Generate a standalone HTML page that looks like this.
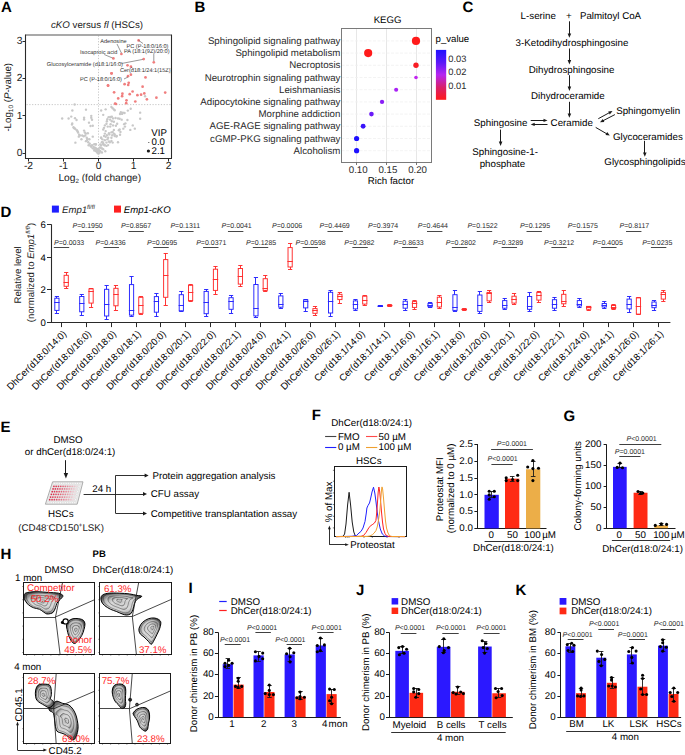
<!DOCTYPE html>
<html><head><meta charset="utf-8"><title>Figure</title>
<style>
html,body{margin:0;padding:0;background:#fff;}
body{width:685px;height:755px;overflow:hidden;}
svg{display:block;}
text{font-family:"Liberation Sans", sans-serif;text-rendering:geometricPrecision;}
</style></head>
<body>
<svg width="685" height="755" viewBox="0 0 685 755" font-family='"Liberation Sans", sans-serif'>
<rect x="0" y="0" width="685" height="755" fill="#fff"/>
<text x="1.00" y="11.80" font-size="15" font-weight="bold" fill="#000">A</text>
<text x="51.0" y="28.3" font-size="9.7" fill="#1a1a1a"><tspan font-style="italic">cKO</tspan> versus <tspan font-style="italic">fl</tspan> (HSCs)</text>
<line x1="98.50" y1="35.50" x2="98.50" y2="157.50" stroke="#b8b8b8" stroke-width="0.8" stroke-dasharray="1.2,1.6"/>
<line x1="26.50" y1="104.60" x2="170.50" y2="104.60" stroke="#b8b8b8" stroke-width="0.8" stroke-dasharray="1.2,1.6"/>
<circle cx="74.64" cy="104.53" r="1.20" fill="#c8c8c8"/>
<circle cx="72.37" cy="110.57" r="1.20" fill="#c8c8c8"/>
<circle cx="85.97" cy="109.67" r="1.20" fill="#c8c8c8"/>
<circle cx="62.18" cy="118.50" r="1.20" fill="#c8c8c8"/>
<circle cx="68.60" cy="118.50" r="1.20" fill="#c8c8c8"/>
<circle cx="71.24" cy="116.62" r="1.20" fill="#c8c8c8"/>
<circle cx="75.02" cy="118.13" r="1.20" fill="#c8c8c8"/>
<circle cx="76.53" cy="120.02" r="1.20" fill="#c8c8c8"/>
<circle cx="84.08" cy="117.75" r="1.20" fill="#c8c8c8"/>
<circle cx="84.08" cy="119.49" r="1.20" fill="#c8c8c8"/>
<circle cx="91.25" cy="115.86" r="1.20" fill="#c8c8c8"/>
<circle cx="91.25" cy="117.75" r="1.20" fill="#c8c8c8"/>
<circle cx="92.01" cy="119.79" r="1.20" fill="#c8c8c8"/>
<circle cx="88.99" cy="122.66" r="1.20" fill="#c8c8c8"/>
<circle cx="72.22" cy="123.41" r="1.20" fill="#c8c8c8"/>
<circle cx="71.99" cy="124.55" r="1.20" fill="#c8c8c8"/>
<circle cx="73.50" cy="127.19" r="1.20" fill="#c8c8c8"/>
<circle cx="74.64" cy="128.32" r="1.20" fill="#c8c8c8"/>
<circle cx="75.39" cy="129.08" r="1.20" fill="#c8c8c8"/>
<circle cx="77.66" cy="131.34" r="1.20" fill="#c8c8c8"/>
<circle cx="78.04" cy="132.48" r="1.20" fill="#c8c8c8"/>
<circle cx="84.08" cy="130.59" r="1.20" fill="#c8c8c8"/>
<circle cx="84.83" cy="132.48" r="1.20" fill="#c8c8c8"/>
<circle cx="85.97" cy="133.61" r="1.20" fill="#c8c8c8"/>
<circle cx="87.85" cy="133.23" r="1.20" fill="#c8c8c8"/>
<circle cx="79.17" cy="134.74" r="1.20" fill="#c8c8c8"/>
<circle cx="78.79" cy="136.63" r="1.20" fill="#c8c8c8"/>
<circle cx="82.19" cy="135.50" r="1.20" fill="#c8c8c8"/>
<circle cx="83.70" cy="136.25" r="1.20" fill="#c8c8c8"/>
<circle cx="85.21" cy="135.50" r="1.20" fill="#c8c8c8"/>
<circle cx="86.72" cy="137.76" r="1.20" fill="#c8c8c8"/>
<circle cx="87.48" cy="138.90" r="1.20" fill="#c8c8c8"/>
<circle cx="81.44" cy="139.27" r="1.20" fill="#c8c8c8"/>
<circle cx="92.76" cy="136.63" r="1.20" fill="#c8c8c8"/>
<circle cx="75.39" cy="142.67" r="1.20" fill="#c8c8c8"/>
<circle cx="85.97" cy="141.16" r="1.20" fill="#c8c8c8"/>
<circle cx="88.23" cy="142.30" r="1.20" fill="#c8c8c8"/>
<circle cx="89.74" cy="143.81" r="1.20" fill="#c8c8c8"/>
<circle cx="88.61" cy="145.32" r="1.20" fill="#c8c8c8"/>
<circle cx="90.50" cy="146.07" r="1.20" fill="#c8c8c8"/>
<circle cx="91.25" cy="146.83" r="1.20" fill="#c8c8c8"/>
<circle cx="94.27" cy="144.18" r="1.20" fill="#c8c8c8"/>
<circle cx="95.79" cy="144.56" r="1.20" fill="#c8c8c8"/>
<circle cx="92.76" cy="148.34" r="1.20" fill="#c8c8c8"/>
<circle cx="94.27" cy="149.09" r="1.20" fill="#c8c8c8"/>
<circle cx="95.79" cy="150.23" r="1.20" fill="#c8c8c8"/>
<circle cx="97.30" cy="152.11" r="1.20" fill="#c8c8c8"/>
<circle cx="98.43" cy="153.63" r="1.20" fill="#c8c8c8"/>
<circle cx="96.54" cy="150.60" r="1.20" fill="#c8c8c8"/>
<circle cx="100.32" cy="151.36" r="1.20" fill="#c8c8c8"/>
<circle cx="101.83" cy="148.34" r="1.20" fill="#c8c8c8"/>
<circle cx="101.07" cy="137.76" r="1.20" fill="#c8c8c8"/>
<circle cx="90.50" cy="126.06" r="1.20" fill="#c8c8c8"/>
<circle cx="92.76" cy="125.68" r="1.20" fill="#c8c8c8"/>
<circle cx="101.83" cy="142.30" r="1.20" fill="#c8c8c8"/>
<circle cx="103.34" cy="143.81" r="1.20" fill="#c8c8c8"/>
<circle cx="104.47" cy="145.32" r="1.20" fill="#c8c8c8"/>
<circle cx="100.32" cy="144.56" r="1.20" fill="#c8c8c8"/>
<circle cx="73.88" cy="127.95" r="1.20" fill="#c8c8c8"/>
<circle cx="76.90" cy="130.21" r="1.20" fill="#c8c8c8"/>
<circle cx="79.92" cy="135.50" r="1.20" fill="#c8c8c8"/>
<circle cx="89.37" cy="139.27" r="1.20" fill="#c8c8c8"/>
<circle cx="87.10" cy="140.03" r="1.20" fill="#c8c8c8"/>
<circle cx="92.01" cy="145.32" r="1.20" fill="#c8c8c8"/>
<circle cx="93.52" cy="146.83" r="1.20" fill="#c8c8c8"/>
<circle cx="95.03" cy="147.58" r="1.20" fill="#c8c8c8"/>
<circle cx="97.30" cy="149.09" r="1.20" fill="#c8c8c8"/>
<circle cx="98.81" cy="150.60" r="1.20" fill="#c8c8c8"/>
<circle cx="99.56" cy="152.87" r="1.20" fill="#c8c8c8"/>
<circle cx="97.67" cy="152.87" r="1.20" fill="#c8c8c8"/>
<circle cx="96.16" cy="151.36" r="1.20" fill="#c8c8c8"/>
<circle cx="94.27" cy="150.60" r="1.20" fill="#c8c8c8"/>
<circle cx="101.16" cy="110.44" r="1.20" fill="#c8c8c8"/>
<circle cx="105.67" cy="109.37" r="1.20" fill="#c8c8c8"/>
<circle cx="103.21" cy="114.87" r="1.20" fill="#c8c8c8"/>
<circle cx="111.42" cy="106.90" r="1.20" fill="#c8c8c8"/>
<circle cx="112.65" cy="108.14" r="1.20" fill="#c8c8c8"/>
<circle cx="113.88" cy="109.37" r="1.20" fill="#c8c8c8"/>
<circle cx="114.70" cy="110.19" r="1.20" fill="#c8c8c8"/>
<circle cx="120.86" cy="112.24" r="1.20" fill="#c8c8c8"/>
<circle cx="122.91" cy="112.65" r="1.20" fill="#c8c8c8"/>
<circle cx="124.56" cy="113.06" r="1.20" fill="#c8c8c8"/>
<circle cx="120.04" cy="114.05" r="1.20" fill="#c8c8c8"/>
<circle cx="122.09" cy="113.88" r="1.20" fill="#c8c8c8"/>
<circle cx="127.84" cy="110.60" r="1.20" fill="#c8c8c8"/>
<circle cx="130.71" cy="108.79" r="1.20" fill="#c8c8c8"/>
<circle cx="140.16" cy="112.65" r="1.20" fill="#c8c8c8"/>
<circle cx="140.16" cy="118.81" r="1.20" fill="#c8c8c8"/>
<circle cx="145.08" cy="96.23" r="1.20" fill="#c8c8c8"/>
<circle cx="108.55" cy="117.17" r="1.20" fill="#c8c8c8"/>
<circle cx="110.19" cy="117.00" r="1.20" fill="#c8c8c8"/>
<circle cx="111.83" cy="116.76" r="1.20" fill="#c8c8c8"/>
<circle cx="113.06" cy="118.40" r="1.20" fill="#c8c8c8"/>
<circle cx="115.53" cy="117.99" r="1.20" fill="#c8c8c8"/>
<circle cx="117.99" cy="118.40" r="1.20" fill="#c8c8c8"/>
<circle cx="119.63" cy="118.81" r="1.20" fill="#c8c8c8"/>
<circle cx="121.68" cy="119.63" r="1.20" fill="#c8c8c8"/>
<circle cx="127.43" cy="120.04" r="1.20" fill="#c8c8c8"/>
<circle cx="107.32" cy="119.22" r="1.20" fill="#c8c8c8"/>
<circle cx="106.90" cy="121.27" r="1.20" fill="#c8c8c8"/>
<circle cx="110.19" cy="119.63" r="1.20" fill="#c8c8c8"/>
<circle cx="111.83" cy="121.27" r="1.20" fill="#c8c8c8"/>
<circle cx="113.88" cy="121.68" r="1.20" fill="#c8c8c8"/>
<circle cx="106.49" cy="123.74" r="1.20" fill="#c8c8c8"/>
<circle cx="110.60" cy="124.15" r="1.20" fill="#c8c8c8"/>
<circle cx="104.85" cy="125.38" r="1.20" fill="#c8c8c8"/>
<circle cx="107.73" cy="126.61" r="1.20" fill="#c8c8c8"/>
<circle cx="110.19" cy="126.61" r="1.20" fill="#c8c8c8"/>
<circle cx="113.06" cy="125.38" r="1.20" fill="#c8c8c8"/>
<circle cx="115.94" cy="125.79" r="1.20" fill="#c8c8c8"/>
<circle cx="117.17" cy="123.74" r="1.20" fill="#c8c8c8"/>
<circle cx="124.15" cy="124.15" r="1.20" fill="#c8c8c8"/>
<circle cx="125.38" cy="123.33" r="1.20" fill="#c8c8c8"/>
<circle cx="104.03" cy="127.84" r="1.20" fill="#c8c8c8"/>
<circle cx="103.21" cy="129.48" r="1.20" fill="#c8c8c8"/>
<circle cx="124.97" cy="126.61" r="1.20" fill="#c8c8c8"/>
<circle cx="123.33" cy="128.66" r="1.20" fill="#c8c8c8"/>
<circle cx="119.63" cy="129.48" r="1.20" fill="#c8c8c8"/>
<circle cx="118.81" cy="130.30" r="1.20" fill="#c8c8c8"/>
<circle cx="113.88" cy="129.89" r="1.20" fill="#c8c8c8"/>
<circle cx="132.77" cy="125.38" r="1.20" fill="#c8c8c8"/>
<circle cx="134.82" cy="128.66" r="1.20" fill="#c8c8c8"/>
<circle cx="130.30" cy="129.89" r="1.20" fill="#c8c8c8"/>
<circle cx="104.85" cy="133.59" r="1.20" fill="#c8c8c8"/>
<circle cx="108.96" cy="133.18" r="1.20" fill="#c8c8c8"/>
<circle cx="111.42" cy="132.36" r="1.20" fill="#c8c8c8"/>
<circle cx="112.65" cy="131.95" r="1.20" fill="#c8c8c8"/>
<circle cx="113.88" cy="133.59" r="1.20" fill="#c8c8c8"/>
<circle cx="106.90" cy="135.23" r="1.20" fill="#c8c8c8"/>
<circle cx="109.37" cy="134.41" r="1.20" fill="#c8c8c8"/>
<circle cx="112.24" cy="135.23" r="1.20" fill="#c8c8c8"/>
<circle cx="114.70" cy="134.41" r="1.20" fill="#c8c8c8"/>
<circle cx="116.76" cy="136.05" r="1.20" fill="#c8c8c8"/>
<circle cx="120.45" cy="131.95" r="1.20" fill="#c8c8c8"/>
<circle cx="120.04" cy="134.82" r="1.20" fill="#c8c8c8"/>
<circle cx="101.16" cy="137.69" r="1.20" fill="#c8c8c8"/>
<circle cx="105.67" cy="136.87" r="1.20" fill="#c8c8c8"/>
<circle cx="108.14" cy="137.69" r="1.20" fill="#c8c8c8"/>
<circle cx="111.42" cy="137.69" r="1.20" fill="#c8c8c8"/>
<circle cx="114.70" cy="136.05" r="1.20" fill="#c8c8c8"/>
<circle cx="116.35" cy="136.46" r="1.20" fill="#c8c8c8"/>
<circle cx="104.85" cy="140.16" r="1.20" fill="#c8c8c8"/>
<circle cx="107.32" cy="139.33" r="1.20" fill="#c8c8c8"/>
<circle cx="108.96" cy="141.39" r="1.20" fill="#c8c8c8"/>
<circle cx="111.42" cy="140.98" r="1.20" fill="#c8c8c8"/>
<circle cx="112.65" cy="142.62" r="1.20" fill="#c8c8c8"/>
<circle cx="109.78" cy="142.21" r="1.20" fill="#c8c8c8"/>
<circle cx="102.80" cy="142.21" r="1.20" fill="#c8c8c8"/>
<circle cx="106.49" cy="142.62" r="1.20" fill="#c8c8c8"/>
<circle cx="103.21" cy="144.26" r="1.20" fill="#c8c8c8"/>
<circle cx="104.85" cy="145.08" r="1.20" fill="#c8c8c8"/>
<circle cx="106.49" cy="145.90" r="1.20" fill="#c8c8c8"/>
<circle cx="108.14" cy="145.08" r="1.20" fill="#c8c8c8"/>
<circle cx="117.99" cy="142.21" r="1.20" fill="#c8c8c8"/>
<circle cx="95.82" cy="144.26" r="1.20" fill="#c8c8c8"/>
<circle cx="99.93" cy="147.55" r="1.20" fill="#c8c8c8"/>
<circle cx="101.57" cy="148.37" r="1.20" fill="#c8c8c8"/>
<circle cx="103.21" cy="149.19" r="1.20" fill="#c8c8c8"/>
<circle cx="98.28" cy="151.65" r="1.20" fill="#c8c8c8"/>
<circle cx="96.64" cy="150.83" r="1.20" fill="#c8c8c8"/>
<circle cx="99.93" cy="150.83" r="1.20" fill="#c8c8c8"/>
<circle cx="105.26" cy="151.24" r="1.20" fill="#c8c8c8"/>
<circle cx="97.46" cy="152.47" r="1.20" fill="#c8c8c8"/>
<circle cx="98.69" cy="149.19" r="1.20" fill="#c8c8c8"/>
<circle cx="101.16" cy="145.49" r="1.20" fill="#c8c8c8"/>
<circle cx="102.39" cy="139.33" r="1.20" fill="#c8c8c8"/>
<circle cx="104.03" cy="136.05" r="1.20" fill="#c8c8c8"/>
<circle cx="105.67" cy="131.12" r="1.20" fill="#c8c8c8"/>
<circle cx="101.98" cy="152.47" r="1.20" fill="#c8c8c8"/>
<circle cx="96.23" cy="148.37" r="1.20" fill="#c8c8c8"/>
<circle cx="138.60" cy="40.40" r="1.35" fill="#f07e7e"/>
<circle cx="121.40" cy="54.00" r="1.35" fill="#f07e7e"/>
<circle cx="113.40" cy="58.40" r="1.35" fill="#f07e7e"/>
<circle cx="143.70" cy="59.10" r="1.35" fill="#f07e7e"/>
<circle cx="153.80" cy="62.30" r="1.35" fill="#f07e7e"/>
<circle cx="127.50" cy="65.30" r="1.35" fill="#f07e7e"/>
<circle cx="130.90" cy="66.70" r="1.35" fill="#f07e7e"/>
<circle cx="111.60" cy="73.30" r="1.35" fill="#f07e7e"/>
<circle cx="130.90" cy="74.70" r="1.35" fill="#f07e7e"/>
<circle cx="128.00" cy="76.20" r="1.35" fill="#f07e7e"/>
<circle cx="145.50" cy="77.40" r="1.35" fill="#f07e7e"/>
<circle cx="108.00" cy="85.40" r="1.35" fill="#f07e7e"/>
<circle cx="124.60" cy="84.20" r="1.35" fill="#f07e7e"/>
<circle cx="128.70" cy="82.80" r="1.35" fill="#f07e7e"/>
<circle cx="128.20" cy="85.00" r="1.35" fill="#f07e7e"/>
<circle cx="142.60" cy="86.70" r="1.35" fill="#f07e7e"/>
<circle cx="114.10" cy="92.30" r="1.35" fill="#f07e7e"/>
<circle cx="132.60" cy="91.50" r="1.35" fill="#f07e7e"/>
<circle cx="122.40" cy="93.70" r="1.35" fill="#f07e7e"/>
<circle cx="122.10" cy="96.20" r="1.35" fill="#f07e7e"/>
<circle cx="129.70" cy="94.20" r="1.35" fill="#f07e7e"/>
<circle cx="137.40" cy="95.20" r="1.35" fill="#f07e7e"/>
<circle cx="141.10" cy="94.70" r="1.35" fill="#f07e7e"/>
<circle cx="144.30" cy="93.40" r="1.35" fill="#f07e7e"/>
<circle cx="118.20" cy="98.40" r="1.35" fill="#f07e7e"/>
<circle cx="126.50" cy="100.30" r="1.35" fill="#f07e7e"/>
<circle cx="126.20" cy="103.20" r="1.35" fill="#f07e7e"/>
<circle cx="135.30" cy="101.50" r="1.35" fill="#f07e7e"/>
<circle cx="146.90" cy="99.30" r="1.35" fill="#f07e7e"/>
<circle cx="156.40" cy="97.70" r="1.35" fill="#f07e7e"/>
<circle cx="165.20" cy="92.60" r="1.35" fill="#f07e7e"/>
<circle cx="115.10" cy="103.60" r="1.35" fill="#f07e7e"/>
<circle cx="108.10" cy="85.70" r="1.35" fill="#f07e7e"/>
<circle cx="111.50" cy="73.40" r="1.35" fill="#f07e7e"/>
<circle cx="116.00" cy="104.00" r="1.35" fill="#f07e7e"/>
<text x="100.20" y="42.80" font-size="5.6" fill="#333">Adenosine</text>
<line x1="117.00" y1="44.00" x2="121.40" y2="53.00" stroke="#333" stroke-width="0.5"/>
<text x="126.50" y="47.70" font-size="5.6" fill="#333">PC (P-18:0/16:0)</text>
<line x1="138.60" y1="40.40" x2="143.00" y2="43.50" stroke="#333" stroke-width="0.5"/>
<text x="123.90" y="52.80" font-size="5.6" fill="#333">PA (18:1(9Z)/20:0)</text>
<line x1="153.80" y1="54.20" x2="153.80" y2="61.00" stroke="#333" stroke-width="0.5"/>
<text x="80.00" y="54.00" font-size="5.6" fill="#333">Isocaproic acid</text>
<line x1="104.20" y1="54.50" x2="112.50" y2="58.00" stroke="#333" stroke-width="0.5"/>
<text x="46.80" y="65.60" font-size="5.6" fill="#333">Glucosylceramide (d18:1/16:0)</text>
<line x1="121.50" y1="63.50" x2="142.80" y2="59.40" stroke="#333" stroke-width="0.5"/>
<clipPath id="clipA"><rect x="25.5" y="34.8" width="145.3" height="123.6"/></clipPath>
<text x="119.90" y="72.20" font-size="5.6" fill="#333" clip-path="url(#clipA)">Cer(d18:1/24:1(15Z))</text>
<line x1="131.00" y1="67.00" x2="133.50" y2="69.00" stroke="#333" stroke-width="0.5"/>
<text x="80.00" y="80.80" font-size="5.6" fill="#333">PC (P-18:0/16:0)</text>
<line x1="124.00" y1="79.00" x2="128.00" y2="77.00" stroke="#333" stroke-width="0.5"/>
<line x1="25.50" y1="35.00" x2="172.00" y2="35.00" stroke="#8c8c8c" stroke-width="1.6"/>
<line x1="25.50" y1="34.50" x2="25.50" y2="159.00" stroke="#2a2a2a" stroke-width="1.1"/>
<line x1="25.00" y1="158.50" x2="172.00" y2="158.50" stroke="#2a2a2a" stroke-width="1.1"/>
<line x1="171.50" y1="34.80" x2="171.50" y2="158.50" stroke="#2a2a2a" stroke-width="1.1"/>
<line x1="22.50" y1="153.50" x2="25.50" y2="153.50" stroke="#2a2a2a" stroke-width="1"/>
<text x="22.40" y="155.70" font-size="10.3" text-anchor="end" fill="#222">0</text>
<line x1="22.50" y1="115.50" x2="25.50" y2="115.50" stroke="#2a2a2a" stroke-width="1"/>
<text x="22.40" y="118.50" font-size="10.3" text-anchor="end" fill="#222">1</text>
<line x1="22.50" y1="78.50" x2="25.50" y2="78.50" stroke="#2a2a2a" stroke-width="1"/>
<text x="22.40" y="81.30" font-size="10.3" text-anchor="end" fill="#222">2</text>
<line x1="22.50" y1="41.50" x2="25.50" y2="41.50" stroke="#2a2a2a" stroke-width="1"/>
<text x="22.40" y="44.10" font-size="10.3" text-anchor="end" fill="#222">3</text>
<line x1="28.50" y1="158.50" x2="28.50" y2="161.50" stroke="#2a2a2a" stroke-width="1"/>
<text x="28.50" y="168.80" font-size="10.3" text-anchor="middle" fill="#222">-2</text>
<line x1="63.50" y1="158.50" x2="63.50" y2="161.50" stroke="#2a2a2a" stroke-width="1"/>
<text x="63.50" y="168.80" font-size="10.3" text-anchor="middle" fill="#222">-1</text>
<line x1="98.50" y1="158.50" x2="98.50" y2="161.50" stroke="#2a2a2a" stroke-width="1"/>
<text x="98.50" y="168.80" font-size="10.3" text-anchor="middle" fill="#222">0</text>
<line x1="133.50" y1="158.50" x2="133.50" y2="161.50" stroke="#2a2a2a" stroke-width="1"/>
<text x="133.50" y="168.80" font-size="10.3" text-anchor="middle" fill="#222">1</text>
<line x1="168.50" y1="158.50" x2="168.50" y2="161.50" stroke="#2a2a2a" stroke-width="1"/>
<text x="168.50" y="168.80" font-size="10.3" text-anchor="middle" fill="#222">2</text>
<text x="99.8" y="181.4" font-size="10.2" text-anchor="middle" fill="#1a1a1a">Log<tspan font-size="6.2" dy="1.2">2</tspan><tspan dy="-1.2"> (fold change)</tspan></text>
<text x="11.4" y="97.3" font-size="9.7" text-anchor="middle" fill="#1a1a1a" transform="rotate(-90 11.4 97.3)">-Log<tspan font-size="6.5" dy="2">10</tspan><tspan dy="-2"> (</tspan><tspan font-style="italic">P</tspan>-value)</text>
<text x="151.30" y="135.80" font-size="9.7">VIP</text>
<line x1="148.30" y1="142.50" x2="149.30" y2="142.50" stroke="#1a1a1a" stroke-width="0.8"/>
<text x="151.50" y="145.20" font-size="9.7">0.0</text>
<circle cx="148.40" cy="151.00" r="1.60" fill="#1a1a1a"/>
<text x="151.50" y="154.00" font-size="9.7">2.1</text>
<text x="194.40" y="11.90" font-size="15" font-weight="bold" fill="#000">B</text>
<text x="387.50" y="22.90" font-size="9.6" text-anchor="middle">KEGG</text>
<line x1="356.50" y1="28.50" x2="356.50" y2="162.50" stroke="#e4e4e4" stroke-width="0.9"/>
<line x1="386.50" y1="28.50" x2="386.50" y2="162.50" stroke="#e4e4e4" stroke-width="0.9"/>
<line x1="416.50" y1="28.50" x2="416.50" y2="162.50" stroke="#e4e4e4" stroke-width="0.9"/>
<line x1="341.50" y1="40.90" x2="431.50" y2="40.90" stroke="#f0f0f0" stroke-width="0.8" stroke-dasharray="3,1.5"/>
<line x1="341.50" y1="53.10" x2="431.50" y2="53.10" stroke="#f0f0f0" stroke-width="0.8" stroke-dasharray="3,1.5"/>
<line x1="341.50" y1="65.30" x2="431.50" y2="65.30" stroke="#f0f0f0" stroke-width="0.8" stroke-dasharray="3,1.5"/>
<line x1="341.50" y1="77.50" x2="431.50" y2="77.50" stroke="#f0f0f0" stroke-width="0.8" stroke-dasharray="3,1.5"/>
<line x1="341.50" y1="89.70" x2="431.50" y2="89.70" stroke="#f0f0f0" stroke-width="0.8" stroke-dasharray="3,1.5"/>
<line x1="341.50" y1="101.90" x2="431.50" y2="101.90" stroke="#f0f0f0" stroke-width="0.8" stroke-dasharray="3,1.5"/>
<line x1="341.50" y1="114.10" x2="431.50" y2="114.10" stroke="#f0f0f0" stroke-width="0.8" stroke-dasharray="3,1.5"/>
<line x1="341.50" y1="126.30" x2="431.50" y2="126.30" stroke="#f0f0f0" stroke-width="0.8" stroke-dasharray="3,1.5"/>
<line x1="341.50" y1="138.50" x2="431.50" y2="138.50" stroke="#f0f0f0" stroke-width="0.8" stroke-dasharray="3,1.5"/>
<line x1="341.50" y1="150.70" x2="431.50" y2="150.70" stroke="#f0f0f0" stroke-width="0.8" stroke-dasharray="3,1.5"/>
<rect x="341.50" y="28.50" width="90.00" height="134.00" fill="none" stroke="#7a7a7a" stroke-width="1.0"/>
<text x="340.40" y="44.00" font-size="9.7" text-anchor="end" fill="#2a2a2a">Sphingolipid signaling pathway</text>
<text x="340.40" y="56.20" font-size="9.7" text-anchor="end" fill="#2a2a2a">Sphingolipid metabolism</text>
<text x="340.40" y="68.40" font-size="9.7" text-anchor="end" fill="#2a2a2a">Necroptosis</text>
<text x="340.40" y="80.60" font-size="9.7" text-anchor="end" fill="#2a2a2a">Neurotrophin signaling pathway</text>
<text x="340.40" y="92.80" font-size="9.7" text-anchor="end" fill="#2a2a2a">Leishmaniasis</text>
<text x="340.40" y="105.00" font-size="9.7" text-anchor="end" fill="#2a2a2a">Adipocytokine signaling pathway</text>
<text x="340.40" y="117.20" font-size="9.7" text-anchor="end" fill="#2a2a2a">Morphine addiction</text>
<text x="340.40" y="129.40" font-size="9.7" text-anchor="end" fill="#2a2a2a">AGE-RAGE signaling pathway</text>
<text x="340.40" y="141.60" font-size="9.7" text-anchor="end" fill="#2a2a2a">cGMP-PKG signaling pathway</text>
<text x="340.40" y="153.80" font-size="9.7" text-anchor="end" fill="#2a2a2a">Alcoholism</text>
<circle cx="416.00" cy="40.90" r="4.10" fill="#ff1a1a"/>
<circle cx="368.18" cy="53.10" r="4.10" fill="#ff1a1a"/>
<circle cx="416.00" cy="65.30" r="2.70" fill="#f81d24"/>
<circle cx="416.00" cy="77.50" r="1.80" fill="#c224f0"/>
<circle cx="396.16" cy="89.70" r="2.05" fill="#a922f5"/>
<circle cx="382.02" cy="101.90" r="2.15" fill="#8a1ef6"/>
<circle cx="371.45" cy="114.10" r="2.30" fill="#6a1af8"/>
<circle cx="363.13" cy="126.30" r="2.45" fill="#3a15fb"/>
<circle cx="356.60" cy="138.50" r="2.60" fill="#1e10ff"/>
<circle cx="356.60" cy="150.70" r="2.60" fill="#1e10ff"/>
<line x1="356.50" y1="162.50" x2="356.50" y2="165.00" stroke="#555" stroke-width="0.8"/>
<text x="358.20" y="173.20" font-size="9.7" text-anchor="middle" fill="#2a2a2a">0.10</text>
<line x1="386.50" y1="162.50" x2="386.50" y2="165.00" stroke="#555" stroke-width="0.8"/>
<text x="387.90" y="173.20" font-size="9.7" text-anchor="middle" fill="#2a2a2a">0.15</text>
<line x1="416.50" y1="162.50" x2="416.50" y2="165.00" stroke="#555" stroke-width="0.8"/>
<text x="417.60" y="173.20" font-size="9.7" text-anchor="middle" fill="#2a2a2a">0.20</text>
<text x="391.00" y="184.00" font-size="9.7" text-anchor="middle">Rich factor</text>
<defs><linearGradient id="pv" x1="0" y1="0" x2="0" y2="1"><stop offset="0" stop-color="#2010ff"/><stop offset="0.25" stop-color="#5a18f8"/><stop offset="0.5" stop-color="#b624f0"/><stop offset="0.75" stop-color="#d8206a"/><stop offset="1" stop-color="#ff1a1a"/></linearGradient></defs>
<rect x="435.90" y="49.90" width="10.30" height="49.90" fill="url(#pv)"/>
<text x="435.60" y="42.00" font-size="9.6">p_value</text>
<text x="448.30" y="61.80" font-size="9.3" fill="#2a2a2a">0.03</text>
<text x="448.30" y="75.10" font-size="9.3" fill="#2a2a2a">0.02</text>
<text x="448.30" y="89.10" font-size="9.3" fill="#2a2a2a">0.01</text>
<text x="462.60" y="11.60" font-size="15" font-weight="bold" fill="#000">C</text>
<text x="520.60" y="19.20" font-size="9.75">L-serine</text>
<text x="568.80" y="19.20" font-size="9.75" text-anchor="middle">+</text>
<text x="579.90" y="19.20" font-size="9.75">Palmitoyl CoA</text>
<text x="515.60" y="45.60" font-size="9.75">3-Ketodihydrosphingosine</text>
<text x="528.80" y="72.50" font-size="9.75">Dihydrosphingosine</text>
<text x="531.00" y="99.30" font-size="9.75">Dihydroceramide</text>
<text x="550.60" y="126.00" font-size="9.75">Ceramide</text>
<text x="473.80" y="125.80" font-size="9.75">Sphingosine</text>
<text x="616.20" y="113.80" font-size="9.75">Sphingomyelin</text>
<text x="612.90" y="139.60" font-size="9.75">Glycoceramides</text>
<text x="604.30" y="165.00" font-size="9.75">Glycosphingolipids</text>
<text x="472.30" y="154.60" font-size="9.75">Sphingosine-1-</text>
<text x="479.70" y="166.60" font-size="9.75">phosphate</text>
<line x1="569.50" y1="21.30" x2="569.50" y2="35.16" stroke="#1a1a1a" stroke-width="1.0"/>
<polygon points="569.40,37.80 567.60,33.40 571.20,33.40" fill="#1a1a1a" stroke="none" stroke-width="1"/>
<line x1="569.50" y1="48.50" x2="569.50" y2="61.86" stroke="#1a1a1a" stroke-width="1.0"/>
<polygon points="569.40,64.50 567.60,60.10 571.20,60.10" fill="#1a1a1a" stroke="none" stroke-width="1"/>
<line x1="569.50" y1="75.20" x2="569.50" y2="88.36" stroke="#1a1a1a" stroke-width="1.0"/>
<polygon points="569.40,91.00 567.60,86.60 571.20,86.60" fill="#1a1a1a" stroke="none" stroke-width="1"/>
<line x1="569.50" y1="101.80" x2="569.50" y2="115.16" stroke="#1a1a1a" stroke-width="1.0"/>
<polygon points="569.40,117.80 567.60,113.40 571.20,113.40" fill="#1a1a1a" stroke="none" stroke-width="1"/>
<line x1="500.50" y1="129.60" x2="500.50" y2="143.36" stroke="#1a1a1a" stroke-width="1.0"/>
<polygon points="500.60,146.00 498.80,141.60 502.40,141.60" fill="#1a1a1a" stroke="none" stroke-width="1"/>
<line x1="644.50" y1="140.80" x2="644.50" y2="154.16" stroke="#1a1a1a" stroke-width="1.0"/>
<polygon points="644.80,156.80 643.00,152.40 646.60,152.40" fill="#1a1a1a" stroke="none" stroke-width="1"/>
<line x1="530.70" y1="120.50" x2="545.10" y2="120.50" stroke="#1a1a1a" stroke-width="1.0"/>
<polygon points="547.50,120.40 543.50,122.10 543.50,118.70" fill="#1a1a1a" stroke="none" stroke-width="1"/>
<line x1="547.50" y1="124.50" x2="533.10" y2="124.50" stroke="#1a1a1a" stroke-width="1.0"/>
<polygon points="530.70,124.40 534.70,122.70 534.70,126.10" fill="#1a1a1a" stroke="none" stroke-width="1"/>
<line x1="598.30" y1="118.70" x2="610.39" y2="112.14" stroke="#1a1a1a" stroke-width="1.0"/>
<polygon points="612.50,111.00 609.79,114.40 608.17,111.41" fill="#1a1a1a" stroke="none" stroke-width="1"/>
<line x1="614.90" y1="114.60" x2="602.13" y2="121.20" stroke="#1a1a1a" stroke-width="1.0"/>
<polygon points="600.00,122.30 602.77,118.95 604.33,121.97" fill="#1a1a1a" stroke="none" stroke-width="1"/>
<line x1="595.70" y1="127.40" x2="607.73" y2="134.39" stroke="#1a1a1a" stroke-width="1.0"/>
<polygon points="609.80,135.60 605.49,135.06 607.20,132.12" fill="#1a1a1a" stroke="none" stroke-width="1"/>
<text x="0.60" y="216.80" font-size="15" font-weight="bold" fill="#000">D</text>
<rect x="51.90" y="205.60" width="7.00" height="7.00" fill="#1f1fff"/>
<text x="62.0" y="212.8" font-size="9.6" font-style="italic" fill="#1a1a1a">Emp1<tspan font-size="6" dy="-3.6">fl/fl</tspan></text>
<rect x="114.00" y="205.60" width="7.00" height="7.00" fill="#ff2020"/>
<text x="123.80" y="212.80" font-size="9.6" font-style="italic">Emp1-cKO</text>
<line x1="51.50" y1="224.32" x2="51.50" y2="323.00" stroke="#2a2a2a" stroke-width="1.1"/>
<line x1="51.40" y1="322.50" x2="670.40" y2="322.50" stroke="#2a2a2a" stroke-width="1.1"/>
<line x1="47.00" y1="322.50" x2="51.40" y2="322.50" stroke="#2a2a2a" stroke-width="1.0"/>
<text x="45.80" y="325.90" font-size="9.6" text-anchor="end">0</text>
<line x1="47.00" y1="289.50" x2="51.40" y2="289.50" stroke="#2a2a2a" stroke-width="1.0"/>
<text x="45.80" y="293.34" font-size="9.6" text-anchor="end">2</text>
<line x1="47.00" y1="257.50" x2="51.40" y2="257.50" stroke="#2a2a2a" stroke-width="1.0"/>
<text x="45.80" y="260.78" font-size="9.6" text-anchor="end">4</text>
<line x1="47.00" y1="224.50" x2="51.40" y2="224.50" stroke="#2a2a2a" stroke-width="1.0"/>
<text x="45.80" y="228.22" font-size="9.6" text-anchor="end">6</text>
<text x="21.4" y="274.9" font-size="9.6" text-anchor="middle" transform="rotate(-90 21.4 274.9)" fill="#1a1a1a">Relative level</text>
<text x="33.6" y="272.6" font-size="9.6" text-anchor="middle" transform="rotate(-90 33.6 272.6)" fill="#1a1a1a">(normalized to <tspan font-style="italic">Emp1</tspan><tspan font-style="italic" font-size="6" dy="-3.6">fl/fl</tspan><tspan dy="3.6">)</tspan></text>
<line x1="61.50" y1="322.50" x2="61.50" y2="327.10" stroke="#2a2a2a" stroke-width="1.0"/>
<line x1="56.50" y1="296.20" x2="56.50" y2="298.20" stroke="#2323ff" stroke-width="0.95"/>
<line x1="56.50" y1="310.40" x2="56.50" y2="313.30" stroke="#2323ff" stroke-width="0.95"/>
<line x1="54.80" y1="296.50" x2="59.00" y2="296.50" stroke="#2323ff" stroke-width="0.95"/>
<line x1="54.80" y1="313.50" x2="59.00" y2="313.50" stroke="#2323ff" stroke-width="0.95"/>
<rect x="54.80" y="298.20" width="4.20" height="12.20" fill="none" stroke="#2323ff" stroke-width="0.95"/>
<line x1="54.20" y1="302.50" x2="59.60" y2="302.50" stroke="#2323ff" stroke-width="0.95"/>
<line x1="66.50" y1="272.40" x2="66.50" y2="275.30" stroke="#ff2a2a" stroke-width="0.95"/>
<line x1="66.50" y1="286.30" x2="66.50" y2="288.20" stroke="#ff2a2a" stroke-width="0.95"/>
<line x1="64.10" y1="272.50" x2="68.30" y2="272.50" stroke="#ff2a2a" stroke-width="0.95"/>
<line x1="64.10" y1="288.50" x2="68.30" y2="288.50" stroke="#ff2a2a" stroke-width="0.95"/>
<rect x="64.10" y="275.30" width="4.20" height="11.00" fill="none" stroke="#ff2a2a" stroke-width="0.95"/>
<line x1="63.50" y1="282.50" x2="68.90" y2="282.50" stroke="#ff2a2a" stroke-width="0.95"/>
<text x="67.00" y="334.40" font-size="9.6" text-anchor="end" transform="rotate(-45 67.00 334.40)">DhCer(d18:0/14:0)</text>
<line x1="86.50" y1="322.50" x2="86.50" y2="327.10" stroke="#2a2a2a" stroke-width="1.0"/>
<line x1="81.50" y1="294.60" x2="81.50" y2="296.50" stroke="#2323ff" stroke-width="0.95"/>
<line x1="81.50" y1="311.80" x2="81.50" y2="315.20" stroke="#2323ff" stroke-width="0.95"/>
<line x1="79.68" y1="294.50" x2="83.88" y2="294.50" stroke="#2323ff" stroke-width="0.95"/>
<line x1="79.68" y1="315.50" x2="83.88" y2="315.50" stroke="#2323ff" stroke-width="0.95"/>
<rect x="79.68" y="296.50" width="4.20" height="15.30" fill="none" stroke="#2323ff" stroke-width="0.95"/>
<line x1="79.08" y1="303.50" x2="84.48" y2="303.50" stroke="#2323ff" stroke-width="0.95"/>
<line x1="91.50" y1="288.20" x2="91.50" y2="288.90" stroke="#ff2a2a" stroke-width="0.95"/>
<line x1="91.50" y1="303.10" x2="91.50" y2="307.40" stroke="#ff2a2a" stroke-width="0.95"/>
<line x1="88.98" y1="288.50" x2="93.18" y2="288.50" stroke="#ff2a2a" stroke-width="0.95"/>
<line x1="88.98" y1="307.50" x2="93.18" y2="307.50" stroke="#ff2a2a" stroke-width="0.95"/>
<rect x="88.98" y="288.90" width="4.20" height="14.20" fill="none" stroke="#ff2a2a" stroke-width="0.95"/>
<line x1="88.38" y1="291.50" x2="93.78" y2="291.50" stroke="#ff2a2a" stroke-width="0.95"/>
<text x="91.88" y="334.40" font-size="9.6" text-anchor="end" transform="rotate(-45 91.88 334.40)">DhCer(d18:0/16:0)</text>
<line x1="111.50" y1="322.50" x2="111.50" y2="327.10" stroke="#2a2a2a" stroke-width="1.0"/>
<line x1="106.50" y1="285.70" x2="106.50" y2="289.30" stroke="#2323ff" stroke-width="0.95"/>
<line x1="106.50" y1="316.00" x2="106.50" y2="319.20" stroke="#2323ff" stroke-width="0.95"/>
<line x1="104.56" y1="285.50" x2="108.76" y2="285.50" stroke="#2323ff" stroke-width="0.95"/>
<line x1="104.56" y1="319.50" x2="108.76" y2="319.50" stroke="#2323ff" stroke-width="0.95"/>
<rect x="104.56" y="289.30" width="4.20" height="26.70" fill="none" stroke="#2323ff" stroke-width="0.95"/>
<line x1="103.96" y1="304.50" x2="109.36" y2="304.50" stroke="#2323ff" stroke-width="0.95"/>
<line x1="115.50" y1="285.40" x2="115.50" y2="288.30" stroke="#ff2a2a" stroke-width="0.95"/>
<line x1="115.50" y1="305.80" x2="115.50" y2="310.20" stroke="#ff2a2a" stroke-width="0.95"/>
<line x1="113.86" y1="285.50" x2="118.06" y2="285.50" stroke="#ff2a2a" stroke-width="0.95"/>
<line x1="113.86" y1="310.50" x2="118.06" y2="310.50" stroke="#ff2a2a" stroke-width="0.95"/>
<rect x="113.86" y="288.30" width="4.20" height="17.50" fill="none" stroke="#ff2a2a" stroke-width="0.95"/>
<line x1="113.26" y1="294.50" x2="118.66" y2="294.50" stroke="#ff2a2a" stroke-width="0.95"/>
<text x="116.76" y="334.40" font-size="9.6" text-anchor="end" transform="rotate(-45 116.76 334.40)">DhCer(d18:0/18:0)</text>
<line x1="136.50" y1="322.50" x2="136.50" y2="327.10" stroke="#2a2a2a" stroke-width="1.0"/>
<line x1="131.50" y1="276.50" x2="131.50" y2="284.60" stroke="#2323ff" stroke-width="0.95"/>
<line x1="131.50" y1="315.10" x2="131.50" y2="316.60" stroke="#2323ff" stroke-width="0.95"/>
<line x1="129.44" y1="276.50" x2="133.64" y2="276.50" stroke="#2323ff" stroke-width="0.95"/>
<line x1="129.44" y1="316.50" x2="133.64" y2="316.50" stroke="#2323ff" stroke-width="0.95"/>
<rect x="129.44" y="284.60" width="4.20" height="30.50" fill="none" stroke="#2323ff" stroke-width="0.95"/>
<line x1="128.84" y1="310.50" x2="134.24" y2="310.50" stroke="#2323ff" stroke-width="0.95"/>
<line x1="140.50" y1="296.20" x2="140.50" y2="297.30" stroke="#ff2a2a" stroke-width="0.95"/>
<line x1="140.50" y1="313.40" x2="140.50" y2="314.10" stroke="#ff2a2a" stroke-width="0.95"/>
<line x1="138.74" y1="296.50" x2="142.94" y2="296.50" stroke="#ff2a2a" stroke-width="0.95"/>
<line x1="138.74" y1="314.50" x2="142.94" y2="314.50" stroke="#ff2a2a" stroke-width="0.95"/>
<rect x="138.74" y="297.30" width="4.20" height="16.10" fill="none" stroke="#ff2a2a" stroke-width="0.95"/>
<line x1="138.14" y1="305.50" x2="143.54" y2="305.50" stroke="#ff2a2a" stroke-width="0.95"/>
<text x="141.64" y="334.40" font-size="9.6" text-anchor="end" transform="rotate(-45 141.64 334.40)">DhCer(d18:0/18:1)</text>
<line x1="160.50" y1="322.50" x2="160.50" y2="327.10" stroke="#2a2a2a" stroke-width="1.0"/>
<line x1="156.50" y1="293.70" x2="156.50" y2="296.60" stroke="#2323ff" stroke-width="0.95"/>
<line x1="156.50" y1="312.20" x2="156.50" y2="316.60" stroke="#2323ff" stroke-width="0.95"/>
<line x1="154.32" y1="293.50" x2="158.52" y2="293.50" stroke="#2323ff" stroke-width="0.95"/>
<line x1="154.32" y1="316.50" x2="158.52" y2="316.50" stroke="#2323ff" stroke-width="0.95"/>
<rect x="154.32" y="296.60" width="4.20" height="15.60" fill="none" stroke="#2323ff" stroke-width="0.95"/>
<line x1="153.72" y1="301.50" x2="159.12" y2="301.50" stroke="#2323ff" stroke-width="0.95"/>
<line x1="165.50" y1="253.30" x2="165.50" y2="259.60" stroke="#ff2a2a" stroke-width="0.95"/>
<line x1="165.50" y1="297.30" x2="165.50" y2="305.40" stroke="#ff2a2a" stroke-width="0.95"/>
<line x1="163.62" y1="253.50" x2="167.82" y2="253.50" stroke="#ff2a2a" stroke-width="0.95"/>
<line x1="163.62" y1="305.50" x2="167.82" y2="305.50" stroke="#ff2a2a" stroke-width="0.95"/>
<rect x="163.62" y="259.60" width="4.20" height="37.70" fill="none" stroke="#ff2a2a" stroke-width="0.95"/>
<line x1="163.02" y1="275.50" x2="168.42" y2="275.50" stroke="#ff2a2a" stroke-width="0.95"/>
<text x="166.52" y="334.40" font-size="9.6" text-anchor="end" transform="rotate(-45 166.52 334.40)">DhCer(d18:0/20:0)</text>
<line x1="185.50" y1="322.50" x2="185.50" y2="327.10" stroke="#2a2a2a" stroke-width="1.0"/>
<line x1="181.50" y1="291.10" x2="181.50" y2="294.70" stroke="#2323ff" stroke-width="0.95"/>
<line x1="181.50" y1="310.80" x2="181.50" y2="311.20" stroke="#2323ff" stroke-width="0.95"/>
<line x1="179.20" y1="291.50" x2="183.40" y2="291.50" stroke="#2323ff" stroke-width="0.95"/>
<line x1="179.20" y1="311.50" x2="183.40" y2="311.50" stroke="#2323ff" stroke-width="0.95"/>
<rect x="179.20" y="294.70" width="4.20" height="16.10" fill="none" stroke="#2323ff" stroke-width="0.95"/>
<line x1="178.60" y1="305.50" x2="184.00" y2="305.50" stroke="#2323ff" stroke-width="0.95"/>
<line x1="190.50" y1="284.20" x2="190.50" y2="285.30" stroke="#ff2a2a" stroke-width="0.95"/>
<line x1="190.50" y1="300.60" x2="190.50" y2="301.30" stroke="#ff2a2a" stroke-width="0.95"/>
<line x1="188.50" y1="284.50" x2="192.70" y2="284.50" stroke="#ff2a2a" stroke-width="0.95"/>
<line x1="188.50" y1="301.50" x2="192.70" y2="301.50" stroke="#ff2a2a" stroke-width="0.95"/>
<rect x="188.50" y="285.30" width="4.20" height="15.30" fill="none" stroke="#ff2a2a" stroke-width="0.95"/>
<line x1="187.90" y1="292.50" x2="193.30" y2="292.50" stroke="#ff2a2a" stroke-width="0.95"/>
<text x="191.40" y="334.40" font-size="9.6" text-anchor="end" transform="rotate(-45 191.40 334.40)">DhCer(d18:0/20:1)</text>
<line x1="210.50" y1="322.50" x2="210.50" y2="327.10" stroke="#2a2a2a" stroke-width="1.0"/>
<line x1="206.50" y1="289.20" x2="206.50" y2="291.40" stroke="#2323ff" stroke-width="0.95"/>
<line x1="206.50" y1="313.70" x2="206.50" y2="316.20" stroke="#2323ff" stroke-width="0.95"/>
<line x1="204.08" y1="289.50" x2="208.28" y2="289.50" stroke="#2323ff" stroke-width="0.95"/>
<line x1="204.08" y1="316.50" x2="208.28" y2="316.50" stroke="#2323ff" stroke-width="0.95"/>
<rect x="204.08" y="291.40" width="4.20" height="22.30" fill="none" stroke="#2323ff" stroke-width="0.95"/>
<line x1="203.48" y1="302.50" x2="208.88" y2="302.50" stroke="#2323ff" stroke-width="0.95"/>
<line x1="215.50" y1="266.00" x2="215.50" y2="269.20" stroke="#ff2a2a" stroke-width="0.95"/>
<line x1="215.50" y1="290.40" x2="215.50" y2="294.30" stroke="#ff2a2a" stroke-width="0.95"/>
<line x1="213.38" y1="266.50" x2="217.58" y2="266.50" stroke="#ff2a2a" stroke-width="0.95"/>
<line x1="213.38" y1="294.50" x2="217.58" y2="294.50" stroke="#ff2a2a" stroke-width="0.95"/>
<rect x="213.38" y="269.20" width="4.20" height="21.20" fill="none" stroke="#ff2a2a" stroke-width="0.95"/>
<line x1="212.78" y1="279.50" x2="218.18" y2="279.50" stroke="#ff2a2a" stroke-width="0.95"/>
<text x="216.28" y="334.40" font-size="9.6" text-anchor="end" transform="rotate(-45 216.28 334.40)">DhCer(d18:0/22:0)</text>
<line x1="235.50" y1="322.50" x2="235.50" y2="327.10" stroke="#2a2a2a" stroke-width="1.0"/>
<line x1="231.50" y1="295.50" x2="231.50" y2="297.70" stroke="#2323ff" stroke-width="0.95"/>
<line x1="231.50" y1="309.30" x2="231.50" y2="313.00" stroke="#2323ff" stroke-width="0.95"/>
<line x1="228.96" y1="295.50" x2="233.16" y2="295.50" stroke="#2323ff" stroke-width="0.95"/>
<line x1="228.96" y1="313.50" x2="233.16" y2="313.50" stroke="#2323ff" stroke-width="0.95"/>
<rect x="228.96" y="297.70" width="4.20" height="11.60" fill="none" stroke="#2323ff" stroke-width="0.95"/>
<line x1="228.36" y1="301.50" x2="233.76" y2="301.50" stroke="#2323ff" stroke-width="0.95"/>
<line x1="240.50" y1="265.50" x2="240.50" y2="268.50" stroke="#ff2a2a" stroke-width="0.95"/>
<line x1="240.50" y1="284.10" x2="240.50" y2="286.40" stroke="#ff2a2a" stroke-width="0.95"/>
<line x1="238.26" y1="265.50" x2="242.46" y2="265.50" stroke="#ff2a2a" stroke-width="0.95"/>
<line x1="238.26" y1="286.50" x2="242.46" y2="286.50" stroke="#ff2a2a" stroke-width="0.95"/>
<rect x="238.26" y="268.50" width="4.20" height="15.60" fill="none" stroke="#ff2a2a" stroke-width="0.95"/>
<line x1="237.66" y1="276.50" x2="243.06" y2="276.50" stroke="#ff2a2a" stroke-width="0.95"/>
<text x="241.16" y="334.40" font-size="9.6" text-anchor="end" transform="rotate(-45 241.16 334.40)">DhCer(d18:0/22:1)</text>
<line x1="260.50" y1="322.50" x2="260.50" y2="327.10" stroke="#2a2a2a" stroke-width="1.0"/>
<line x1="255.50" y1="277.70" x2="255.50" y2="284.50" stroke="#2323ff" stroke-width="0.95"/>
<line x1="255.50" y1="315.90" x2="255.50" y2="317.10" stroke="#2323ff" stroke-width="0.95"/>
<line x1="253.84" y1="277.50" x2="258.04" y2="277.50" stroke="#2323ff" stroke-width="0.95"/>
<line x1="253.84" y1="317.50" x2="258.04" y2="317.50" stroke="#2323ff" stroke-width="0.95"/>
<rect x="253.84" y="284.50" width="4.20" height="31.40" fill="none" stroke="#2323ff" stroke-width="0.95"/>
<line x1="253.24" y1="308.50" x2="258.64" y2="308.50" stroke="#2323ff" stroke-width="0.95"/>
<line x1="265.50" y1="275.30" x2="265.50" y2="278.70" stroke="#ff2a2a" stroke-width="0.95"/>
<line x1="265.50" y1="290.40" x2="265.50" y2="291.40" stroke="#ff2a2a" stroke-width="0.95"/>
<line x1="263.14" y1="275.50" x2="267.34" y2="275.50" stroke="#ff2a2a" stroke-width="0.95"/>
<line x1="263.14" y1="291.50" x2="267.34" y2="291.50" stroke="#ff2a2a" stroke-width="0.95"/>
<rect x="263.14" y="278.70" width="4.20" height="11.70" fill="none" stroke="#ff2a2a" stroke-width="0.95"/>
<line x1="262.54" y1="288.50" x2="267.94" y2="288.50" stroke="#ff2a2a" stroke-width="0.95"/>
<text x="266.04" y="334.40" font-size="9.6" text-anchor="end" transform="rotate(-45 266.04 334.40)">DhCer(d18:0/24:0)</text>
<line x1="285.50" y1="322.50" x2="285.50" y2="327.10" stroke="#2a2a2a" stroke-width="1.0"/>
<line x1="280.50" y1="293.30" x2="280.50" y2="295.90" stroke="#2323ff" stroke-width="0.95"/>
<line x1="280.50" y1="307.20" x2="280.50" y2="308.60" stroke="#2323ff" stroke-width="0.95"/>
<line x1="278.72" y1="293.50" x2="282.92" y2="293.50" stroke="#2323ff" stroke-width="0.95"/>
<line x1="278.72" y1="308.50" x2="282.92" y2="308.50" stroke="#2323ff" stroke-width="0.95"/>
<rect x="278.72" y="295.90" width="4.20" height="11.30" fill="none" stroke="#2323ff" stroke-width="0.95"/>
<line x1="278.12" y1="304.50" x2="283.52" y2="304.50" stroke="#2323ff" stroke-width="0.95"/>
<line x1="290.50" y1="243.20" x2="290.50" y2="247.60" stroke="#ff2a2a" stroke-width="0.95"/>
<line x1="290.50" y1="267.00" x2="290.50" y2="269.20" stroke="#ff2a2a" stroke-width="0.95"/>
<line x1="288.02" y1="243.50" x2="292.22" y2="243.50" stroke="#ff2a2a" stroke-width="0.95"/>
<line x1="288.02" y1="269.50" x2="292.22" y2="269.50" stroke="#ff2a2a" stroke-width="0.95"/>
<rect x="288.02" y="247.60" width="4.20" height="19.40" fill="none" stroke="#ff2a2a" stroke-width="0.95"/>
<line x1="287.42" y1="261.50" x2="292.82" y2="261.50" stroke="#ff2a2a" stroke-width="0.95"/>
<text x="290.92" y="334.40" font-size="9.6" text-anchor="end" transform="rotate(-45 290.92 334.40)">DhCer(d18:0/24:1)</text>
<line x1="310.50" y1="322.50" x2="310.50" y2="327.10" stroke="#2a2a2a" stroke-width="1.0"/>
<line x1="305.50" y1="299.10" x2="305.50" y2="299.90" stroke="#2323ff" stroke-width="0.95"/>
<line x1="305.50" y1="307.90" x2="305.50" y2="311.20" stroke="#2323ff" stroke-width="0.95"/>
<line x1="303.60" y1="299.50" x2="307.80" y2="299.50" stroke="#2323ff" stroke-width="0.95"/>
<line x1="303.60" y1="311.50" x2="307.80" y2="311.50" stroke="#2323ff" stroke-width="0.95"/>
<rect x="303.60" y="299.90" width="4.20" height="8.00" fill="none" stroke="#2323ff" stroke-width="0.95"/>
<line x1="303.00" y1="301.50" x2="308.40" y2="301.50" stroke="#2323ff" stroke-width="0.95"/>
<line x1="315.50" y1="306.40" x2="315.50" y2="308.60" stroke="#ff2a2a" stroke-width="0.95"/>
<line x1="315.50" y1="313.30" x2="315.50" y2="315.20" stroke="#ff2a2a" stroke-width="0.95"/>
<line x1="312.90" y1="306.50" x2="317.10" y2="306.50" stroke="#ff2a2a" stroke-width="0.95"/>
<line x1="312.90" y1="315.50" x2="317.10" y2="315.50" stroke="#ff2a2a" stroke-width="0.95"/>
<rect x="312.90" y="308.60" width="4.20" height="4.70" fill="none" stroke="#ff2a2a" stroke-width="0.95"/>
<line x1="312.30" y1="310.50" x2="317.70" y2="310.50" stroke="#ff2a2a" stroke-width="0.95"/>
<text x="315.80" y="334.40" font-size="9.6" text-anchor="end" transform="rotate(-45 315.80 334.40)">DhCer(d18:0/26:0)</text>
<line x1="335.50" y1="322.50" x2="335.50" y2="327.10" stroke="#2a2a2a" stroke-width="1.0"/>
<line x1="330.50" y1="290.80" x2="330.50" y2="292.30" stroke="#2323ff" stroke-width="0.95"/>
<line x1="330.50" y1="313.00" x2="330.50" y2="316.20" stroke="#2323ff" stroke-width="0.95"/>
<line x1="328.48" y1="290.50" x2="332.68" y2="290.50" stroke="#2323ff" stroke-width="0.95"/>
<line x1="328.48" y1="316.50" x2="332.68" y2="316.50" stroke="#2323ff" stroke-width="0.95"/>
<rect x="328.48" y="292.30" width="4.20" height="20.70" fill="none" stroke="#2323ff" stroke-width="0.95"/>
<line x1="327.88" y1="301.50" x2="333.28" y2="301.50" stroke="#2323ff" stroke-width="0.95"/>
<line x1="339.50" y1="292.60" x2="339.50" y2="294.30" stroke="#ff2a2a" stroke-width="0.95"/>
<line x1="339.50" y1="299.60" x2="339.50" y2="303.10" stroke="#ff2a2a" stroke-width="0.95"/>
<line x1="337.78" y1="292.50" x2="341.98" y2="292.50" stroke="#ff2a2a" stroke-width="0.95"/>
<line x1="337.78" y1="303.50" x2="341.98" y2="303.50" stroke="#ff2a2a" stroke-width="0.95"/>
<rect x="337.78" y="294.30" width="4.20" height="5.30" fill="none" stroke="#ff2a2a" stroke-width="0.95"/>
<line x1="337.18" y1="296.50" x2="342.58" y2="296.50" stroke="#ff2a2a" stroke-width="0.95"/>
<text x="340.68" y="334.40" font-size="9.6" text-anchor="end" transform="rotate(-45 340.68 334.40)">DhCer(d18:0/26:1)</text>
<line x1="359.50" y1="322.50" x2="359.50" y2="327.10" stroke="#2a2a2a" stroke-width="1.0"/>
<line x1="355.50" y1="299.70" x2="355.50" y2="300.90" stroke="#2323ff" stroke-width="0.95"/>
<line x1="355.50" y1="308.90" x2="355.50" y2="310.40" stroke="#2323ff" stroke-width="0.95"/>
<line x1="353.36" y1="299.50" x2="357.56" y2="299.50" stroke="#2323ff" stroke-width="0.95"/>
<line x1="353.36" y1="310.50" x2="357.56" y2="310.50" stroke="#2323ff" stroke-width="0.95"/>
<rect x="353.36" y="300.90" width="4.20" height="8.00" fill="none" stroke="#2323ff" stroke-width="0.95"/>
<line x1="352.76" y1="304.50" x2="358.16" y2="304.50" stroke="#2323ff" stroke-width="0.95"/>
<line x1="364.50" y1="295.00" x2="364.50" y2="296.20" stroke="#ff2a2a" stroke-width="0.95"/>
<line x1="364.50" y1="304.10" x2="364.50" y2="305.30" stroke="#ff2a2a" stroke-width="0.95"/>
<line x1="362.66" y1="295.50" x2="366.86" y2="295.50" stroke="#ff2a2a" stroke-width="0.95"/>
<line x1="362.66" y1="305.50" x2="366.86" y2="305.50" stroke="#ff2a2a" stroke-width="0.95"/>
<rect x="362.66" y="296.20" width="4.20" height="7.90" fill="none" stroke="#ff2a2a" stroke-width="0.95"/>
<line x1="362.06" y1="300.50" x2="367.46" y2="300.50" stroke="#ff2a2a" stroke-width="0.95"/>
<text x="365.56" y="334.40" font-size="9.6" text-anchor="end" transform="rotate(-45 365.56 334.40)">Cer(d18:1/14:0)</text>
<line x1="384.50" y1="322.50" x2="384.50" y2="327.10" stroke="#2a2a2a" stroke-width="1.0"/>
<line x1="380.50" y1="305.30" x2="380.50" y2="305.60" stroke="#2323ff" stroke-width="0.95"/>
<line x1="380.50" y1="306.30" x2="380.50" y2="306.60" stroke="#2323ff" stroke-width="0.95"/>
<line x1="378.24" y1="305.50" x2="382.44" y2="305.50" stroke="#2323ff" stroke-width="0.95"/>
<line x1="378.24" y1="306.50" x2="382.44" y2="306.50" stroke="#2323ff" stroke-width="0.95"/>
<rect x="378.24" y="305.60" width="4.20" height="0.70" fill="none" stroke="#2323ff" stroke-width="0.95"/>
<line x1="377.64" y1="306.50" x2="383.04" y2="306.50" stroke="#2323ff" stroke-width="0.95"/>
<line x1="389.50" y1="304.90" x2="389.50" y2="305.20" stroke="#ff2a2a" stroke-width="0.95"/>
<line x1="389.50" y1="306.00" x2="389.50" y2="306.30" stroke="#ff2a2a" stroke-width="0.95"/>
<line x1="387.54" y1="304.50" x2="391.74" y2="304.50" stroke="#ff2a2a" stroke-width="0.95"/>
<line x1="387.54" y1="306.50" x2="391.74" y2="306.50" stroke="#ff2a2a" stroke-width="0.95"/>
<rect x="387.54" y="305.20" width="4.20" height="0.80" fill="none" stroke="#ff2a2a" stroke-width="0.95"/>
<line x1="386.94" y1="305.50" x2="392.34" y2="305.50" stroke="#ff2a2a" stroke-width="0.95"/>
<text x="390.44" y="334.40" font-size="9.6" text-anchor="end" transform="rotate(-45 390.44 334.40)">Cer(d18:1/14:1)</text>
<line x1="409.50" y1="322.50" x2="409.50" y2="327.10" stroke="#2a2a2a" stroke-width="1.0"/>
<line x1="405.50" y1="299.10" x2="405.50" y2="301.20" stroke="#2323ff" stroke-width="0.95"/>
<line x1="405.50" y1="308.20" x2="405.50" y2="310.40" stroke="#2323ff" stroke-width="0.95"/>
<line x1="403.12" y1="299.50" x2="407.32" y2="299.50" stroke="#2323ff" stroke-width="0.95"/>
<line x1="403.12" y1="310.50" x2="407.32" y2="310.50" stroke="#2323ff" stroke-width="0.95"/>
<rect x="403.12" y="301.20" width="4.20" height="7.00" fill="none" stroke="#2323ff" stroke-width="0.95"/>
<line x1="402.52" y1="304.50" x2="407.92" y2="304.50" stroke="#2323ff" stroke-width="0.95"/>
<line x1="414.50" y1="300.10" x2="414.50" y2="301.60" stroke="#ff2a2a" stroke-width="0.95"/>
<line x1="414.50" y1="307.40" x2="414.50" y2="309.30" stroke="#ff2a2a" stroke-width="0.95"/>
<line x1="412.42" y1="300.50" x2="416.62" y2="300.50" stroke="#ff2a2a" stroke-width="0.95"/>
<line x1="412.42" y1="309.50" x2="416.62" y2="309.50" stroke="#ff2a2a" stroke-width="0.95"/>
<rect x="412.42" y="301.60" width="4.20" height="5.80" fill="none" stroke="#ff2a2a" stroke-width="0.95"/>
<line x1="411.82" y1="303.50" x2="417.22" y2="303.50" stroke="#ff2a2a" stroke-width="0.95"/>
<text x="415.32" y="334.40" font-size="9.6" text-anchor="end" transform="rotate(-45 415.32 334.40)">Cer(d18:1/16:0)</text>
<line x1="434.50" y1="322.50" x2="434.50" y2="327.10" stroke="#2a2a2a" stroke-width="1.0"/>
<line x1="430.50" y1="302.60" x2="430.50" y2="303.40" stroke="#2323ff" stroke-width="0.95"/>
<line x1="430.50" y1="306.70" x2="430.50" y2="307.40" stroke="#2323ff" stroke-width="0.95"/>
<line x1="428.00" y1="302.50" x2="432.20" y2="302.50" stroke="#2323ff" stroke-width="0.95"/>
<line x1="428.00" y1="307.50" x2="432.20" y2="307.50" stroke="#2323ff" stroke-width="0.95"/>
<rect x="428.00" y="303.40" width="4.20" height="3.30" fill="none" stroke="#2323ff" stroke-width="0.95"/>
<line x1="427.40" y1="305.50" x2="432.80" y2="305.50" stroke="#2323ff" stroke-width="0.95"/>
<line x1="439.50" y1="295.50" x2="439.50" y2="297.20" stroke="#ff2a2a" stroke-width="0.95"/>
<line x1="439.50" y1="307.00" x2="439.50" y2="308.50" stroke="#ff2a2a" stroke-width="0.95"/>
<line x1="437.30" y1="295.50" x2="441.50" y2="295.50" stroke="#ff2a2a" stroke-width="0.95"/>
<line x1="437.30" y1="308.50" x2="441.50" y2="308.50" stroke="#ff2a2a" stroke-width="0.95"/>
<rect x="437.30" y="297.20" width="4.20" height="9.80" fill="none" stroke="#ff2a2a" stroke-width="0.95"/>
<line x1="436.70" y1="302.50" x2="442.10" y2="302.50" stroke="#ff2a2a" stroke-width="0.95"/>
<text x="440.20" y="334.40" font-size="9.6" text-anchor="end" transform="rotate(-45 440.20 334.40)">Cer(d18:1/16:1)</text>
<line x1="459.50" y1="322.50" x2="459.50" y2="327.10" stroke="#2a2a2a" stroke-width="1.0"/>
<line x1="454.50" y1="290.40" x2="454.50" y2="294.70" stroke="#2323ff" stroke-width="0.95"/>
<line x1="454.50" y1="310.40" x2="454.50" y2="311.10" stroke="#2323ff" stroke-width="0.95"/>
<line x1="452.88" y1="290.50" x2="457.08" y2="290.50" stroke="#2323ff" stroke-width="0.95"/>
<line x1="452.88" y1="311.50" x2="457.08" y2="311.50" stroke="#2323ff" stroke-width="0.95"/>
<rect x="452.88" y="294.70" width="4.20" height="15.70" fill="none" stroke="#2323ff" stroke-width="0.95"/>
<line x1="452.28" y1="307.50" x2="457.68" y2="307.50" stroke="#2323ff" stroke-width="0.95"/>
<line x1="464.50" y1="308.90" x2="464.50" y2="309.10" stroke="#ff2a2a" stroke-width="0.95"/>
<line x1="464.50" y1="309.70" x2="464.50" y2="310.00" stroke="#ff2a2a" stroke-width="0.95"/>
<line x1="462.18" y1="308.50" x2="466.38" y2="308.50" stroke="#ff2a2a" stroke-width="0.95"/>
<line x1="462.18" y1="310.50" x2="466.38" y2="310.50" stroke="#ff2a2a" stroke-width="0.95"/>
<rect x="462.18" y="309.10" width="4.20" height="0.60" fill="none" stroke="#ff2a2a" stroke-width="0.95"/>
<line x1="461.58" y1="309.50" x2="466.98" y2="309.50" stroke="#ff2a2a" stroke-width="0.95"/>
<text x="465.08" y="334.40" font-size="9.6" text-anchor="end" transform="rotate(-45 465.08 334.40)">Cer(d18:1/18:0)</text>
<line x1="484.50" y1="322.50" x2="484.50" y2="327.10" stroke="#2a2a2a" stroke-width="1.0"/>
<line x1="479.50" y1="291.40" x2="479.50" y2="295.00" stroke="#2323ff" stroke-width="0.95"/>
<line x1="479.50" y1="311.40" x2="479.50" y2="313.60" stroke="#2323ff" stroke-width="0.95"/>
<line x1="477.76" y1="291.50" x2="481.96" y2="291.50" stroke="#2323ff" stroke-width="0.95"/>
<line x1="477.76" y1="313.50" x2="481.96" y2="313.50" stroke="#2323ff" stroke-width="0.95"/>
<rect x="477.76" y="295.00" width="4.20" height="16.40" fill="none" stroke="#2323ff" stroke-width="0.95"/>
<line x1="477.16" y1="305.50" x2="482.56" y2="305.50" stroke="#2323ff" stroke-width="0.95"/>
<line x1="489.50" y1="290.70" x2="489.50" y2="292.40" stroke="#ff2a2a" stroke-width="0.95"/>
<line x1="489.50" y1="300.90" x2="489.50" y2="302.60" stroke="#ff2a2a" stroke-width="0.95"/>
<line x1="487.06" y1="290.50" x2="491.26" y2="290.50" stroke="#ff2a2a" stroke-width="0.95"/>
<line x1="487.06" y1="302.50" x2="491.26" y2="302.50" stroke="#ff2a2a" stroke-width="0.95"/>
<rect x="487.06" y="292.40" width="4.20" height="8.50" fill="none" stroke="#ff2a2a" stroke-width="0.95"/>
<line x1="486.46" y1="293.50" x2="491.86" y2="293.50" stroke="#ff2a2a" stroke-width="0.95"/>
<text x="489.96" y="334.40" font-size="9.6" text-anchor="end" transform="rotate(-45 489.96 334.40)">Cer(d18:1/20:0)</text>
<line x1="509.50" y1="322.50" x2="509.50" y2="327.10" stroke="#2a2a2a" stroke-width="1.0"/>
<line x1="504.50" y1="298.20" x2="504.50" y2="300.60" stroke="#2323ff" stroke-width="0.95"/>
<line x1="504.50" y1="308.20" x2="504.50" y2="309.30" stroke="#2323ff" stroke-width="0.95"/>
<line x1="502.64" y1="298.50" x2="506.84" y2="298.50" stroke="#2323ff" stroke-width="0.95"/>
<line x1="502.64" y1="309.50" x2="506.84" y2="309.50" stroke="#2323ff" stroke-width="0.95"/>
<rect x="502.64" y="300.60" width="4.20" height="7.60" fill="none" stroke="#2323ff" stroke-width="0.95"/>
<line x1="502.04" y1="305.50" x2="507.44" y2="305.50" stroke="#2323ff" stroke-width="0.95"/>
<line x1="514.50" y1="293.30" x2="514.50" y2="296.20" stroke="#ff2a2a" stroke-width="0.95"/>
<line x1="514.50" y1="303.10" x2="514.50" y2="304.10" stroke="#ff2a2a" stroke-width="0.95"/>
<line x1="511.94" y1="293.50" x2="516.14" y2="293.50" stroke="#ff2a2a" stroke-width="0.95"/>
<line x1="511.94" y1="304.50" x2="516.14" y2="304.50" stroke="#ff2a2a" stroke-width="0.95"/>
<rect x="511.94" y="296.20" width="4.20" height="6.90" fill="none" stroke="#ff2a2a" stroke-width="0.95"/>
<line x1="511.34" y1="299.50" x2="516.74" y2="299.50" stroke="#ff2a2a" stroke-width="0.95"/>
<text x="514.84" y="334.40" font-size="9.6" text-anchor="end" transform="rotate(-45 514.84 334.40)">Cer(d18:1/20:1)</text>
<line x1="534.50" y1="322.50" x2="534.50" y2="327.10" stroke="#2a2a2a" stroke-width="1.0"/>
<line x1="529.50" y1="292.40" x2="529.50" y2="296.50" stroke="#2323ff" stroke-width="0.95"/>
<line x1="529.50" y1="309.30" x2="529.50" y2="311.10" stroke="#2323ff" stroke-width="0.95"/>
<line x1="527.52" y1="292.50" x2="531.72" y2="292.50" stroke="#2323ff" stroke-width="0.95"/>
<line x1="527.52" y1="311.50" x2="531.72" y2="311.50" stroke="#2323ff" stroke-width="0.95"/>
<rect x="527.52" y="296.50" width="4.20" height="12.80" fill="none" stroke="#2323ff" stroke-width="0.95"/>
<line x1="526.92" y1="306.50" x2="532.32" y2="306.50" stroke="#2323ff" stroke-width="0.95"/>
<line x1="538.50" y1="291.00" x2="538.50" y2="292.40" stroke="#ff2a2a" stroke-width="0.95"/>
<line x1="538.50" y1="300.10" x2="538.50" y2="302.30" stroke="#ff2a2a" stroke-width="0.95"/>
<line x1="536.82" y1="291.50" x2="541.02" y2="291.50" stroke="#ff2a2a" stroke-width="0.95"/>
<line x1="536.82" y1="302.50" x2="541.02" y2="302.50" stroke="#ff2a2a" stroke-width="0.95"/>
<rect x="536.82" y="292.40" width="4.20" height="7.70" fill="none" stroke="#ff2a2a" stroke-width="0.95"/>
<line x1="536.22" y1="295.50" x2="541.62" y2="295.50" stroke="#ff2a2a" stroke-width="0.95"/>
<text x="539.72" y="334.40" font-size="9.6" text-anchor="end" transform="rotate(-45 539.72 334.40)">Cer(d18:1/22:0)</text>
<line x1="559.50" y1="322.50" x2="559.50" y2="327.10" stroke="#2a2a2a" stroke-width="1.0"/>
<line x1="554.50" y1="297.20" x2="554.50" y2="299.70" stroke="#2323ff" stroke-width="0.95"/>
<line x1="554.50" y1="308.20" x2="554.50" y2="310.40" stroke="#2323ff" stroke-width="0.95"/>
<line x1="552.40" y1="297.50" x2="556.60" y2="297.50" stroke="#2323ff" stroke-width="0.95"/>
<line x1="552.40" y1="310.50" x2="556.60" y2="310.50" stroke="#2323ff" stroke-width="0.95"/>
<rect x="552.40" y="299.70" width="4.20" height="8.50" fill="none" stroke="#2323ff" stroke-width="0.95"/>
<line x1="551.80" y1="304.50" x2="557.20" y2="304.50" stroke="#2323ff" stroke-width="0.95"/>
<line x1="563.50" y1="290.70" x2="563.50" y2="294.30" stroke="#ff2a2a" stroke-width="0.95"/>
<line x1="563.50" y1="303.80" x2="563.50" y2="306.00" stroke="#ff2a2a" stroke-width="0.95"/>
<line x1="561.70" y1="290.50" x2="565.90" y2="290.50" stroke="#ff2a2a" stroke-width="0.95"/>
<line x1="561.70" y1="306.50" x2="565.90" y2="306.50" stroke="#ff2a2a" stroke-width="0.95"/>
<rect x="561.70" y="294.30" width="4.20" height="9.50" fill="none" stroke="#ff2a2a" stroke-width="0.95"/>
<line x1="561.10" y1="301.50" x2="566.50" y2="301.50" stroke="#ff2a2a" stroke-width="0.95"/>
<text x="564.60" y="334.40" font-size="9.6" text-anchor="end" transform="rotate(-45 564.60 334.40)">Cer(d18:1/22:1)</text>
<line x1="583.50" y1="322.50" x2="583.50" y2="327.10" stroke="#2a2a2a" stroke-width="1.0"/>
<line x1="579.50" y1="298.70" x2="579.50" y2="300.60" stroke="#2323ff" stroke-width="0.95"/>
<line x1="579.50" y1="306.00" x2="579.50" y2="307.00" stroke="#2323ff" stroke-width="0.95"/>
<line x1="577.28" y1="298.50" x2="581.48" y2="298.50" stroke="#2323ff" stroke-width="0.95"/>
<line x1="577.28" y1="307.50" x2="581.48" y2="307.50" stroke="#2323ff" stroke-width="0.95"/>
<rect x="577.28" y="300.60" width="4.20" height="5.40" fill="none" stroke="#2323ff" stroke-width="0.95"/>
<line x1="576.68" y1="304.50" x2="582.08" y2="304.50" stroke="#2323ff" stroke-width="0.95"/>
<line x1="588.50" y1="306.00" x2="588.50" y2="306.40" stroke="#ff2a2a" stroke-width="0.95"/>
<line x1="588.50" y1="309.30" x2="588.50" y2="310.40" stroke="#ff2a2a" stroke-width="0.95"/>
<line x1="586.58" y1="306.50" x2="590.78" y2="306.50" stroke="#ff2a2a" stroke-width="0.95"/>
<line x1="586.58" y1="310.50" x2="590.78" y2="310.50" stroke="#ff2a2a" stroke-width="0.95"/>
<rect x="586.58" y="306.40" width="4.20" height="2.90" fill="none" stroke="#ff2a2a" stroke-width="0.95"/>
<line x1="585.98" y1="307.50" x2="591.38" y2="307.50" stroke="#ff2a2a" stroke-width="0.95"/>
<text x="589.48" y="334.40" font-size="9.6" text-anchor="end" transform="rotate(-45 589.48 334.40)">Cer(d18:1/24:0)</text>
<line x1="608.50" y1="322.50" x2="608.50" y2="327.10" stroke="#2a2a2a" stroke-width="1.0"/>
<line x1="604.50" y1="301.60" x2="604.50" y2="303.50" stroke="#2323ff" stroke-width="0.95"/>
<line x1="604.50" y1="307.00" x2="604.50" y2="308.20" stroke="#2323ff" stroke-width="0.95"/>
<line x1="602.16" y1="301.50" x2="606.36" y2="301.50" stroke="#2323ff" stroke-width="0.95"/>
<line x1="602.16" y1="308.50" x2="606.36" y2="308.50" stroke="#2323ff" stroke-width="0.95"/>
<rect x="602.16" y="303.50" width="4.20" height="3.50" fill="none" stroke="#2323ff" stroke-width="0.95"/>
<line x1="601.56" y1="305.50" x2="606.96" y2="305.50" stroke="#2323ff" stroke-width="0.95"/>
<line x1="613.50" y1="304.50" x2="613.50" y2="305.50" stroke="#ff2a2a" stroke-width="0.95"/>
<line x1="613.50" y1="308.50" x2="613.50" y2="309.60" stroke="#ff2a2a" stroke-width="0.95"/>
<line x1="611.46" y1="304.50" x2="615.66" y2="304.50" stroke="#ff2a2a" stroke-width="0.95"/>
<line x1="611.46" y1="309.50" x2="615.66" y2="309.50" stroke="#ff2a2a" stroke-width="0.95"/>
<rect x="611.46" y="305.50" width="4.20" height="3.00" fill="none" stroke="#ff2a2a" stroke-width="0.95"/>
<line x1="610.86" y1="307.50" x2="616.26" y2="307.50" stroke="#ff2a2a" stroke-width="0.95"/>
<text x="614.36" y="334.40" font-size="9.6" text-anchor="end" transform="rotate(-45 614.36 334.40)">Cer(d18:1/24:1)</text>
<line x1="633.50" y1="322.50" x2="633.50" y2="327.10" stroke="#2a2a2a" stroke-width="1.0"/>
<line x1="629.50" y1="296.50" x2="629.50" y2="299.10" stroke="#2323ff" stroke-width="0.95"/>
<line x1="629.50" y1="308.90" x2="629.50" y2="312.30" stroke="#2323ff" stroke-width="0.95"/>
<line x1="627.04" y1="296.50" x2="631.24" y2="296.50" stroke="#2323ff" stroke-width="0.95"/>
<line x1="627.04" y1="312.50" x2="631.24" y2="312.50" stroke="#2323ff" stroke-width="0.95"/>
<rect x="627.04" y="299.10" width="4.20" height="9.80" fill="none" stroke="#2323ff" stroke-width="0.95"/>
<line x1="626.44" y1="304.50" x2="631.84" y2="304.50" stroke="#2323ff" stroke-width="0.95"/>
<line x1="638.50" y1="297.70" x2="638.50" y2="297.90" stroke="#ff2a2a" stroke-width="0.95"/>
<line x1="638.50" y1="314.10" x2="638.50" y2="314.30" stroke="#ff2a2a" stroke-width="0.95"/>
<line x1="636.34" y1="297.50" x2="640.54" y2="297.50" stroke="#ff2a2a" stroke-width="0.95"/>
<line x1="636.34" y1="314.50" x2="640.54" y2="314.50" stroke="#ff2a2a" stroke-width="0.95"/>
<rect x="636.34" y="297.90" width="4.20" height="16.20" fill="none" stroke="#ff2a2a" stroke-width="0.95"/>
<line x1="635.74" y1="306.50" x2="641.14" y2="306.50" stroke="#ff2a2a" stroke-width="0.95"/>
<text x="639.24" y="334.40" font-size="9.6" text-anchor="end" transform="rotate(-45 639.24 334.40)">Cer(d18:1/26:0)</text>
<line x1="658.50" y1="322.50" x2="658.50" y2="327.10" stroke="#2a2a2a" stroke-width="1.0"/>
<line x1="654.50" y1="300.60" x2="654.50" y2="302.00" stroke="#2323ff" stroke-width="0.95"/>
<line x1="654.50" y1="307.70" x2="654.50" y2="310.40" stroke="#2323ff" stroke-width="0.95"/>
<line x1="651.92" y1="300.50" x2="656.12" y2="300.50" stroke="#2323ff" stroke-width="0.95"/>
<line x1="651.92" y1="310.50" x2="656.12" y2="310.50" stroke="#2323ff" stroke-width="0.95"/>
<rect x="651.92" y="302.00" width="4.20" height="5.70" fill="none" stroke="#2323ff" stroke-width="0.95"/>
<line x1="651.32" y1="305.50" x2="656.72" y2="305.50" stroke="#2323ff" stroke-width="0.95"/>
<line x1="663.50" y1="290.70" x2="663.50" y2="292.40" stroke="#ff2a2a" stroke-width="0.95"/>
<line x1="663.50" y1="299.10" x2="663.50" y2="301.30" stroke="#ff2a2a" stroke-width="0.95"/>
<line x1="661.22" y1="290.50" x2="665.42" y2="290.50" stroke="#ff2a2a" stroke-width="0.95"/>
<line x1="661.22" y1="301.50" x2="665.42" y2="301.50" stroke="#ff2a2a" stroke-width="0.95"/>
<rect x="661.22" y="292.40" width="4.20" height="6.70" fill="none" stroke="#ff2a2a" stroke-width="0.95"/>
<line x1="660.62" y1="294.50" x2="666.02" y2="294.50" stroke="#ff2a2a" stroke-width="0.95"/>
<text x="664.12" y="334.40" font-size="9.6" text-anchor="end" transform="rotate(-45 664.12 334.40)">Cer(d18:1/26:1)</text>
<text x="72.60" y="228.10" font-size="7.0" fill="#2a2a2a"><tspan font-style="italic">P</tspan>=0.1950</text>
<line x1="78.68" y1="231.50" x2="94.08" y2="231.50" stroke="#333" stroke-width="0.9"/>
<text x="120.90" y="228.10" font-size="7.0" fill="#2a2a2a"><tspan font-style="italic">P</tspan>=0.8567</text>
<line x1="128.44" y1="231.50" x2="143.84" y2="231.50" stroke="#333" stroke-width="0.9"/>
<text x="170.40" y="228.10" font-size="7.0" fill="#2a2a2a"><tspan font-style="italic">P</tspan>=0.1311</text>
<line x1="178.20" y1="231.50" x2="193.60" y2="231.50" stroke="#333" stroke-width="0.9"/>
<text x="221.60" y="228.10" font-size="7.0" fill="#2a2a2a"><tspan font-style="italic">P</tspan>=0.0041</text>
<line x1="227.96" y1="231.50" x2="243.36" y2="231.50" stroke="#333" stroke-width="0.9"/>
<text x="272.00" y="228.10" font-size="7.0" fill="#2a2a2a"><tspan font-style="italic">P</tspan>=0.0006</text>
<line x1="277.72" y1="231.50" x2="293.12" y2="231.50" stroke="#333" stroke-width="0.9"/>
<text x="319.60" y="228.10" font-size="7.0" fill="#2a2a2a"><tspan font-style="italic">P</tspan>=0.4469</text>
<line x1="327.48" y1="231.50" x2="342.88" y2="231.50" stroke="#333" stroke-width="0.9"/>
<text x="368.00" y="228.10" font-size="7.0" fill="#2a2a2a"><tspan font-style="italic">P</tspan>=0.3974</text>
<line x1="377.24" y1="231.50" x2="392.64" y2="231.50" stroke="#333" stroke-width="0.9"/>
<text x="417.80" y="228.10" font-size="7.0" fill="#2a2a2a"><tspan font-style="italic">P</tspan>=0.4644</text>
<line x1="427.00" y1="231.50" x2="442.40" y2="231.50" stroke="#333" stroke-width="0.9"/>
<text x="467.40" y="228.10" font-size="7.0" fill="#2a2a2a"><tspan font-style="italic">P</tspan>=0.1522</text>
<line x1="476.76" y1="231.50" x2="492.16" y2="231.50" stroke="#333" stroke-width="0.9"/>
<text x="519.90" y="228.10" font-size="7.0" fill="#2a2a2a"><tspan font-style="italic">P</tspan>=0.1295</text>
<line x1="526.52" y1="231.50" x2="541.92" y2="231.50" stroke="#333" stroke-width="0.9"/>
<text x="567.70" y="228.10" font-size="7.0" fill="#2a2a2a"><tspan font-style="italic">P</tspan>=0.1575</text>
<line x1="576.28" y1="231.50" x2="591.68" y2="231.50" stroke="#333" stroke-width="0.9"/>
<text x="619.60" y="228.10" font-size="7.0" fill="#2a2a2a"><tspan font-style="italic">P</tspan>=0.8117</text>
<line x1="626.04" y1="231.50" x2="641.44" y2="231.50" stroke="#333" stroke-width="0.9"/>
<text x="54.10" y="244.80" font-size="7.0" fill="#2a2a2a"><tspan font-style="italic">P</tspan>=0.0033</text>
<line x1="53.80" y1="247.50" x2="69.20" y2="247.50" stroke="#333" stroke-width="0.9"/>
<text x="95.50" y="244.80" font-size="7.0" fill="#2a2a2a"><tspan font-style="italic">P</tspan>=0.4336</text>
<line x1="103.56" y1="247.50" x2="118.96" y2="247.50" stroke="#333" stroke-width="0.9"/>
<text x="147.10" y="244.80" font-size="7.0" fill="#2a2a2a"><tspan font-style="italic">P</tspan>=0.0695</text>
<line x1="153.32" y1="247.50" x2="168.72" y2="247.50" stroke="#333" stroke-width="0.9"/>
<text x="196.20" y="244.80" font-size="7.0" fill="#2a2a2a"><tspan font-style="italic">P</tspan>=0.0371</text>
<line x1="203.08" y1="247.50" x2="218.48" y2="247.50" stroke="#333" stroke-width="0.9"/>
<text x="246.10" y="244.80" font-size="7.0" fill="#2a2a2a"><tspan font-style="italic">P</tspan>=0.1285</text>
<line x1="252.84" y1="247.50" x2="268.24" y2="247.50" stroke="#333" stroke-width="0.9"/>
<text x="295.60" y="244.80" font-size="7.0" fill="#2a2a2a"><tspan font-style="italic">P</tspan>=0.0598</text>
<line x1="302.60" y1="247.50" x2="318.00" y2="247.50" stroke="#333" stroke-width="0.9"/>
<text x="344.30" y="244.80" font-size="7.0" fill="#2a2a2a"><tspan font-style="italic">P</tspan>=0.2982</text>
<line x1="352.36" y1="247.50" x2="367.76" y2="247.50" stroke="#333" stroke-width="0.9"/>
<text x="393.60" y="244.80" font-size="7.0" fill="#2a2a2a"><tspan font-style="italic">P</tspan>=0.8633</text>
<line x1="402.12" y1="247.50" x2="417.52" y2="247.50" stroke="#333" stroke-width="0.9"/>
<text x="445.80" y="244.80" font-size="7.0" fill="#2a2a2a"><tspan font-style="italic">P</tspan>=0.2802</text>
<line x1="451.88" y1="247.50" x2="467.28" y2="247.50" stroke="#333" stroke-width="0.9"/>
<text x="493.10" y="244.80" font-size="7.0" fill="#2a2a2a"><tspan font-style="italic">P</tspan>=0.3289</text>
<line x1="501.64" y1="247.50" x2="517.04" y2="247.50" stroke="#333" stroke-width="0.9"/>
<text x="544.00" y="244.80" font-size="7.0" fill="#2a2a2a"><tspan font-style="italic">P</tspan>=0.3212</text>
<line x1="551.40" y1="247.50" x2="566.80" y2="247.50" stroke="#333" stroke-width="0.9"/>
<text x="592.70" y="244.80" font-size="7.0" fill="#2a2a2a"><tspan font-style="italic">P</tspan>=0.4005</text>
<line x1="601.16" y1="247.50" x2="616.56" y2="247.50" stroke="#333" stroke-width="0.9"/>
<text x="642.20" y="244.80" font-size="7.0" fill="#2a2a2a"><tspan font-style="italic">P</tspan>=0.0235</text>
<line x1="650.92" y1="247.50" x2="666.32" y2="247.50" stroke="#333" stroke-width="0.9"/>
<text x="0.60" y="432.00" font-size="15" font-weight="bold" fill="#000">E</text>
<text x="68.00" y="442.80" font-size="9.75" text-anchor="middle">DMSO</text>
<text x="70.10" y="455.20" font-size="9.75" text-anchor="middle">or dhCer(d18:0/24:1)</text>
<line x1="65.50" y1="460.20" x2="65.50" y2="475.24" stroke="#1a1a1a" stroke-width="1.0"/>
<polygon points="65.90,478.60 63.70,473.00 68.10,473.00" fill="#1a1a1a" stroke="none" stroke-width="1"/>
<defs><linearGradient id="plate" x1="0" y1="0" x2="1" y2="0"><stop offset="0" stop-color="#b8283c"/><stop offset="0.35" stop-color="#c84a5c"/><stop offset="0.7" stop-color="#e0a0aa"/><stop offset="1" stop-color="#ececec"/></linearGradient></defs>
<polygon points="52.60,481.80 83.00,481.80 77.20,504.20 45.40,504.20" fill="#ececec" stroke="#9a9a9a" stroke-width="0.8"/>
<circle cx="54.77" cy="483.59" r="1.00" fill="#fafafa" stroke="#c4c4c4" stroke-width="0.3"/>
<circle cx="57.04" cy="483.59" r="1.00" fill="#fafafa" stroke="#c4c4c4" stroke-width="0.3"/>
<circle cx="59.32" cy="483.59" r="1.00" fill="#fafafa" stroke="#c4c4c4" stroke-width="0.3"/>
<circle cx="61.59" cy="483.59" r="1.00" fill="#fafafa" stroke="#c4c4c4" stroke-width="0.3"/>
<circle cx="63.87" cy="483.59" r="1.00" fill="#fafafa" stroke="#c4c4c4" stroke-width="0.3"/>
<circle cx="66.14" cy="483.59" r="1.00" fill="#fafafa" stroke="#c4c4c4" stroke-width="0.3"/>
<circle cx="68.42" cy="483.59" r="1.00" fill="#fafafa" stroke="#c4c4c4" stroke-width="0.3"/>
<circle cx="70.69" cy="483.59" r="1.00" fill="#fafafa" stroke="#c4c4c4" stroke-width="0.3"/>
<circle cx="72.97" cy="483.59" r="1.00" fill="#fafafa" stroke="#c4c4c4" stroke-width="0.3"/>
<circle cx="75.24" cy="483.59" r="1.00" fill="#fafafa" stroke="#c4c4c4" stroke-width="0.3"/>
<circle cx="77.52" cy="483.59" r="1.00" fill="#fafafa" stroke="#c4c4c4" stroke-width="0.3"/>
<circle cx="79.79" cy="483.59" r="1.00" fill="#fafafa" stroke="#c4c4c4" stroke-width="0.3"/>
<circle cx="53.92" cy="486.28" r="1.00" fill="#fafafa" stroke="#c4c4c4" stroke-width="0.3"/>
<circle cx="53.92" cy="486.28" r="0.85" fill="#dc2846"/>
<circle cx="56.21" cy="486.28" r="1.00" fill="#fafafa" stroke="#c4c4c4" stroke-width="0.3"/>
<circle cx="56.21" cy="486.28" r="0.85" fill="#de334f"/>
<circle cx="58.50" cy="486.28" r="1.00" fill="#fafafa" stroke="#c4c4c4" stroke-width="0.3"/>
<circle cx="58.50" cy="486.28" r="0.85" fill="#e0415b"/>
<circle cx="60.78" cy="486.28" r="1.00" fill="#fafafa" stroke="#c4c4c4" stroke-width="0.3"/>
<circle cx="60.78" cy="486.28" r="0.85" fill="#e25169"/>
<circle cx="63.07" cy="486.28" r="1.00" fill="#fafafa" stroke="#c4c4c4" stroke-width="0.3"/>
<circle cx="63.07" cy="486.28" r="0.85" fill="#e46277"/>
<circle cx="65.36" cy="486.28" r="1.00" fill="#fafafa" stroke="#c4c4c4" stroke-width="0.3"/>
<circle cx="65.36" cy="486.28" r="0.85" fill="#e67487"/>
<circle cx="67.64" cy="486.28" r="1.00" fill="#fafafa" stroke="#c4c4c4" stroke-width="0.3"/>
<circle cx="67.64" cy="486.28" r="0.85" fill="#e88697"/>
<circle cx="69.93" cy="486.28" r="1.00" fill="#fafafa" stroke="#c4c4c4" stroke-width="0.3"/>
<circle cx="69.93" cy="486.28" r="0.85" fill="#ea9aa7"/>
<circle cx="72.22" cy="486.28" r="1.00" fill="#fafafa" stroke="#c4c4c4" stroke-width="0.3"/>
<circle cx="72.22" cy="486.28" r="0.85" fill="#ecadb8"/>
<circle cx="74.50" cy="486.28" r="1.00" fill="#fafafa" stroke="#c4c4c4" stroke-width="0.3"/>
<circle cx="74.50" cy="486.28" r="0.85" fill="#eec2ca"/>
<circle cx="76.79" cy="486.28" r="1.00" fill="#fafafa" stroke="#c4c4c4" stroke-width="0.3"/>
<circle cx="76.79" cy="486.28" r="0.85" fill="#f0d7dc"/>
<circle cx="79.08" cy="486.28" r="1.00" fill="#fafafa" stroke="#c4c4c4" stroke-width="0.3"/>
<circle cx="53.07" cy="488.97" r="1.00" fill="#fafafa" stroke="#c4c4c4" stroke-width="0.3"/>
<circle cx="53.07" cy="488.97" r="0.85" fill="#dc2846"/>
<circle cx="55.37" cy="488.97" r="1.00" fill="#fafafa" stroke="#c4c4c4" stroke-width="0.3"/>
<circle cx="55.37" cy="488.97" r="0.85" fill="#de334f"/>
<circle cx="57.67" cy="488.97" r="1.00" fill="#fafafa" stroke="#c4c4c4" stroke-width="0.3"/>
<circle cx="57.67" cy="488.97" r="0.85" fill="#e0415b"/>
<circle cx="59.97" cy="488.97" r="1.00" fill="#fafafa" stroke="#c4c4c4" stroke-width="0.3"/>
<circle cx="59.97" cy="488.97" r="0.85" fill="#e25169"/>
<circle cx="62.27" cy="488.97" r="1.00" fill="#fafafa" stroke="#c4c4c4" stroke-width="0.3"/>
<circle cx="62.27" cy="488.97" r="0.85" fill="#e46277"/>
<circle cx="64.57" cy="488.97" r="1.00" fill="#fafafa" stroke="#c4c4c4" stroke-width="0.3"/>
<circle cx="64.57" cy="488.97" r="0.85" fill="#e67487"/>
<circle cx="66.87" cy="488.97" r="1.00" fill="#fafafa" stroke="#c4c4c4" stroke-width="0.3"/>
<circle cx="66.87" cy="488.97" r="0.85" fill="#e88697"/>
<circle cx="69.17" cy="488.97" r="1.00" fill="#fafafa" stroke="#c4c4c4" stroke-width="0.3"/>
<circle cx="69.17" cy="488.97" r="0.85" fill="#ea9aa7"/>
<circle cx="71.47" cy="488.97" r="1.00" fill="#fafafa" stroke="#c4c4c4" stroke-width="0.3"/>
<circle cx="71.47" cy="488.97" r="0.85" fill="#ecadb8"/>
<circle cx="73.77" cy="488.97" r="1.00" fill="#fafafa" stroke="#c4c4c4" stroke-width="0.3"/>
<circle cx="73.77" cy="488.97" r="0.85" fill="#eec2ca"/>
<circle cx="76.07" cy="488.97" r="1.00" fill="#fafafa" stroke="#c4c4c4" stroke-width="0.3"/>
<circle cx="76.07" cy="488.97" r="0.85" fill="#f0d7dc"/>
<circle cx="78.37" cy="488.97" r="1.00" fill="#fafafa" stroke="#c4c4c4" stroke-width="0.3"/>
<circle cx="52.22" cy="491.66" r="1.00" fill="#fafafa" stroke="#c4c4c4" stroke-width="0.3"/>
<circle cx="52.22" cy="491.66" r="0.85" fill="#dc2846"/>
<circle cx="54.54" cy="491.66" r="1.00" fill="#fafafa" stroke="#c4c4c4" stroke-width="0.3"/>
<circle cx="54.54" cy="491.66" r="0.85" fill="#de334f"/>
<circle cx="56.85" cy="491.66" r="1.00" fill="#fafafa" stroke="#c4c4c4" stroke-width="0.3"/>
<circle cx="56.85" cy="491.66" r="0.85" fill="#e0415b"/>
<circle cx="59.16" cy="491.66" r="1.00" fill="#fafafa" stroke="#c4c4c4" stroke-width="0.3"/>
<circle cx="59.16" cy="491.66" r="0.85" fill="#e25169"/>
<circle cx="61.47" cy="491.66" r="1.00" fill="#fafafa" stroke="#c4c4c4" stroke-width="0.3"/>
<circle cx="61.47" cy="491.66" r="0.85" fill="#e46277"/>
<circle cx="63.78" cy="491.66" r="1.00" fill="#fafafa" stroke="#c4c4c4" stroke-width="0.3"/>
<circle cx="63.78" cy="491.66" r="0.85" fill="#e67487"/>
<circle cx="66.10" cy="491.66" r="1.00" fill="#fafafa" stroke="#c4c4c4" stroke-width="0.3"/>
<circle cx="66.10" cy="491.66" r="0.85" fill="#e88697"/>
<circle cx="68.41" cy="491.66" r="1.00" fill="#fafafa" stroke="#c4c4c4" stroke-width="0.3"/>
<circle cx="68.41" cy="491.66" r="0.85" fill="#ea9aa7"/>
<circle cx="70.72" cy="491.66" r="1.00" fill="#fafafa" stroke="#c4c4c4" stroke-width="0.3"/>
<circle cx="70.72" cy="491.66" r="0.85" fill="#ecadb8"/>
<circle cx="73.03" cy="491.66" r="1.00" fill="#fafafa" stroke="#c4c4c4" stroke-width="0.3"/>
<circle cx="73.03" cy="491.66" r="0.85" fill="#eec2ca"/>
<circle cx="75.34" cy="491.66" r="1.00" fill="#fafafa" stroke="#c4c4c4" stroke-width="0.3"/>
<circle cx="75.34" cy="491.66" r="0.85" fill="#f0d7dc"/>
<circle cx="77.66" cy="491.66" r="1.00" fill="#fafafa" stroke="#c4c4c4" stroke-width="0.3"/>
<circle cx="51.37" cy="494.34" r="1.00" fill="#fafafa" stroke="#c4c4c4" stroke-width="0.3"/>
<circle cx="51.37" cy="494.34" r="0.85" fill="#dc2846"/>
<circle cx="53.70" cy="494.34" r="1.00" fill="#fafafa" stroke="#c4c4c4" stroke-width="0.3"/>
<circle cx="53.70" cy="494.34" r="0.85" fill="#de334f"/>
<circle cx="56.02" cy="494.34" r="1.00" fill="#fafafa" stroke="#c4c4c4" stroke-width="0.3"/>
<circle cx="56.02" cy="494.34" r="0.85" fill="#e0415b"/>
<circle cx="58.35" cy="494.34" r="1.00" fill="#fafafa" stroke="#c4c4c4" stroke-width="0.3"/>
<circle cx="58.35" cy="494.34" r="0.85" fill="#e25169"/>
<circle cx="60.67" cy="494.34" r="1.00" fill="#fafafa" stroke="#c4c4c4" stroke-width="0.3"/>
<circle cx="60.67" cy="494.34" r="0.85" fill="#e46277"/>
<circle cx="63.00" cy="494.34" r="1.00" fill="#fafafa" stroke="#c4c4c4" stroke-width="0.3"/>
<circle cx="63.00" cy="494.34" r="0.85" fill="#e67487"/>
<circle cx="65.32" cy="494.34" r="1.00" fill="#fafafa" stroke="#c4c4c4" stroke-width="0.3"/>
<circle cx="65.32" cy="494.34" r="0.85" fill="#e88697"/>
<circle cx="67.65" cy="494.34" r="1.00" fill="#fafafa" stroke="#c4c4c4" stroke-width="0.3"/>
<circle cx="67.65" cy="494.34" r="0.85" fill="#ea9aa7"/>
<circle cx="69.97" cy="494.34" r="1.00" fill="#fafafa" stroke="#c4c4c4" stroke-width="0.3"/>
<circle cx="69.97" cy="494.34" r="0.85" fill="#ecadb8"/>
<circle cx="72.30" cy="494.34" r="1.00" fill="#fafafa" stroke="#c4c4c4" stroke-width="0.3"/>
<circle cx="72.30" cy="494.34" r="0.85" fill="#eec2ca"/>
<circle cx="74.62" cy="494.34" r="1.00" fill="#fafafa" stroke="#c4c4c4" stroke-width="0.3"/>
<circle cx="74.62" cy="494.34" r="0.85" fill="#f0d7dc"/>
<circle cx="76.95" cy="494.34" r="1.00" fill="#fafafa" stroke="#c4c4c4" stroke-width="0.3"/>
<circle cx="50.53" cy="497.03" r="1.00" fill="#fafafa" stroke="#c4c4c4" stroke-width="0.3"/>
<circle cx="50.53" cy="497.03" r="0.85" fill="#dc2846"/>
<circle cx="52.86" cy="497.03" r="1.00" fill="#fafafa" stroke="#c4c4c4" stroke-width="0.3"/>
<circle cx="52.86" cy="497.03" r="0.85" fill="#de334f"/>
<circle cx="55.20" cy="497.03" r="1.00" fill="#fafafa" stroke="#c4c4c4" stroke-width="0.3"/>
<circle cx="55.20" cy="497.03" r="0.85" fill="#e0415b"/>
<circle cx="57.54" cy="497.03" r="1.00" fill="#fafafa" stroke="#c4c4c4" stroke-width="0.3"/>
<circle cx="57.54" cy="497.03" r="0.85" fill="#e25169"/>
<circle cx="59.87" cy="497.03" r="1.00" fill="#fafafa" stroke="#c4c4c4" stroke-width="0.3"/>
<circle cx="59.87" cy="497.03" r="0.85" fill="#e46277"/>
<circle cx="62.21" cy="497.03" r="1.00" fill="#fafafa" stroke="#c4c4c4" stroke-width="0.3"/>
<circle cx="62.21" cy="497.03" r="0.85" fill="#e67487"/>
<circle cx="64.55" cy="497.03" r="1.00" fill="#fafafa" stroke="#c4c4c4" stroke-width="0.3"/>
<circle cx="64.55" cy="497.03" r="0.85" fill="#e88697"/>
<circle cx="66.89" cy="497.03" r="1.00" fill="#fafafa" stroke="#c4c4c4" stroke-width="0.3"/>
<circle cx="66.89" cy="497.03" r="0.85" fill="#ea9aa7"/>
<circle cx="69.22" cy="497.03" r="1.00" fill="#fafafa" stroke="#c4c4c4" stroke-width="0.3"/>
<circle cx="69.22" cy="497.03" r="0.85" fill="#ecadb8"/>
<circle cx="71.56" cy="497.03" r="1.00" fill="#fafafa" stroke="#c4c4c4" stroke-width="0.3"/>
<circle cx="71.56" cy="497.03" r="0.85" fill="#eec2ca"/>
<circle cx="73.90" cy="497.03" r="1.00" fill="#fafafa" stroke="#c4c4c4" stroke-width="0.3"/>
<circle cx="73.90" cy="497.03" r="0.85" fill="#f0d7dc"/>
<circle cx="76.23" cy="497.03" r="1.00" fill="#fafafa" stroke="#c4c4c4" stroke-width="0.3"/>
<circle cx="49.68" cy="499.72" r="1.00" fill="#fafafa" stroke="#c4c4c4" stroke-width="0.3"/>
<circle cx="49.68" cy="499.72" r="0.85" fill="#dc2846"/>
<circle cx="52.03" cy="499.72" r="1.00" fill="#fafafa" stroke="#c4c4c4" stroke-width="0.3"/>
<circle cx="52.03" cy="499.72" r="0.85" fill="#de334f"/>
<circle cx="54.38" cy="499.72" r="1.00" fill="#fafafa" stroke="#c4c4c4" stroke-width="0.3"/>
<circle cx="54.38" cy="499.72" r="0.85" fill="#e0415b"/>
<circle cx="56.73" cy="499.72" r="1.00" fill="#fafafa" stroke="#c4c4c4" stroke-width="0.3"/>
<circle cx="56.73" cy="499.72" r="0.85" fill="#e25169"/>
<circle cx="59.08" cy="499.72" r="1.00" fill="#fafafa" stroke="#c4c4c4" stroke-width="0.3"/>
<circle cx="59.08" cy="499.72" r="0.85" fill="#e46277"/>
<circle cx="61.43" cy="499.72" r="1.00" fill="#fafafa" stroke="#c4c4c4" stroke-width="0.3"/>
<circle cx="61.43" cy="499.72" r="0.85" fill="#e67487"/>
<circle cx="63.77" cy="499.72" r="1.00" fill="#fafafa" stroke="#c4c4c4" stroke-width="0.3"/>
<circle cx="63.77" cy="499.72" r="0.85" fill="#e88697"/>
<circle cx="66.12" cy="499.72" r="1.00" fill="#fafafa" stroke="#c4c4c4" stroke-width="0.3"/>
<circle cx="66.12" cy="499.72" r="0.85" fill="#ea9aa7"/>
<circle cx="68.47" cy="499.72" r="1.00" fill="#fafafa" stroke="#c4c4c4" stroke-width="0.3"/>
<circle cx="68.47" cy="499.72" r="0.85" fill="#ecadb8"/>
<circle cx="70.82" cy="499.72" r="1.00" fill="#fafafa" stroke="#c4c4c4" stroke-width="0.3"/>
<circle cx="70.82" cy="499.72" r="0.85" fill="#eec2ca"/>
<circle cx="73.17" cy="499.72" r="1.00" fill="#fafafa" stroke="#c4c4c4" stroke-width="0.3"/>
<circle cx="73.17" cy="499.72" r="0.85" fill="#f0d7dc"/>
<circle cx="75.52" cy="499.72" r="1.00" fill="#fafafa" stroke="#c4c4c4" stroke-width="0.3"/>
<circle cx="48.83" cy="502.41" r="1.00" fill="#fafafa" stroke="#c4c4c4" stroke-width="0.3"/>
<circle cx="51.19" cy="502.41" r="1.00" fill="#fafafa" stroke="#c4c4c4" stroke-width="0.3"/>
<circle cx="53.55" cy="502.41" r="1.00" fill="#fafafa" stroke="#c4c4c4" stroke-width="0.3"/>
<circle cx="55.91" cy="502.41" r="1.00" fill="#fafafa" stroke="#c4c4c4" stroke-width="0.3"/>
<circle cx="58.28" cy="502.41" r="1.00" fill="#fafafa" stroke="#c4c4c4" stroke-width="0.3"/>
<circle cx="60.64" cy="502.41" r="1.00" fill="#fafafa" stroke="#c4c4c4" stroke-width="0.3"/>
<circle cx="63.00" cy="502.41" r="1.00" fill="#fafafa" stroke="#c4c4c4" stroke-width="0.3"/>
<circle cx="65.36" cy="502.41" r="1.00" fill="#fafafa" stroke="#c4c4c4" stroke-width="0.3"/>
<circle cx="67.73" cy="502.41" r="1.00" fill="#fafafa" stroke="#c4c4c4" stroke-width="0.3"/>
<circle cx="70.09" cy="502.41" r="1.00" fill="#fafafa" stroke="#c4c4c4" stroke-width="0.3"/>
<circle cx="72.45" cy="502.41" r="1.00" fill="#fafafa" stroke="#c4c4c4" stroke-width="0.3"/>
<circle cx="74.81" cy="502.41" r="1.00" fill="#fafafa" stroke="#c4c4c4" stroke-width="0.3"/>
<text x="60.80" y="517.20" font-size="9.75" text-anchor="middle">HSCs</text>
<text x="61.2" y="530.5" font-size="9.75" text-anchor="middle" fill="#1a1a1a">(CD48<tspan font-size="6" dy="-3.5">-</tspan><tspan dy="3.5">CD150</tspan><tspan font-size="6" dy="-3.5">+</tspan><tspan dy="3.5">LSK)</tspan></text>
<text x="101.70" y="491.90" font-size="9.75" text-anchor="middle">24 h</text>
<line x1="83.60" y1="494.50" x2="115.60" y2="494.50" stroke="#1a1a1a" stroke-width="0.9"/>
<line x1="115.50" y1="475.40" x2="115.50" y2="513.40" stroke="#1a1a1a" stroke-width="0.9"/>
<line x1="115.60" y1="475.50" x2="146.20" y2="475.50" stroke="#1a1a1a" stroke-width="0.9"/>
<polygon points="148.60,475.40 144.60,477.40 144.60,473.40" fill="#1a1a1a" stroke="none" stroke-width="1"/>
<line x1="115.60" y1="494.50" x2="144.60" y2="494.50" stroke="#1a1a1a" stroke-width="0.9"/>
<polygon points="147.00,494.00 143.00,496.00 143.00,492.00" fill="#1a1a1a" stroke="none" stroke-width="1"/>
<line x1="115.60" y1="513.50" x2="144.60" y2="513.50" stroke="#1a1a1a" stroke-width="0.9"/>
<polygon points="147.00,513.40 143.00,515.40 143.00,511.40" fill="#1a1a1a" stroke="none" stroke-width="1"/>
<text x="152.40" y="478.90" font-size="9.75">Protein aggregation analysis</text>
<text x="150.80" y="496.90" font-size="9.75">CFU assay</text>
<text x="150.80" y="517.10" font-size="9.75">Competitive transplantation assay</text>
<text x="311.80" y="419.80" font-size="15" font-weight="bold" fill="#000">F</text>
<text x="331.30" y="426.00" font-size="9.75">DhCer(d18:0/24:1)</text>
<line x1="325.10" y1="436.50" x2="336.30" y2="436.50" stroke="#444" stroke-width="1.1"/>
<text x="337.90" y="439.80" font-size="9.75">FMO</text>
<line x1="366.00" y1="436.50" x2="377.30" y2="436.50" stroke="#ff4a4a" stroke-width="1.1"/>
<text x="378.60" y="439.80" font-size="9.75">50 µM</text>
<line x1="325.10" y1="447.50" x2="336.30" y2="447.50" stroke="#2020ff" stroke-width="1.1"/>
<text x="337.90" y="450.00" font-size="9.75">0 µM</text>
<line x1="366.00" y1="447.50" x2="377.30" y2="447.50" stroke="#f0a030" stroke-width="1.1"/>
<text x="378.60" y="450.00" font-size="9.75">100 µM</text>
<text x="368.80" y="464.20" font-size="9.75" text-anchor="middle">HSCs</text>
<rect x="334.50" y="466.50" width="72.00" height="70.00" fill="none" stroke="#1a1a1a" stroke-width="1.0"/>
<line x1="332.90" y1="470.30" x2="334.50" y2="470.30" stroke="#1a1a1a" stroke-width="0.6"/>
<line x1="332.90" y1="481.20" x2="334.50" y2="481.20" stroke="#1a1a1a" stroke-width="0.6"/>
<line x1="332.90" y1="492.90" x2="334.50" y2="492.90" stroke="#1a1a1a" stroke-width="0.6"/>
<line x1="332.90" y1="504.60" x2="334.50" y2="504.60" stroke="#1a1a1a" stroke-width="0.6"/>
<line x1="332.90" y1="516.30" x2="334.50" y2="516.30" stroke="#1a1a1a" stroke-width="0.6"/>
<line x1="332.90" y1="527.90" x2="334.50" y2="527.90" stroke="#1a1a1a" stroke-width="0.6"/>
<line x1="345.50" y1="536.50" x2="345.50" y2="538.00" stroke="#1a1a1a" stroke-width="0.5"/>
<line x1="347.20" y1="536.50" x2="347.20" y2="538.00" stroke="#1a1a1a" stroke-width="0.5"/>
<line x1="349.00" y1="536.50" x2="349.00" y2="538.00" stroke="#1a1a1a" stroke-width="0.5"/>
<line x1="364.00" y1="536.50" x2="364.00" y2="538.00" stroke="#1a1a1a" stroke-width="0.5"/>
<line x1="372.30" y1="536.50" x2="372.30" y2="538.00" stroke="#1a1a1a" stroke-width="0.5"/>
<line x1="387.00" y1="536.50" x2="387.00" y2="538.00" stroke="#1a1a1a" stroke-width="0.5"/>
<line x1="399.00" y1="536.50" x2="399.00" y2="538.00" stroke="#1a1a1a" stroke-width="0.5"/>
<polyline points="336.00,536.60 343.00,536.40 344.60,534.00 346.00,524.00 347.60,505.00 349.10,492.30 350.60,505.00 352.20,522.00 353.80,532.00 355.50,536.40 400.00,536.60" stroke="#1a1a1a" stroke-width="1.0" fill="none" stroke-linejoin="round"/>
<polyline points="336.00,536.60 352.00,536.30 356.50,535.50 359.00,533.00 361.10,531.30 363.00,528.00 365.00,521.50 366.30,513.00 366.90,508.00 368.00,505.50 369.50,503.00 370.50,499.00 372.00,492.00 373.50,487.20 374.80,493.00 375.90,501.00 377.20,512.00 378.60,521.30 380.30,529.00 382.30,534.00 384.50,535.90 387.00,536.50 405.00,536.60" stroke="#2020ff" stroke-width="1.0" fill="none" stroke-linejoin="round"/>
<polyline points="336.00,536.60 361.00,536.40 363.50,535.50 366.00,532.50 367.50,530.00 369.10,527.30 371.00,525.50 372.80,524.30 374.50,523.00 375.90,520.50 376.80,512.00 377.50,502.00 378.20,492.00 378.90,487.00 379.60,491.00 380.50,500.00 381.50,512.00 382.50,522.00 383.50,529.00 385.00,533.50 386.50,535.60 389.00,536.50 405.00,536.60" stroke="#ff2020" stroke-width="1.0" fill="none" stroke-linejoin="round"/>
<polyline points="336.00,536.60 367.00,536.50 370.00,536.00 372.50,534.60 374.20,533.00 376.00,530.50 377.20,527.00 378.50,520.00 379.80,511.00 380.80,499.00 381.50,490.00 382.00,486.90 382.60,489.00 383.50,498.00 384.50,510.00 385.50,521.00 386.50,528.00 388.00,533.00 389.60,535.80 392.00,536.50 405.00,536.60" stroke="#f0a030" stroke-width="1.0" fill="none" stroke-linejoin="round"/>
<line x1="329.50" y1="544.70" x2="329.50" y2="528.50" stroke="#1a1a1a" stroke-width="0.9"/>
<polygon points="329.40,525.60 330.80,529.20 328.00,529.20" fill="#1a1a1a" stroke="none" stroke-width="1"/>
<line x1="329.40" y1="544.50" x2="346.00" y2="544.50" stroke="#1a1a1a" stroke-width="0.9"/>
<polygon points="348.80,544.70 345.20,546.10 345.20,543.30" fill="#1a1a1a" stroke="none" stroke-width="1"/>
<text x="350.30" y="547.50" font-size="9.75">Proteostat</text>
<text x="332.00" y="502.00" font-size="9.75" text-anchor="middle" transform="rotate(-90 332.00 502.00)">% of Max</text>
<line x1="477.50" y1="444.00" x2="477.50" y2="528.90" stroke="#1a1a1a" stroke-width="1.0"/>
<line x1="477.20" y1="528.50" x2="546.50" y2="528.50" stroke="#1a1a1a" stroke-width="1.0"/>
<line x1="474.40" y1="528.50" x2="477.20" y2="528.50" stroke="#1a1a1a" stroke-width="1.0"/>
<text x="472.90" y="531.10" font-size="9.75" text-anchor="end">0.0</text>
<line x1="474.40" y1="511.50" x2="477.20" y2="511.50" stroke="#1a1a1a" stroke-width="1.0"/>
<text x="472.90" y="514.30" font-size="9.75" text-anchor="end">0.5</text>
<line x1="474.40" y1="494.50" x2="477.20" y2="494.50" stroke="#1a1a1a" stroke-width="1.0"/>
<text x="472.90" y="497.50" font-size="9.75" text-anchor="end">1.0</text>
<line x1="474.40" y1="478.50" x2="477.20" y2="478.50" stroke="#1a1a1a" stroke-width="1.0"/>
<text x="472.90" y="480.70" font-size="9.75" text-anchor="end">1.5</text>
<line x1="474.40" y1="461.50" x2="477.20" y2="461.50" stroke="#1a1a1a" stroke-width="1.0"/>
<text x="472.90" y="463.90" font-size="9.75" text-anchor="end">2.0</text>
<line x1="474.40" y1="444.50" x2="477.20" y2="444.50" stroke="#1a1a1a" stroke-width="1.0"/>
<text x="472.90" y="447.10" font-size="9.75" text-anchor="end">2.5</text>
<rect x="484.50" y="494.80" width="14.30" height="33.60" fill="#2b18ff"/>
<rect x="505.00" y="478.67" width="14.30" height="49.73" fill="#ff2a14"/>
<rect x="526.00" y="469.26" width="14.30" height="59.14" fill="#ecae48"/>
<line x1="491.50" y1="491.40" x2="491.50" y2="497.60" stroke="#1a1a1a" stroke-width="0.9"/>
<line x1="489.40" y1="491.50" x2="494.00" y2="491.50" stroke="#1a1a1a" stroke-width="0.9"/>
<line x1="489.40" y1="497.50" x2="494.00" y2="497.50" stroke="#1a1a1a" stroke-width="0.9"/>
<line x1="512.50" y1="476.40" x2="512.50" y2="481.50" stroke="#1a1a1a" stroke-width="0.9"/>
<line x1="509.90" y1="476.50" x2="514.50" y2="476.50" stroke="#1a1a1a" stroke-width="0.9"/>
<line x1="509.90" y1="481.50" x2="514.50" y2="481.50" stroke="#1a1a1a" stroke-width="0.9"/>
<line x1="533.50" y1="461.20" x2="533.50" y2="476.40" stroke="#1a1a1a" stroke-width="0.9"/>
<line x1="530.90" y1="461.50" x2="535.50" y2="461.50" stroke="#1a1a1a" stroke-width="0.9"/>
<line x1="530.90" y1="476.50" x2="535.50" y2="476.50" stroke="#1a1a1a" stroke-width="0.9"/>
<circle cx="489.20" cy="491.20" r="1.55" fill="#000"/>
<circle cx="494.30" cy="491.20" r="1.55" fill="#000"/>
<circle cx="489.20" cy="494.90" r="1.55" fill="#000"/>
<circle cx="494.30" cy="496.80" r="1.55" fill="#000"/>
<circle cx="489.20" cy="499.20" r="1.55" fill="#000"/>
<circle cx="506.20" cy="477.70" r="1.55" fill="#000"/>
<circle cx="506.20" cy="480.60" r="1.55" fill="#000"/>
<circle cx="512.60" cy="479.50" r="1.55" fill="#000"/>
<circle cx="517.70" cy="480.60" r="1.55" fill="#000"/>
<circle cx="517.70" cy="475.30" r="1.55" fill="#000"/>
<circle cx="527.70" cy="467.00" r="1.55" fill="#000"/>
<circle cx="532.90" cy="460.50" r="1.55" fill="#000"/>
<circle cx="532.90" cy="468.60" r="1.55" fill="#000"/>
<circle cx="538.50" cy="468.20" r="1.55" fill="#000"/>
<circle cx="532.90" cy="480.60" r="1.55" fill="#000"/>
<text x="502.60" y="461.00" font-size="7.0" text-anchor="middle" fill="#2a2a2a"><tspan font-style="italic">P</tspan>&lt;0.0001</text>
<line x1="491.40" y1="464.50" x2="512.60" y2="464.50" stroke="#2a2a2a" stroke-width="0.9"/>
<text x="511.90" y="446.40" font-size="7.0" text-anchor="middle" fill="#2a2a2a"><tspan font-style="italic">P</tspan>=0.0001</text>
<line x1="491.10" y1="449.50" x2="532.90" y2="449.50" stroke="#2a2a2a" stroke-width="0.9"/>
<text x="491.20" y="538.20" font-size="9.75" text-anchor="middle">0</text>
<text x="512.40" y="538.20" font-size="9.75" text-anchor="middle">50</text>
<text x="532.50" y="538.20" font-size="9.75" text-anchor="middle">100</text>
<text x="542.20" y="538.20" font-size="9.75">µM</text>
<line x1="484.60" y1="541.50" x2="542.00" y2="541.50" stroke="#1a1a1a" stroke-width="0.9"/>
<text x="513.50" y="550.60" font-size="9.75" text-anchor="middle">DhCer(d18:0/24:1)</text>
<text x="442.60" y="489.20" font-size="9.75" text-anchor="middle" transform="rotate(-90 442.60 489.20)">Proteostat MFI</text>
<text x="453.60" y="488.40" font-size="9.75" text-anchor="middle" transform="rotate(-90 453.60 488.40)">(normalized to 0 µM)</text>
<text x="563.40" y="421.00" font-size="15" font-weight="bold" fill="#000">G</text>
<line x1="606.50" y1="444.36" x2="606.50" y2="528.70" stroke="#1a1a1a" stroke-width="1.0"/>
<line x1="606.60" y1="528.50" x2="675.50" y2="528.50" stroke="#1a1a1a" stroke-width="1.0"/>
<line x1="603.60" y1="528.50" x2="606.60" y2="528.50" stroke="#1a1a1a" stroke-width="1.0"/>
<text x="601.40" y="530.90" font-size="9.75" text-anchor="end">0</text>
<line x1="603.60" y1="507.50" x2="606.60" y2="507.50" stroke="#1a1a1a" stroke-width="1.0"/>
<text x="601.40" y="510.04" font-size="9.75" text-anchor="end">50</text>
<line x1="603.60" y1="486.50" x2="606.60" y2="486.50" stroke="#1a1a1a" stroke-width="1.0"/>
<text x="601.40" y="489.18" font-size="9.75" text-anchor="end">100</text>
<line x1="603.60" y1="465.50" x2="606.60" y2="465.50" stroke="#1a1a1a" stroke-width="1.0"/>
<text x="601.40" y="468.32" font-size="9.75" text-anchor="end">150</text>
<line x1="603.60" y1="444.50" x2="606.60" y2="444.50" stroke="#1a1a1a" stroke-width="1.0"/>
<text x="601.40" y="447.46" font-size="9.75" text-anchor="end">200</text>
<rect x="613.00" y="466.87" width="13.70" height="61.33" fill="#2b18ff"/>
<rect x="633.60" y="492.74" width="13.90" height="35.46" fill="#ff2a14"/>
<rect x="654.30" y="525.28" width="13.70" height="2.92" fill="#ecae48"/>
<line x1="619.50" y1="463.40" x2="619.50" y2="467.60" stroke="#1a1a1a" stroke-width="0.9"/>
<line x1="617.50" y1="463.50" x2="622.10" y2="463.50" stroke="#1a1a1a" stroke-width="0.9"/>
<line x1="617.50" y1="467.50" x2="622.10" y2="467.50" stroke="#1a1a1a" stroke-width="0.9"/>
<line x1="640.50" y1="491.00" x2="640.50" y2="494.00" stroke="#1a1a1a" stroke-width="0.9"/>
<line x1="638.20" y1="491.50" x2="642.80" y2="491.50" stroke="#1a1a1a" stroke-width="0.9"/>
<line x1="638.20" y1="494.50" x2="642.80" y2="494.50" stroke="#1a1a1a" stroke-width="0.9"/>
<line x1="661.50" y1="523.40" x2="661.50" y2="525.60" stroke="#1a1a1a" stroke-width="0.9"/>
<line x1="658.90" y1="523.50" x2="663.50" y2="523.50" stroke="#1a1a1a" stroke-width="0.9"/>
<line x1="658.90" y1="525.50" x2="663.50" y2="525.50" stroke="#1a1a1a" stroke-width="0.9"/>
<circle cx="620.00" cy="463.10" r="1.55" fill="#000"/>
<circle cx="617.20" cy="467.40" r="1.55" fill="#000"/>
<circle cx="622.50" cy="467.80" r="1.55" fill="#000"/>
<circle cx="638.00" cy="491.50" r="1.55" fill="#000"/>
<circle cx="640.60" cy="493.40" r="1.55" fill="#000"/>
<circle cx="642.80" cy="493.00" r="1.55" fill="#000"/>
<circle cx="655.30" cy="525.40" r="1.55" fill="#000"/>
<circle cx="661.30" cy="523.90" r="1.55" fill="#000"/>
<circle cx="666.60" cy="524.40" r="1.55" fill="#000"/>
<text x="629.90" y="454.00" font-size="7.0" text-anchor="middle" fill="#2a2a2a"><tspan font-style="italic">P</tspan>=0.0001</text>
<line x1="619.30" y1="456.50" x2="640.50" y2="456.50" stroke="#2a2a2a" stroke-width="0.9"/>
<text x="641.60" y="441.30" font-size="7.0" text-anchor="middle" fill="#2a2a2a"><tspan font-style="italic">P</tspan>&lt;0.0001</text>
<line x1="619.30" y1="444.50" x2="661.30" y2="444.50" stroke="#2a2a2a" stroke-width="0.9"/>
<text x="619.30" y="537.70" font-size="9.75" text-anchor="middle">0</text>
<text x="640.50" y="537.70" font-size="9.75" text-anchor="middle">50</text>
<text x="661.30" y="537.70" font-size="9.75" text-anchor="middle">100</text>
<text x="671.00" y="537.70" font-size="9.75">µM</text>
<line x1="611.90" y1="540.50" x2="670.20" y2="540.50" stroke="#1a1a1a" stroke-width="0.9"/>
<text x="642.60" y="551.50" font-size="9.75" text-anchor="middle">DhCer(d18:0/24:1)</text>
<text x="580.60" y="485.80" font-size="9.75" text-anchor="middle" transform="rotate(-90 580.60 485.80)">Colony-forming units</text>
<text x="0.60" y="559.00" font-size="15" font-weight="bold" fill="#000">H</text>
<text x="92.60" y="556.70" font-size="9.5" font-weight="bold" fill="#000">PB</text>
<text x="44.50" y="573.00" font-size="9.75">DMSO</text>
<text x="92.60" y="573.00" font-size="9.75">DhCer(d18:0/24:1)</text>
<text x="15.00" y="580.80" font-size="9.75">1 mon</text>
<text x="14.20" y="670.10" font-size="9.75">4 mon</text>
<defs><radialGradient id="zg0" cx="0.5" cy="0.5" r="0.55"><stop offset="0" stop-color="#eeeeee"/><stop offset="0.55" stop-color="#d0d0d0"/><stop offset="0.8" stop-color="#a0a0a0"/><stop offset="1" stop-color="#4a4a4a"/></radialGradient><radialGradient id="zg1" cx="0.5" cy="0.5" r="0.55"><stop offset="0" stop-color="#b0b0b0"/><stop offset="0.6" stop-color="#dadada"/><stop offset="0.85" stop-color="#bcbcbc"/><stop offset="1" stop-color="#8a8a8a"/></radialGradient></defs>
<rect x="23.50" y="582.50" width="71.00" height="72.00" fill="none" stroke="#1a1a1a" stroke-width="1.0"/>
<line x1="22.30" y1="586.50" x2="23.50" y2="586.50" stroke="#1a1a1a" stroke-width="0.5"/>
<line x1="22.30" y1="599.70" x2="23.50" y2="599.70" stroke="#1a1a1a" stroke-width="0.5"/>
<line x1="22.30" y1="612.90" x2="23.50" y2="612.90" stroke="#1a1a1a" stroke-width="0.5"/>
<line x1="22.30" y1="626.10" x2="23.50" y2="626.10" stroke="#1a1a1a" stroke-width="0.5"/>
<line x1="22.30" y1="639.30" x2="23.50" y2="639.30" stroke="#1a1a1a" stroke-width="0.5"/>
<line x1="22.30" y1="652.50" x2="23.50" y2="652.50" stroke="#1a1a1a" stroke-width="0.5"/>
<line x1="26.50" y1="654.50" x2="26.50" y2="655.70" stroke="#1a1a1a" stroke-width="0.5"/>
<line x1="34.62" y1="654.50" x2="34.62" y2="655.70" stroke="#1a1a1a" stroke-width="0.5"/>
<line x1="42.75" y1="654.50" x2="42.75" y2="655.70" stroke="#1a1a1a" stroke-width="0.5"/>
<line x1="50.88" y1="654.50" x2="50.88" y2="655.70" stroke="#1a1a1a" stroke-width="0.5"/>
<line x1="59.00" y1="654.50" x2="59.00" y2="655.70" stroke="#1a1a1a" stroke-width="0.5"/>
<line x1="67.12" y1="654.50" x2="67.12" y2="655.70" stroke="#1a1a1a" stroke-width="0.5"/>
<line x1="75.25" y1="654.50" x2="75.25" y2="655.70" stroke="#1a1a1a" stroke-width="0.5"/>
<line x1="83.38" y1="654.50" x2="83.38" y2="655.70" stroke="#1a1a1a" stroke-width="0.5"/>
<line x1="91.50" y1="654.50" x2="91.50" y2="655.70" stroke="#1a1a1a" stroke-width="0.5"/>
<path d="M24.09,595.36 C24.33,594.51 24.45,593.73 25.55,593.18 C26.64,592.62 28.59,592.25 30.66,592.01 C32.73,591.76 35.04,591.64 37.96,591.72 C40.88,591.79 44.77,592.20 48.18,592.45 C51.58,592.69 55.96,592.69 58.39,593.18 C60.83,593.66 62.17,594.64 62.77,595.36 C63.38,596.09 62.65,596.70 62.04,597.55 C61.44,598.41 59.98,599.50 59.12,600.47 C58.27,601.45 57.54,602.18 56.93,603.39 C56.33,604.61 56.08,606.31 55.47,607.77 C54.87,609.23 54.14,611.18 53.28,612.15 C52.43,613.13 51.46,613.32 50.36,613.61 C49.27,613.91 47.81,614.15 46.72,613.91 C45.62,613.66 45.01,612.93 43.80,612.15 C42.58,611.37 41.12,609.96 39.42,609.23 C37.71,608.50 35.40,608.50 33.58,607.77 C31.75,607.04 29.81,605.95 28.47,604.85 C27.13,603.76 26.28,602.30 25.55,601.20 C24.82,600.11 24.33,599.26 24.09,598.28 C23.84,597.31 23.84,596.22 24.09,595.36 Z" fill="url(#zg0)" stroke="#000" stroke-width="1.0"/>
<path d="M26.64,596.18 C26.85,595.45 26.96,594.78 27.90,594.30 C28.84,593.82 30.51,593.50 32.29,593.29 C34.07,593.09 36.06,592.98 38.57,593.04 C41.08,593.11 44.43,593.46 47.36,593.67 C50.29,593.88 54.05,593.88 56.15,594.30 C58.24,594.72 59.39,595.55 59.91,596.18 C60.44,596.81 59.81,597.33 59.28,598.07 C58.76,598.80 57.51,599.74 56.77,600.58 C56.04,601.41 55.41,602.04 54.89,603.09 C54.37,604.13 54.16,605.60 53.64,606.85 C53.11,608.11 52.48,609.78 51.75,610.62 C51.02,611.46 50.18,611.62 49.24,611.88 C48.30,612.13 47.04,612.34 46.10,612.13 C45.16,611.92 44.64,611.29 43.59,610.62 C42.55,609.95 41.29,608.74 39.82,608.11 C38.36,607.48 36.37,607.48 34.80,606.85 C33.23,606.23 31.56,605.28 30.41,604.34 C29.26,603.40 28.53,602.15 27.90,601.20 C27.27,600.26 26.85,599.53 26.64,598.69 C26.43,597.86 26.43,596.91 26.64,596.18 Z" fill="url(#zg1)" stroke="#262626" stroke-width="0.4"/>
<path d="M31.02,597.58 C31.17,597.06 31.25,596.57 31.93,596.23 C32.61,595.88 33.81,595.65 35.09,595.50 C36.38,595.35 37.81,595.28 39.62,595.32 C41.43,595.37 43.84,595.62 45.96,595.77 C48.07,595.92 50.78,595.92 52.29,596.23 C53.80,596.53 54.63,597.13 55.01,597.58 C55.38,598.04 54.93,598.41 54.55,598.94 C54.18,599.47 53.27,600.15 52.74,600.75 C52.22,601.36 51.76,601.81 51.39,602.56 C51.01,603.32 50.86,604.37 50.48,605.28 C50.10,606.18 49.65,607.39 49.12,607.99 C48.60,608.60 47.99,608.72 47.31,608.90 C46.64,609.08 45.73,609.23 45.05,609.08 C44.37,608.93 44.00,608.48 43.24,607.99 C42.49,607.51 41.58,606.64 40.53,606.18 C39.47,605.73 38.04,605.73 36.91,605.28 C35.77,604.82 34.57,604.15 33.74,603.47 C32.91,602.79 32.38,601.88 31.93,601.20 C31.47,600.53 31.17,600.00 31.02,599.39 C30.87,598.79 30.87,598.11 31.02,597.58 Z" fill="url(#zg1)" stroke="#262626" stroke-width="0.4"/>
<path d="M35.40,598.99 C35.49,598.66 35.54,598.37 35.96,598.15 C36.37,597.94 37.11,597.80 37.90,597.71 C38.68,597.62 39.56,597.57 40.67,597.60 C41.78,597.63 43.26,597.78 44.55,597.88 C45.85,597.97 47.51,597.97 48.44,598.15 C49.36,598.34 49.87,598.71 50.10,598.99 C50.33,599.26 50.06,599.49 49.82,599.82 C49.59,600.14 49.04,600.56 48.72,600.93 C48.39,601.30 48.11,601.57 47.88,602.04 C47.65,602.50 47.56,603.15 47.33,603.70 C47.10,604.26 46.82,605.00 46.50,605.36 C46.17,605.73 45.80,605.81 45.39,605.92 C44.97,606.03 44.42,606.12 44.00,606.03 C43.58,605.94 43.35,605.66 42.89,605.36 C42.43,605.07 41.87,604.53 41.23,604.26 C40.58,603.98 39.70,603.98 39.01,603.70 C38.31,603.42 37.57,603.01 37.07,602.59 C36.56,602.18 36.23,601.62 35.96,601.20 C35.68,600.79 35.49,600.46 35.40,600.09 C35.31,599.73 35.31,599.31 35.40,598.99 Z" fill="url(#zg1)" stroke="#262626" stroke-width="0.4"/>
<path d="M39.78,600.39 C39.82,600.27 39.83,600.16 39.99,600.08 C40.14,600.00 40.41,599.95 40.70,599.92 C40.99,599.88 41.31,599.87 41.72,599.88 C42.13,599.89 42.68,599.94 43.15,599.98 C43.63,600.01 44.24,600.01 44.58,600.08 C44.92,600.15 45.11,600.28 45.20,600.39 C45.28,600.49 45.18,600.57 45.09,600.69 C45.01,600.81 44.81,600.97 44.69,601.10 C44.57,601.24 44.46,601.34 44.38,601.51 C44.29,601.68 44.26,601.92 44.18,602.12 C44.09,602.33 43.99,602.60 43.87,602.74 C43.75,602.87 43.61,602.90 43.46,602.94 C43.31,602.98 43.10,603.02 42.95,602.98 C42.80,602.95 42.71,602.85 42.54,602.74 C42.37,602.63 42.17,602.43 41.93,602.33 C41.69,602.23 41.36,602.23 41.11,602.12 C40.85,602.02 40.58,601.87 40.39,601.72 C40.21,601.56 40.09,601.36 39.99,601.20 C39.88,601.05 39.82,600.93 39.78,600.80 C39.75,600.66 39.75,600.51 39.78,600.39 Z" fill="url(#zg1)" stroke="#262626" stroke-width="0.4"/>
<path d="M68.61,620.91 C69.71,619.94 71.29,619.09 72.99,618.72 C74.70,618.36 77.13,618.48 78.83,618.72 C80.54,618.97 82.19,619.33 83.21,620.18 C84.23,621.03 84.84,622.25 84.96,623.83 C85.09,625.41 84.48,627.73 83.94,629.67 C83.41,631.62 82.85,633.56 81.75,635.51 C80.66,637.46 78.59,640.01 77.37,641.35 C76.16,642.69 75.43,643.54 74.45,643.54 C73.48,643.54 72.51,642.69 71.53,641.35 C70.56,640.01 69.34,637.46 68.61,635.51 C67.88,633.56 67.52,631.50 67.15,629.67 C66.79,627.85 66.18,626.02 66.42,624.56 C66.67,623.10 67.52,621.89 68.61,620.91 Z" fill="url(#zg0)" stroke="#000" stroke-width="1.0"/>
<path d="M69.64,622.14 C70.58,621.30 71.94,620.57 73.40,620.26 C74.87,619.94 76.96,620.05 78.42,620.26 C79.89,620.46 81.31,620.78 82.19,621.51 C83.07,622.24 83.59,623.29 83.70,624.65 C83.80,626.01 83.28,628.00 82.82,629.67 C82.36,631.35 81.88,633.02 80.93,634.69 C79.99,636.37 78.21,638.56 77.17,639.72 C76.12,640.87 75.49,641.60 74.66,641.60 C73.82,641.60 72.98,640.87 72.15,639.72 C71.31,638.56 70.26,636.37 69.64,634.69 C69.01,633.02 68.69,631.24 68.38,629.67 C68.07,628.10 67.54,626.53 67.75,625.28 C67.96,624.02 68.69,622.98 69.64,622.14 Z" fill="url(#zg1)" stroke="#262626" stroke-width="0.4"/>
<path d="M71.39,624.24 C72.07,623.64 73.05,623.11 74.10,622.88 C75.16,622.66 76.67,622.73 77.72,622.88 C78.78,623.03 79.80,623.26 80.44,623.79 C81.07,624.32 81.45,625.07 81.52,626.05 C81.60,627.03 81.22,628.46 80.89,629.67 C80.56,630.88 80.21,632.09 79.53,633.29 C78.85,634.50 77.57,636.08 76.82,636.91 C76.06,637.74 75.61,638.27 75.01,638.27 C74.40,638.27 73.80,637.74 73.20,636.91 C72.59,636.08 71.84,634.50 71.39,633.29 C70.93,632.09 70.71,630.80 70.48,629.67 C70.26,628.54 69.88,627.41 70.03,626.50 C70.18,625.60 70.71,624.84 71.39,624.24 Z" fill="url(#zg1)" stroke="#262626" stroke-width="0.4"/>
<path d="M73.14,626.34 C73.55,625.97 74.16,625.65 74.80,625.51 C75.45,625.37 76.37,625.42 77.02,625.51 C77.67,625.60 78.30,625.74 78.69,626.07 C79.07,626.39 79.31,626.85 79.35,627.45 C79.40,628.05 79.17,628.93 78.96,629.67 C78.76,630.41 78.55,631.15 78.13,631.89 C77.72,632.63 76.93,633.60 76.47,634.11 C76.00,634.62 75.73,634.94 75.36,634.94 C74.99,634.94 74.62,634.62 74.25,634.11 C73.88,633.60 73.42,632.63 73.14,631.89 C72.86,631.15 72.72,630.36 72.58,629.67 C72.45,628.98 72.21,628.28 72.31,627.73 C72.40,627.18 72.72,626.71 73.14,626.34 Z" fill="url(#zg1)" stroke="#262626" stroke-width="0.4"/>
<path d="M74.89,628.45 C75.04,628.31 75.27,628.19 75.50,628.14 C75.74,628.09 76.08,628.10 76.32,628.14 C76.56,628.17 76.79,628.22 76.93,628.34 C77.08,628.46 77.16,628.63 77.18,628.85 C77.20,629.08 77.11,629.40 77.04,629.67 C76.96,629.94 76.88,630.22 76.73,630.49 C76.58,630.76 76.29,631.12 76.12,631.31 C75.95,631.49 75.84,631.61 75.71,631.61 C75.57,631.61 75.44,631.49 75.30,631.31 C75.16,631.12 74.99,630.76 74.89,630.49 C74.79,630.22 74.74,629.93 74.69,629.67 C74.64,629.42 74.55,629.16 74.58,628.96 C74.62,628.75 74.74,628.58 74.89,628.45 Z" fill="url(#zg1)" stroke="#262626" stroke-width="0.4"/>
<circle cx="62.60" cy="622.40" r="1.70" fill="#000"/>
<circle cx="65.60" cy="621.40" r="2.60" fill="#fff" stroke="#000" stroke-width="1.2"/>
<polyline points="62.50,582.70 55.50,617.00 60.10,654.50" stroke="#1a1a1a" stroke-width="0.8" fill="none"/>
<line x1="23.10" y1="617.50" x2="55.50" y2="617.50" stroke="#1a1a1a" stroke-width="0.8"/>
<line x1="55.50" y1="617.00" x2="94.60" y2="599.70" stroke="#1a1a1a" stroke-width="0.8"/>
<text x="27.00" y="590.50" font-size="9.75" fill="#ff2a2a">Competitor</text>
<text x="30.70" y="601.60" font-size="9.75" fill="#ff2a2a">50.2%</text>
<text x="65.70" y="642.50" font-size="9.75" fill="#ff2a2a">Donor</text>
<text x="64.20" y="653.00" font-size="9.75" fill="#ff2a2a">49.5%</text>
<rect x="99.50" y="582.50" width="72.00" height="72.00" fill="none" stroke="#1a1a1a" stroke-width="1.0"/>
<line x1="98.30" y1="586.50" x2="99.50" y2="586.50" stroke="#1a1a1a" stroke-width="0.5"/>
<line x1="98.30" y1="599.70" x2="99.50" y2="599.70" stroke="#1a1a1a" stroke-width="0.5"/>
<line x1="98.30" y1="612.90" x2="99.50" y2="612.90" stroke="#1a1a1a" stroke-width="0.5"/>
<line x1="98.30" y1="626.10" x2="99.50" y2="626.10" stroke="#1a1a1a" stroke-width="0.5"/>
<line x1="98.30" y1="639.30" x2="99.50" y2="639.30" stroke="#1a1a1a" stroke-width="0.5"/>
<line x1="98.30" y1="652.50" x2="99.50" y2="652.50" stroke="#1a1a1a" stroke-width="0.5"/>
<line x1="102.50" y1="654.50" x2="102.50" y2="655.70" stroke="#1a1a1a" stroke-width="0.5"/>
<line x1="110.75" y1="654.50" x2="110.75" y2="655.70" stroke="#1a1a1a" stroke-width="0.5"/>
<line x1="119.00" y1="654.50" x2="119.00" y2="655.70" stroke="#1a1a1a" stroke-width="0.5"/>
<line x1="127.25" y1="654.50" x2="127.25" y2="655.70" stroke="#1a1a1a" stroke-width="0.5"/>
<line x1="135.50" y1="654.50" x2="135.50" y2="655.70" stroke="#1a1a1a" stroke-width="0.5"/>
<line x1="143.75" y1="654.50" x2="143.75" y2="655.70" stroke="#1a1a1a" stroke-width="0.5"/>
<line x1="152.00" y1="654.50" x2="152.00" y2="655.70" stroke="#1a1a1a" stroke-width="0.5"/>
<line x1="160.25" y1="654.50" x2="160.25" y2="655.70" stroke="#1a1a1a" stroke-width="0.5"/>
<line x1="168.50" y1="654.50" x2="168.50" y2="655.70" stroke="#1a1a1a" stroke-width="0.5"/>
<path d="M100.95,597.55 C101.19,596.34 101.80,595.36 103.14,594.64 C104.48,593.91 106.30,593.42 108.98,593.18 C111.65,592.93 115.79,593.05 119.20,593.18 C122.60,593.30 126.50,593.54 129.42,593.91 C132.34,594.27 134.65,594.95 136.72,595.36 C138.78,595.78 141.78,595.73 141.82,596.39 C141.87,597.04 138.22,598.14 137.01,599.31 C135.79,600.47 135.18,601.74 134.53,603.39 C133.87,605.05 133.67,607.53 133.07,609.23 C132.46,610.94 131.97,612.64 130.88,613.61 C129.78,614.59 127.96,615.02 126.50,615.07 C125.04,615.12 123.82,614.51 122.12,613.91 C120.41,613.30 118.22,612.20 116.28,611.42 C114.33,610.64 112.38,610.21 110.44,609.23 C108.49,608.26 106.06,606.80 104.60,605.58 C103.14,604.37 102.29,603.27 101.68,601.93 C101.07,600.60 100.71,598.77 100.95,597.55 Z" fill="url(#zg0)" stroke="#000" stroke-width="1.0"/>
<path d="M103.50,597.92 C103.71,596.88 104.24,596.04 105.39,595.41 C106.54,594.78 108.11,594.37 110.41,594.16 C112.71,593.95 116.27,594.05 119.20,594.16 C122.13,594.26 125.47,594.47 127.99,594.78 C130.50,595.10 132.48,595.68 134.26,596.04 C136.04,596.40 138.62,596.35 138.66,596.92 C138.70,597.48 135.56,598.42 134.51,599.43 C133.47,600.43 132.94,601.52 132.38,602.94 C131.81,604.37 131.65,606.50 131.12,607.97 C130.60,609.43 130.18,610.90 129.24,611.73 C128.30,612.57 126.73,612.95 125.47,612.99 C124.22,613.03 123.17,612.51 121.71,611.98 C120.24,611.46 118.36,610.52 116.69,609.85 C115.01,609.18 113.34,608.80 111.66,607.97 C109.99,607.13 107.90,605.87 106.64,604.83 C105.39,603.78 104.65,602.84 104.13,601.69 C103.61,600.54 103.29,598.97 103.50,597.92 Z" fill="url(#zg1)" stroke="#262626" stroke-width="0.4"/>
<path d="M107.88,598.55 C108.03,597.80 108.41,597.20 109.24,596.74 C110.07,596.29 111.20,595.99 112.86,595.84 C114.52,595.69 117.09,595.76 119.20,595.84 C121.31,595.91 123.72,596.06 125.53,596.29 C127.34,596.52 128.78,596.94 130.06,597.20 C131.34,597.45 133.20,597.42 133.23,597.83 C133.26,598.24 130.99,598.92 130.24,599.64 C129.49,600.36 129.11,601.15 128.70,602.17 C128.29,603.20 128.17,604.74 127.80,605.79 C127.42,606.85 127.12,607.91 126.44,608.51 C125.76,609.11 124.63,609.38 123.72,609.41 C122.82,609.44 122.06,609.07 121.01,608.69 C119.95,608.31 118.59,607.63 117.39,607.15 C116.18,606.67 114.97,606.40 113.77,605.79 C112.56,605.19 111.05,604.29 110.15,603.53 C109.24,602.78 108.71,602.10 108.34,601.27 C107.96,600.44 107.73,599.31 107.88,598.55 Z" fill="url(#zg1)" stroke="#262626" stroke-width="0.4"/>
<path d="M112.26,599.18 C112.36,598.72 112.59,598.35 113.09,598.07 C113.60,597.80 114.30,597.61 115.31,597.52 C116.33,597.43 117.90,597.47 119.20,597.52 C120.49,597.57 121.97,597.66 123.08,597.80 C124.19,597.94 125.07,598.19 125.85,598.35 C126.64,598.51 127.78,598.49 127.80,598.74 C127.81,598.99 126.43,599.41 125.96,599.85 C125.50,600.29 125.27,600.77 125.02,601.40 C124.77,602.03 124.70,602.97 124.47,603.62 C124.24,604.27 124.05,604.92 123.64,605.29 C123.22,605.66 122.53,605.82 121.97,605.84 C121.42,605.86 120.95,605.63 120.31,605.40 C119.66,605.17 118.83,604.75 118.09,604.45 C117.35,604.16 116.61,603.99 115.87,603.62 C115.13,603.25 114.20,602.70 113.65,602.24 C113.09,601.77 112.77,601.36 112.54,600.85 C112.31,600.34 112.17,599.65 112.26,599.18 Z" fill="url(#zg1)" stroke="#262626" stroke-width="0.4"/>
<path d="M116.64,599.81 C116.68,599.64 116.76,599.51 116.95,599.41 C117.14,599.30 117.39,599.24 117.77,599.20 C118.14,599.17 118.72,599.18 119.20,599.20 C119.67,599.22 120.22,599.25 120.63,599.30 C121.04,599.35 121.36,599.45 121.65,599.51 C121.94,599.57 122.36,599.56 122.36,599.65 C122.37,599.74 121.86,599.90 121.69,600.06 C121.52,600.22 121.44,600.40 121.34,600.63 C121.25,600.86 121.22,601.21 121.14,601.45 C121.05,601.69 120.99,601.93 120.83,602.06 C120.68,602.20 120.42,602.26 120.22,602.27 C120.01,602.27 119.84,602.19 119.61,602.10 C119.37,602.02 119.06,601.87 118.79,601.76 C118.52,601.65 118.24,601.59 117.97,601.45 C117.70,601.31 117.36,601.11 117.15,600.94 C116.95,600.77 116.83,600.62 116.74,600.43 C116.66,600.24 116.61,599.98 116.64,599.81 Z" fill="url(#zg1)" stroke="#262626" stroke-width="0.4"/>
<path d="M139.64,626.75 C140.24,625.41 141.09,623.71 142.55,622.37 C144.01,621.03 146.45,619.45 148.39,618.72 C150.34,617.99 152.53,617.87 154.23,617.99 C155.94,618.11 157.52,618.72 158.61,619.45 C159.71,620.18 160.61,620.91 160.80,622.37 C161.00,623.83 160.39,626.27 159.78,628.21 C159.17,630.16 158.08,632.10 157.15,634.05 C156.23,636.00 155.21,638.19 154.23,639.89 C153.26,641.59 152.29,644.03 151.31,644.27 C150.34,644.51 149.61,642.57 148.39,641.35 C147.18,640.13 145.35,638.19 144.01,636.97 C142.68,635.75 141.22,635.15 140.36,634.05 C139.51,632.96 139.03,631.62 138.91,630.40 C138.78,629.18 139.03,628.09 139.64,626.75 Z" fill="url(#zg0)" stroke="#000" stroke-width="1.0"/>
<path d="M141.47,626.85 C142.00,625.70 142.73,624.24 143.99,623.09 C145.24,621.94 147.33,620.58 149.01,619.95 C150.68,619.32 152.56,619.22 154.03,619.32 C155.49,619.43 156.85,619.95 157.80,620.58 C158.74,621.20 159.51,621.83 159.68,623.09 C159.85,624.34 159.32,626.44 158.80,628.11 C158.28,629.78 157.34,631.46 156.54,633.13 C155.75,634.81 154.87,636.69 154.03,638.15 C153.19,639.62 152.36,641.71 151.52,641.92 C150.68,642.13 150.05,640.45 149.01,639.41 C147.96,638.36 146.39,636.69 145.24,635.64 C144.09,634.60 142.83,634.07 142.10,633.13 C141.37,632.19 140.95,631.04 140.85,629.99 C140.74,628.95 140.95,628.00 141.47,626.85 Z" fill="url(#zg1)" stroke="#262626" stroke-width="0.4"/>
<path d="M144.63,627.03 C145.00,626.20 145.53,625.14 146.44,624.31 C147.34,623.48 148.85,622.50 150.06,622.05 C151.27,621.60 152.62,621.52 153.68,621.60 C154.73,621.67 155.72,622.05 156.39,622.50 C157.07,622.96 157.63,623.41 157.75,624.31 C157.87,625.22 157.50,626.73 157.12,627.93 C156.74,629.14 156.06,630.35 155.49,631.55 C154.92,632.76 154.28,634.12 153.68,635.18 C153.08,636.23 152.47,637.74 151.87,637.89 C151.27,638.04 150.81,636.83 150.06,636.08 C149.30,635.33 148.17,634.12 147.34,633.36 C146.51,632.61 145.61,632.23 145.08,631.55 C144.55,630.88 144.25,630.05 144.18,629.29 C144.10,628.54 144.25,627.86 144.63,627.03 Z" fill="url(#zg1)" stroke="#262626" stroke-width="0.4"/>
<path d="M147.78,627.20 C148.01,626.70 148.34,626.05 148.89,625.54 C149.45,625.03 150.37,624.43 151.11,624.15 C151.85,623.88 152.68,623.83 153.33,623.88 C153.98,623.92 154.58,624.15 154.99,624.43 C155.41,624.71 155.75,624.99 155.82,625.54 C155.90,626.09 155.67,627.02 155.44,627.76 C155.21,628.50 154.79,629.24 154.44,629.98 C154.09,630.72 153.70,631.55 153.33,632.20 C152.96,632.84 152.59,633.77 152.22,633.86 C151.85,633.95 151.57,633.21 151.11,632.75 C150.65,632.29 149.95,631.55 149.45,631.09 C148.94,630.63 148.38,630.39 148.06,629.98 C147.73,629.56 147.55,629.05 147.50,628.59 C147.46,628.13 147.55,627.71 147.78,627.20 Z" fill="url(#zg1)" stroke="#262626" stroke-width="0.4"/>
<path d="M150.93,627.38 C151.02,627.19 151.14,626.95 151.34,626.77 C151.55,626.58 151.89,626.36 152.16,626.26 C152.43,626.15 152.74,626.14 152.98,626.15 C153.22,626.17 153.44,626.26 153.59,626.36 C153.74,626.46 153.87,626.56 153.90,626.77 C153.93,626.97 153.84,627.31 153.75,627.58 C153.67,627.86 153.52,628.13 153.39,628.40 C153.26,628.67 153.11,628.98 152.98,629.22 C152.84,629.46 152.71,629.80 152.57,629.83 C152.43,629.87 152.33,629.59 152.16,629.42 C151.99,629.25 151.73,628.98 151.55,628.81 C151.36,628.64 151.16,628.55 151.04,628.40 C150.92,628.25 150.85,628.06 150.83,627.89 C150.82,627.72 150.85,627.57 150.93,627.38 Z" fill="url(#zg1)" stroke="#262626" stroke-width="0.4"/>
<polyline points="138.60,583.00 132.30,616.50 136.40,654.50" stroke="#1a1a1a" stroke-width="0.8" fill="none"/>
<line x1="99.90" y1="616.50" x2="132.30" y2="616.50" stroke="#1a1a1a" stroke-width="0.8"/>
<line x1="132.30" y1="616.50" x2="171.50" y2="599.30" stroke="#1a1a1a" stroke-width="0.8"/>
<text x="103.90" y="592.40" font-size="9.75" fill="#ff2a2a">61.3%</text>
<text x="138.90" y="653.00" font-size="9.75" fill="#ff2a2a">37.1%</text>
<rect x="23.50" y="673.50" width="71.00" height="70.00" fill="none" stroke="#1a1a1a" stroke-width="1.0"/>
<line x1="22.30" y1="677.50" x2="23.50" y2="677.50" stroke="#1a1a1a" stroke-width="0.5"/>
<line x1="22.30" y1="690.30" x2="23.50" y2="690.30" stroke="#1a1a1a" stroke-width="0.5"/>
<line x1="22.30" y1="703.10" x2="23.50" y2="703.10" stroke="#1a1a1a" stroke-width="0.5"/>
<line x1="22.30" y1="715.90" x2="23.50" y2="715.90" stroke="#1a1a1a" stroke-width="0.5"/>
<line x1="22.30" y1="728.70" x2="23.50" y2="728.70" stroke="#1a1a1a" stroke-width="0.5"/>
<line x1="22.30" y1="741.50" x2="23.50" y2="741.50" stroke="#1a1a1a" stroke-width="0.5"/>
<line x1="26.50" y1="743.50" x2="26.50" y2="744.70" stroke="#1a1a1a" stroke-width="0.5"/>
<line x1="34.62" y1="743.50" x2="34.62" y2="744.70" stroke="#1a1a1a" stroke-width="0.5"/>
<line x1="42.75" y1="743.50" x2="42.75" y2="744.70" stroke="#1a1a1a" stroke-width="0.5"/>
<line x1="50.88" y1="743.50" x2="50.88" y2="744.70" stroke="#1a1a1a" stroke-width="0.5"/>
<line x1="59.00" y1="743.50" x2="59.00" y2="744.70" stroke="#1a1a1a" stroke-width="0.5"/>
<line x1="67.12" y1="743.50" x2="67.12" y2="744.70" stroke="#1a1a1a" stroke-width="0.5"/>
<line x1="75.25" y1="743.50" x2="75.25" y2="744.70" stroke="#1a1a1a" stroke-width="0.5"/>
<line x1="83.38" y1="743.50" x2="83.38" y2="744.70" stroke="#1a1a1a" stroke-width="0.5"/>
<line x1="91.50" y1="743.50" x2="91.50" y2="744.70" stroke="#1a1a1a" stroke-width="0.5"/>
<path d="M53.28,703.39 C54.38,702.66 55.35,701.20 56.93,701.20 C58.52,701.20 60.83,702.79 62.77,703.39 C64.72,704.00 66.91,703.88 68.61,704.85 C70.32,705.83 71.78,707.53 72.99,709.23 C74.21,710.94 75.18,713.13 75.91,715.07 C76.64,717.02 77.01,718.97 77.37,720.91 C77.74,722.86 78.10,724.81 78.10,726.75 C78.10,728.70 77.86,730.64 77.37,732.59 C76.89,734.54 76.03,737.21 75.18,738.43 C74.33,739.65 73.36,740.13 72.26,739.89 C71.17,739.65 69.95,737.94 68.61,736.97 C67.27,736.00 65.69,734.78 64.23,734.05 C62.77,733.32 61.07,733.08 59.85,732.59 C58.64,732.10 57.66,732.10 56.93,731.13 C56.20,730.16 55.84,728.45 55.47,726.75 C55.11,725.05 54.99,722.86 54.74,720.91 C54.50,718.97 54.38,716.53 54.01,715.07 C53.65,713.61 53.28,712.88 52.55,712.15 C51.82,711.42 50.24,711.42 49.64,710.69 C49.03,709.96 48.78,708.63 48.91,707.77 C49.03,706.92 49.64,706.31 50.36,705.58 C51.09,704.85 52.19,704.12 53.28,703.39 Z" fill="url(#zg0)" stroke="#000" stroke-width="1.0"/>
<path d="M55.23,705.85 C56.17,705.22 57.00,703.96 58.36,703.96 C59.73,703.96 61.71,705.32 63.39,705.85 C65.06,706.37 66.94,706.27 68.41,707.10 C69.87,707.94 71.13,709.40 72.18,710.87 C73.22,712.33 74.06,714.22 74.69,715.89 C75.31,717.56 75.63,719.24 75.94,720.91 C76.26,722.59 76.57,724.26 76.57,725.93 C76.57,727.61 76.36,729.28 75.94,730.96 C75.52,732.63 74.79,734.93 74.06,735.98 C73.33,737.02 72.49,737.44 71.55,737.23 C70.61,737.02 69.56,735.56 68.41,734.72 C67.26,733.89 65.90,732.84 64.64,732.21 C63.39,731.58 61.92,731.37 60.88,730.96 C59.83,730.54 58.99,730.54 58.36,729.70 C57.74,728.86 57.42,727.40 57.11,725.93 C56.80,724.47 56.69,722.59 56.48,720.91 C56.27,719.24 56.17,717.15 55.85,715.89 C55.54,714.64 55.23,714.01 54.60,713.38 C53.97,712.75 52.61,712.75 52.09,712.12 C51.56,711.50 51.36,710.35 51.46,709.61 C51.56,708.88 52.09,708.36 52.72,707.73 C53.34,707.10 54.28,706.47 55.23,705.85 Z" fill="url(#zg1)" stroke="#262626" stroke-width="0.4"/>
<path d="M58.55,710.05 C59.23,709.60 59.84,708.69 60.82,708.69 C61.80,708.69 63.23,709.67 64.44,710.05 C65.64,710.43 67.00,710.35 68.06,710.96 C69.11,711.56 70.02,712.62 70.77,713.67 C71.53,714.73 72.13,716.09 72.58,717.29 C73.04,718.50 73.26,719.71 73.49,720.91 C73.72,722.12 73.94,723.33 73.94,724.53 C73.94,725.74 73.79,726.95 73.49,728.15 C73.19,729.36 72.66,731.02 72.13,731.77 C71.60,732.53 71.00,732.83 70.32,732.68 C69.64,732.53 68.89,731.47 68.06,730.87 C67.23,730.27 66.25,729.51 65.34,729.06 C64.44,728.61 63.38,728.45 62.63,728.15 C61.87,727.85 61.27,727.85 60.82,727.25 C60.36,726.64 60.14,725.59 59.91,724.53 C59.69,723.48 59.61,722.12 59.46,720.91 C59.31,719.71 59.23,718.20 59.01,717.29 C58.78,716.39 58.55,715.93 58.10,715.48 C57.65,715.03 56.67,715.03 56.29,714.58 C55.91,714.12 55.76,713.29 55.84,712.77 C55.91,712.24 56.29,711.86 56.74,711.41 C57.20,710.96 57.88,710.50 58.55,710.05 Z" fill="url(#zg1)" stroke="#262626" stroke-width="0.4"/>
<path d="M61.88,714.26 C62.30,713.98 62.67,713.42 63.27,713.42 C63.87,713.42 64.75,714.02 65.49,714.26 C66.23,714.49 67.06,714.44 67.71,714.81 C68.36,715.18 68.91,715.83 69.37,716.47 C69.83,717.12 70.20,717.95 70.48,718.69 C70.76,719.43 70.90,720.17 71.04,720.91 C71.18,721.65 71.31,722.39 71.31,723.13 C71.31,723.87 71.22,724.61 71.04,725.35 C70.85,726.09 70.53,727.11 70.20,727.57 C69.88,728.03 69.51,728.22 69.09,728.12 C68.68,728.03 68.22,727.38 67.71,727.01 C67.20,726.64 66.60,726.18 66.04,725.91 C65.49,725.63 64.84,725.54 64.38,725.35 C63.92,725.17 63.55,725.17 63.27,724.80 C62.99,724.43 62.85,723.78 62.72,723.13 C62.58,722.48 62.53,721.65 62.44,720.91 C62.35,720.17 62.30,719.25 62.16,718.69 C62.02,718.14 61.88,717.86 61.61,717.58 C61.33,717.31 60.73,717.31 60.50,717.03 C60.27,716.75 60.17,716.24 60.22,715.92 C60.27,715.60 60.50,715.36 60.77,715.09 C61.05,714.81 61.47,714.53 61.88,714.26 Z" fill="url(#zg1)" stroke="#262626" stroke-width="0.4"/>
<path d="M65.21,718.46 C65.36,718.36 65.50,718.15 65.72,718.15 C65.94,718.15 66.27,718.37 66.54,718.46 C66.81,718.55 67.12,718.53 67.36,718.66 C67.60,718.80 67.80,719.04 67.97,719.28 C68.14,719.52 68.28,719.82 68.38,720.09 C68.48,720.37 68.53,720.64 68.58,720.91 C68.64,721.18 68.69,721.46 68.69,721.73 C68.69,722.00 68.65,722.27 68.58,722.55 C68.52,722.82 68.40,723.19 68.28,723.36 C68.16,723.54 68.02,723.60 67.87,723.57 C67.72,723.54 67.55,723.30 67.36,723.16 C67.17,723.02 66.95,722.85 66.74,722.75 C66.54,722.65 66.30,722.62 66.13,722.55 C65.96,722.48 65.82,722.48 65.72,722.34 C65.62,722.21 65.57,721.97 65.52,721.73 C65.47,721.49 65.45,721.18 65.42,720.91 C65.38,720.64 65.36,720.30 65.31,720.09 C65.26,719.89 65.21,719.79 65.11,719.69 C65.01,719.58 64.79,719.58 64.70,719.48 C64.62,719.38 64.58,719.19 64.60,719.07 C64.62,718.95 64.70,718.87 64.80,718.77 C64.91,718.66 65.06,718.56 65.21,718.46 Z" fill="url(#zg1)" stroke="#262626" stroke-width="0.4"/>
<path d="M36.50,687.34 C37.18,685.88 37.96,684.95 39.42,684.42 C40.88,683.88 43.55,684.00 45.26,684.12 C46.96,684.25 48.66,684.37 49.64,685.15 C50.61,685.92 50.80,687.21 51.09,688.80 C51.39,690.38 51.51,692.93 51.39,694.64 C51.27,696.34 50.17,698.04 50.36,699.01 C50.56,699.99 51.95,699.74 52.55,700.47 C53.16,701.20 54.14,702.42 54.01,703.39 C53.89,704.37 52.68,705.58 51.82,706.31 C50.97,707.04 49.88,707.77 48.91,707.77 C47.93,707.77 47.08,706.92 45.99,706.31 C44.89,705.71 43.55,704.85 42.34,704.12 C41.12,703.39 39.71,702.79 38.69,701.93 C37.66,701.08 36.76,700.47 36.20,699.01 C35.64,697.55 35.28,695.12 35.33,693.18 C35.38,691.23 35.82,688.80 36.50,687.34 Z" fill="url(#zg0)" stroke="#000" stroke-width="1.0"/>
<path d="M37.42,688.36 C38.00,687.10 38.67,686.31 39.93,685.85 C41.18,685.39 43.48,685.49 44.95,685.60 C46.41,685.70 47.88,685.80 48.72,686.47 C49.55,687.14 49.72,688.25 49.97,689.61 C50.22,690.97 50.33,693.17 50.22,694.64 C50.12,696.10 49.18,697.56 49.34,698.40 C49.51,699.24 50.70,699.03 51.23,699.66 C51.75,700.28 52.59,701.33 52.48,702.17 C52.38,703.00 51.33,704.05 50.60,704.68 C49.87,705.31 48.92,705.93 48.09,705.93 C47.25,705.93 46.52,705.20 45.58,704.68 C44.64,704.16 43.48,703.42 42.44,702.80 C41.39,702.17 40.18,701.64 39.30,700.91 C38.42,700.18 37.65,699.66 37.16,698.40 C36.68,697.15 36.37,695.05 36.41,693.38 C36.45,691.71 36.83,689.61 37.42,688.36 Z" fill="url(#zg1)" stroke="#262626" stroke-width="0.4"/>
<path d="M38.99,690.11 C39.42,689.20 39.90,688.63 40.80,688.30 C41.71,687.97 43.37,688.04 44.42,688.12 C45.48,688.19 46.54,688.27 47.14,688.75 C47.74,689.23 47.86,690.03 48.04,691.01 C48.22,692.00 48.30,693.58 48.22,694.64 C48.15,695.69 47.47,696.75 47.59,697.35 C47.71,697.95 48.57,697.80 48.95,698.26 C49.33,698.71 49.93,699.46 49.85,700.07 C49.78,700.67 49.02,701.42 48.50,701.88 C47.97,702.33 47.29,702.78 46.69,702.78 C46.08,702.78 45.55,702.25 44.88,701.88 C44.20,701.50 43.37,700.97 42.61,700.52 C41.86,700.07 40.98,699.69 40.35,699.16 C39.72,698.63 39.16,698.26 38.81,697.35 C38.46,696.45 38.24,694.94 38.27,693.73 C38.30,692.52 38.57,691.01 38.99,690.11 Z" fill="url(#zg1)" stroke="#262626" stroke-width="0.4"/>
<path d="M40.57,691.86 C40.83,691.31 41.12,690.96 41.68,690.75 C42.23,690.55 43.25,690.59 43.90,690.64 C44.55,690.69 45.19,690.73 45.56,691.03 C45.93,691.33 46.01,691.82 46.12,692.42 C46.23,693.02 46.27,693.99 46.23,694.64 C46.18,695.28 45.77,695.93 45.84,696.30 C45.91,696.67 46.44,696.58 46.67,696.85 C46.90,697.13 47.27,697.59 47.23,697.96 C47.18,698.33 46.72,698.80 46.39,699.07 C46.07,699.35 45.65,699.63 45.28,699.63 C44.91,699.63 44.59,699.30 44.18,699.07 C43.76,698.84 43.25,698.52 42.79,698.24 C42.33,697.96 41.79,697.73 41.40,697.41 C41.01,697.09 40.67,696.85 40.46,696.30 C40.25,695.74 40.11,694.82 40.13,694.08 C40.14,693.34 40.31,692.42 40.57,691.86 Z" fill="url(#zg1)" stroke="#262626" stroke-width="0.4"/>
<path d="M42.15,693.61 C42.24,693.41 42.35,693.28 42.55,693.20 C42.76,693.13 43.13,693.15 43.37,693.16 C43.61,693.18 43.85,693.20 43.99,693.31 C44.12,693.42 44.15,693.60 44.19,693.82 C44.23,694.04 44.25,694.40 44.23,694.64 C44.21,694.87 44.06,695.11 44.09,695.25 C44.11,695.38 44.31,695.35 44.39,695.45 C44.48,695.55 44.62,695.73 44.60,695.86 C44.58,696.00 44.41,696.17 44.29,696.27 C44.17,696.37 44.02,696.47 43.88,696.47 C43.75,696.47 43.63,696.36 43.47,696.27 C43.32,696.18 43.13,696.07 42.96,695.96 C42.79,695.86 42.60,695.78 42.45,695.66 C42.31,695.54 42.18,695.45 42.11,695.25 C42.03,695.04 41.98,694.70 41.98,694.43 C41.99,694.16 42.05,693.82 42.15,693.61 Z" fill="url(#zg1)" stroke="#262626" stroke-width="0.4"/>
<polyline points="56.20,673.50 53.70,708.50 56.20,743.80" stroke="#1a1a1a" stroke-width="0.8" fill="none"/>
<line x1="23.40" y1="708.50" x2="53.70" y2="708.50" stroke="#1a1a1a" stroke-width="0.8"/>
<line x1="53.70" y1="708.80" x2="94.20" y2="691.40" stroke="#1a1a1a" stroke-width="0.8"/>
<text x="27.70" y="683.70" font-size="9.75" fill="#ff2a2a">28.7%</text>
<text x="62.00" y="742.10" font-size="9.75" fill="#ff2a2a">69.0%</text>
<rect x="99.50" y="673.50" width="71.00" height="70.00" fill="none" stroke="#1a1a1a" stroke-width="1.0"/>
<line x1="98.30" y1="677.50" x2="99.50" y2="677.50" stroke="#1a1a1a" stroke-width="0.5"/>
<line x1="98.30" y1="690.30" x2="99.50" y2="690.30" stroke="#1a1a1a" stroke-width="0.5"/>
<line x1="98.30" y1="703.10" x2="99.50" y2="703.10" stroke="#1a1a1a" stroke-width="0.5"/>
<line x1="98.30" y1="715.90" x2="99.50" y2="715.90" stroke="#1a1a1a" stroke-width="0.5"/>
<line x1="98.30" y1="728.70" x2="99.50" y2="728.70" stroke="#1a1a1a" stroke-width="0.5"/>
<line x1="98.30" y1="741.50" x2="99.50" y2="741.50" stroke="#1a1a1a" stroke-width="0.5"/>
<line x1="102.50" y1="743.50" x2="102.50" y2="744.70" stroke="#1a1a1a" stroke-width="0.5"/>
<line x1="110.62" y1="743.50" x2="110.62" y2="744.70" stroke="#1a1a1a" stroke-width="0.5"/>
<line x1="118.75" y1="743.50" x2="118.75" y2="744.70" stroke="#1a1a1a" stroke-width="0.5"/>
<line x1="126.88" y1="743.50" x2="126.88" y2="744.70" stroke="#1a1a1a" stroke-width="0.5"/>
<line x1="135.00" y1="743.50" x2="135.00" y2="744.70" stroke="#1a1a1a" stroke-width="0.5"/>
<line x1="143.12" y1="743.50" x2="143.12" y2="744.70" stroke="#1a1a1a" stroke-width="0.5"/>
<line x1="151.25" y1="743.50" x2="151.25" y2="744.70" stroke="#1a1a1a" stroke-width="0.5"/>
<line x1="159.38" y1="743.50" x2="159.38" y2="744.70" stroke="#1a1a1a" stroke-width="0.5"/>
<line x1="167.50" y1="743.50" x2="167.50" y2="744.70" stroke="#1a1a1a" stroke-width="0.5"/>
<path d="M113.36,686.61 C114.04,685.39 114.94,684.83 116.28,684.42 C117.62,684.00 119.93,683.76 121.39,684.12 C122.85,684.49 124.31,685.34 125.04,686.61 C125.77,687.87 125.72,689.65 125.77,691.72 C125.82,693.78 125.33,697.07 125.33,699.01 C125.33,700.96 125.82,702.06 125.77,703.39 C125.72,704.73 125.52,706.19 125.04,707.04 C124.55,707.90 123.58,708.38 122.85,708.50 C122.12,708.63 121.39,708.38 120.66,707.77 C119.93,707.17 119.32,705.83 118.47,704.85 C117.62,703.88 116.40,703.15 115.55,701.93 C114.70,700.72 113.92,699.26 113.36,697.55 C112.80,695.85 112.19,693.54 112.19,691.72 C112.19,689.89 112.68,687.82 113.36,686.61 Z" fill="url(#zg0)" stroke="#000" stroke-width="1.0"/>
<path d="M114.07,687.73 C114.66,686.68 115.43,686.20 116.58,685.85 C117.73,685.49 119.72,685.28 120.98,685.60 C122.23,685.91 123.49,686.64 124.12,687.73 C124.74,688.82 124.70,690.35 124.74,692.12 C124.79,693.90 124.37,696.73 124.37,698.40 C124.37,700.08 124.79,701.02 124.74,702.17 C124.70,703.32 124.54,704.57 124.12,705.31 C123.70,706.04 122.86,706.46 122.23,706.56 C121.61,706.67 120.98,706.46 120.35,705.93 C119.72,705.41 119.20,704.26 118.47,703.42 C117.73,702.59 116.69,701.96 115.96,700.91 C115.22,699.87 114.55,698.61 114.07,697.15 C113.59,695.68 113.07,693.69 113.07,692.12 C113.07,690.55 113.49,688.78 114.07,687.73 Z" fill="url(#zg1)" stroke="#262626" stroke-width="0.4"/>
<path d="M115.30,689.66 C115.72,688.90 116.28,688.56 117.11,688.30 C117.94,688.04 119.37,687.89 120.28,688.12 C121.18,688.34 122.09,688.87 122.54,689.66 C122.99,690.44 122.96,691.54 122.99,692.82 C123.02,694.11 122.72,696.14 122.72,697.35 C122.72,698.56 123.02,699.24 122.99,700.07 C122.96,700.90 122.84,701.80 122.54,702.33 C122.24,702.86 121.64,703.16 121.18,703.23 C120.73,703.31 120.28,703.16 119.82,702.78 C119.37,702.40 119.00,701.57 118.47,700.97 C117.94,700.37 117.18,699.91 116.66,699.16 C116.13,698.41 115.65,697.50 115.30,696.45 C114.95,695.39 114.58,693.96 114.58,692.82 C114.58,691.69 114.88,690.41 115.30,689.66 Z" fill="url(#zg1)" stroke="#262626" stroke-width="0.4"/>
<path d="M116.53,691.58 C116.78,691.12 117.13,690.91 117.64,690.75 C118.14,690.59 119.02,690.50 119.58,690.64 C120.13,690.78 120.69,691.10 120.96,691.58 C121.24,692.06 121.22,692.74 121.24,693.53 C121.26,694.31 121.07,695.56 121.07,696.30 C121.07,697.04 121.26,697.45 121.24,697.96 C121.22,698.47 121.15,699.03 120.96,699.35 C120.78,699.67 120.41,699.86 120.13,699.91 C119.85,699.95 119.58,699.86 119.30,699.63 C119.02,699.40 118.79,698.89 118.47,698.52 C118.14,698.15 117.68,697.87 117.36,697.41 C117.03,696.95 116.74,696.39 116.53,695.74 C116.31,695.10 116.08,694.22 116.08,693.53 C116.08,692.83 116.27,692.05 116.53,691.58 Z" fill="url(#zg1)" stroke="#262626" stroke-width="0.4"/>
<path d="M117.75,693.51 C117.85,693.34 117.97,693.26 118.16,693.20 C118.35,693.15 118.67,693.11 118.88,693.16 C119.08,693.21 119.28,693.33 119.39,693.51 C119.49,693.69 119.48,693.94 119.49,694.23 C119.50,694.52 119.43,694.98 119.43,695.25 C119.43,695.52 119.50,695.67 119.49,695.86 C119.48,696.05 119.45,696.25 119.39,696.37 C119.32,696.49 119.18,696.56 119.08,696.58 C118.98,696.59 118.88,696.56 118.77,696.47 C118.67,696.39 118.59,696.20 118.47,696.07 C118.35,695.93 118.18,695.83 118.06,695.66 C117.94,695.49 117.83,695.28 117.75,695.04 C117.67,694.81 117.59,694.48 117.59,694.23 C117.59,693.97 117.66,693.68 117.75,693.51 Z" fill="url(#zg1)" stroke="#262626" stroke-width="0.4"/>
<path d="M133.80,712.15 C134.40,711.42 135.26,710.01 136.72,709.23 C138.18,708.45 140.85,707.60 142.55,707.48 C144.26,707.36 145.84,707.73 146.93,708.50 C148.03,709.28 148.69,710.57 149.12,712.15 C149.56,713.73 149.68,716.05 149.56,717.99 C149.44,719.94 148.71,722.01 148.39,723.83 C148.08,725.66 148.15,727.73 147.66,728.94 C147.18,730.16 146.33,731.01 145.47,731.13 C144.62,731.25 143.53,730.40 142.55,729.67 C141.58,728.94 140.49,728.21 139.64,726.75 C138.78,725.29 138.30,722.62 137.45,720.91 C136.59,719.21 135.26,717.75 134.53,716.53 C133.80,715.32 133.19,714.34 133.07,713.61 C132.94,712.88 133.19,712.88 133.80,712.15 Z" fill="url(#zg0)" stroke="#000" stroke-width="1.0"/>
<path d="M135.12,712.97 C135.65,712.34 136.38,711.13 137.64,710.46 C138.89,709.79 141.19,709.06 142.66,708.95 C144.12,708.85 145.48,709.16 146.42,709.83 C147.36,710.50 147.93,711.61 148.31,712.97 C148.68,714.33 148.79,716.32 148.68,717.99 C148.58,719.67 147.95,721.45 147.68,723.01 C147.41,724.58 147.47,726.36 147.05,727.41 C146.63,728.45 145.90,729.19 145.17,729.29 C144.44,729.40 143.49,728.66 142.66,728.04 C141.82,727.41 140.88,726.78 140.15,725.53 C139.41,724.27 139.00,721.97 138.26,720.50 C137.53,719.04 136.38,717.78 135.75,716.74 C135.12,715.69 134.60,714.85 134.50,714.23 C134.39,713.60 134.60,713.60 135.12,712.97 Z" fill="url(#zg1)" stroke="#262626" stroke-width="0.4"/>
<path d="M137.40,714.37 C137.78,713.92 138.31,713.04 139.21,712.56 C140.12,712.08 141.78,711.55 142.83,711.48 C143.89,711.40 144.87,711.63 145.55,712.11 C146.23,712.59 146.63,713.39 146.91,714.37 C147.18,715.35 147.25,716.79 147.18,717.99 C147.10,719.20 146.65,720.48 146.45,721.61 C146.26,722.74 146.30,724.03 146.00,724.78 C145.70,725.54 145.17,726.06 144.64,726.14 C144.11,726.21 143.44,725.69 142.83,725.23 C142.23,724.78 141.55,724.33 141.02,723.42 C140.49,722.52 140.19,720.86 139.66,719.80 C139.14,718.75 138.31,717.84 137.85,717.09 C137.40,716.33 137.02,715.73 136.95,715.28 C136.87,714.82 137.02,714.82 137.40,714.37 Z" fill="url(#zg1)" stroke="#262626" stroke-width="0.4"/>
<path d="M139.68,715.77 C139.91,715.50 140.23,714.96 140.79,714.66 C141.34,714.37 142.36,714.04 143.01,714.00 C143.65,713.95 144.26,714.09 144.67,714.39 C145.09,714.68 145.34,715.17 145.50,715.77 C145.67,716.37 145.72,717.25 145.67,717.99 C145.62,718.73 145.35,719.52 145.23,720.21 C145.11,720.91 145.13,721.69 144.95,722.15 C144.76,722.62 144.44,722.94 144.12,722.99 C143.79,723.03 143.38,722.71 143.01,722.43 C142.64,722.15 142.22,721.88 141.90,721.32 C141.57,720.77 141.39,719.75 141.07,719.10 C140.74,718.45 140.23,717.90 139.96,717.44 C139.68,716.98 139.45,716.61 139.40,716.33 C139.36,716.05 139.45,716.05 139.68,715.77 Z" fill="url(#zg1)" stroke="#262626" stroke-width="0.4"/>
<path d="M141.96,717.18 C142.04,717.07 142.16,716.88 142.36,716.77 C142.57,716.66 142.94,716.54 143.18,716.52 C143.42,716.50 143.64,716.56 143.80,716.66 C143.95,716.77 144.04,716.95 144.10,717.18 C144.16,717.40 144.18,717.72 144.16,717.99 C144.15,718.27 144.04,718.55 144.00,718.81 C143.96,719.07 143.97,719.36 143.90,719.53 C143.83,719.70 143.71,719.82 143.59,719.83 C143.47,719.85 143.32,719.73 143.18,719.63 C143.05,719.53 142.89,719.42 142.77,719.22 C142.65,719.01 142.59,718.64 142.47,718.40 C142.35,718.16 142.16,717.96 142.06,717.79 C141.96,717.62 141.87,717.48 141.85,717.38 C141.84,717.28 141.87,717.28 141.96,717.18 Z" fill="url(#zg1)" stroke="#262626" stroke-width="0.4"/>
<circle cx="130.10" cy="699.70" r="1.50" fill="#333" stroke="#000" stroke-width="0.8"/>
<circle cx="137.00" cy="704.60" r="1.40" fill="#555" stroke="#000" stroke-width="0.8"/>
<polyline points="132.30,673.00 129.40,708.80 132.30,743.80" stroke="#1a1a1a" stroke-width="0.8" fill="none"/>
<line x1="99.50" y1="708.50" x2="129.40" y2="708.50" stroke="#1a1a1a" stroke-width="0.8"/>
<line x1="129.40" y1="708.80" x2="170.30" y2="691.00" stroke="#1a1a1a" stroke-width="0.8"/>
<text x="101.70" y="683.70" font-size="9.75" fill="#ff2a2a">75.7%</text>
<text x="137.00" y="742.10" font-size="9.75" fill="#ff2a2a">23.8%</text>
<line x1="17.50" y1="750.00" x2="17.50" y2="724.50" stroke="#1a1a1a" stroke-width="0.9"/>
<polygon points="17.50,721.60 18.90,725.20 16.10,725.20" fill="#1a1a1a" stroke="none" stroke-width="1"/>
<line x1="17.50" y1="750.50" x2="44.20" y2="750.50" stroke="#1a1a1a" stroke-width="0.9"/>
<polygon points="47.00,750.00 43.40,751.40 43.40,748.60" fill="#1a1a1a" stroke="none" stroke-width="1"/>
<text x="48.60" y="754.20" font-size="9.75">CD45.2</text>
<text x="21.90" y="704.90" font-size="9.75" text-anchor="middle" transform="rotate(-90 21.90 704.90)">CD45.1</text>
<text x="188.40" y="593.40" font-size="15" font-weight="bold" fill="#000">I</text>
<line x1="219.20" y1="601.50" x2="226.70" y2="601.50" stroke="#2020ff" stroke-width="1.2"/>
<text x="230.80" y="604.90" font-size="9.75">DMSO</text>
<line x1="219.20" y1="610.50" x2="226.70" y2="610.50" stroke="#ff2020" stroke-width="1.2"/>
<text x="230.80" y="614.00" font-size="9.75">DhCer(d18:0/24:1)</text>
<line x1="218.50" y1="632.30" x2="218.50" y2="717.60" stroke="#1a1a1a" stroke-width="1.0"/>
<line x1="214.90" y1="717.50" x2="218.10" y2="717.50" stroke="#1a1a1a" stroke-width="1.0"/>
<text x="213.80" y="719.60" font-size="9.75" text-anchor="end">0</text>
<line x1="214.90" y1="696.50" x2="218.10" y2="696.50" stroke="#1a1a1a" stroke-width="1.0"/>
<text x="213.80" y="698.50" font-size="9.75" text-anchor="end">20</text>
<line x1="214.90" y1="674.50" x2="218.10" y2="674.50" stroke="#1a1a1a" stroke-width="1.0"/>
<text x="213.80" y="677.40" font-size="9.75" text-anchor="end">40</text>
<line x1="214.90" y1="653.50" x2="218.10" y2="653.50" stroke="#1a1a1a" stroke-width="1.0"/>
<text x="213.80" y="656.30" font-size="9.75" text-anchor="end">60</text>
<line x1="214.90" y1="632.50" x2="218.10" y2="632.50" stroke="#1a1a1a" stroke-width="1.0"/>
<text x="213.80" y="635.20" font-size="9.75" text-anchor="end">80</text>
<line x1="218.10" y1="717.50" x2="340.80" y2="717.50" stroke="#1a1a1a" stroke-width="1.0"/>
<text x="197.40" y="673.50" font-size="9.75" text-anchor="middle" transform="rotate(-90 197.40 673.50)">Donor chimerism in PB (%)</text>
<rect x="222.70" y="664.14" width="10.20" height="52.96" fill="#2b18ff"/>
<rect x="233.50" y="684.61" width="10.20" height="32.49" fill="#ff2a14"/>
<rect x="253.50" y="655.38" width="10.20" height="61.72" fill="#2b18ff"/>
<rect x="264.30" y="691.99" width="10.20" height="25.11" fill="#ff2a14"/>
<rect x="284.60" y="654.43" width="10.20" height="62.67" fill="#2b18ff"/>
<rect x="295.40" y="696.63" width="10.20" height="20.47" fill="#ff2a14"/>
<rect x="315.70" y="645.47" width="10.20" height="71.63" fill="#2b18ff"/>
<rect x="326.50" y="694.10" width="10.20" height="23.00" fill="#ff2a14"/>
<line x1="227.50" y1="658.80" x2="227.50" y2="668.00" stroke="#1a1a1a" stroke-width="0.9"/>
<line x1="225.60" y1="658.50" x2="230.00" y2="658.50" stroke="#1a1a1a" stroke-width="0.9"/>
<line x1="225.60" y1="668.50" x2="230.00" y2="668.50" stroke="#1a1a1a" stroke-width="0.9"/>
<circle cx="225.00" cy="663.30" r="1.55" fill="#000"/>
<circle cx="228.70" cy="660.20" r="1.55" fill="#000"/>
<circle cx="228.70" cy="665.40" r="1.55" fill="#000"/>
<circle cx="232.10" cy="663.30" r="1.55" fill="#000"/>
<circle cx="225.00" cy="666.60" r="1.55" fill="#000"/>
<line x1="238.50" y1="677.20" x2="238.50" y2="688.50" stroke="#1a1a1a" stroke-width="0.9"/>
<line x1="236.40" y1="677.50" x2="240.80" y2="677.50" stroke="#1a1a1a" stroke-width="0.9"/>
<line x1="236.40" y1="688.50" x2="240.80" y2="688.50" stroke="#1a1a1a" stroke-width="0.9"/>
<circle cx="238.20" cy="678.20" r="1.55" fill="#000"/>
<circle cx="238.20" cy="681.30" r="1.55" fill="#000"/>
<circle cx="235.50" cy="686.40" r="1.55" fill="#000"/>
<circle cx="241.70" cy="686.40" r="1.55" fill="#000"/>
<circle cx="238.20" cy="687.40" r="1.55" fill="#000"/>
<line x1="258.50" y1="651.70" x2="258.50" y2="661.90" stroke="#1a1a1a" stroke-width="0.9"/>
<line x1="256.40" y1="651.50" x2="260.80" y2="651.50" stroke="#1a1a1a" stroke-width="0.9"/>
<line x1="256.40" y1="661.50" x2="260.80" y2="661.50" stroke="#1a1a1a" stroke-width="0.9"/>
<circle cx="255.40" cy="651.70" r="1.55" fill="#000"/>
<circle cx="259.00" cy="656.40" r="1.55" fill="#000"/>
<circle cx="262.70" cy="653.10" r="1.55" fill="#000"/>
<circle cx="255.40" cy="660.90" r="1.55" fill="#000"/>
<circle cx="262.70" cy="658.80" r="1.55" fill="#000"/>
<line x1="269.50" y1="685.00" x2="269.50" y2="697.60" stroke="#1a1a1a" stroke-width="0.9"/>
<line x1="267.30" y1="685.50" x2="271.70" y2="685.50" stroke="#1a1a1a" stroke-width="0.9"/>
<line x1="267.30" y1="697.50" x2="271.70" y2="697.50" stroke="#1a1a1a" stroke-width="0.9"/>
<circle cx="269.30" cy="685.00" r="1.55" fill="#000"/>
<circle cx="265.20" cy="693.60" r="1.55" fill="#000"/>
<circle cx="269.30" cy="694.60" r="1.55" fill="#000"/>
<circle cx="273.40" cy="694.60" r="1.55" fill="#000"/>
<circle cx="269.30" cy="690.40" r="1.55" fill="#000"/>
<line x1="289.50" y1="648.20" x2="289.50" y2="661.90" stroke="#1a1a1a" stroke-width="0.9"/>
<line x1="287.50" y1="648.50" x2="291.90" y2="648.50" stroke="#1a1a1a" stroke-width="0.9"/>
<line x1="287.50" y1="661.50" x2="291.90" y2="661.50" stroke="#1a1a1a" stroke-width="0.9"/>
<circle cx="289.70" cy="648.20" r="1.55" fill="#000"/>
<circle cx="286.60" cy="653.70" r="1.55" fill="#000"/>
<circle cx="293.80" cy="652.70" r="1.55" fill="#000"/>
<circle cx="290.10" cy="656.80" r="1.55" fill="#000"/>
<circle cx="290.10" cy="661.90" r="1.55" fill="#000"/>
<line x1="300.50" y1="691.90" x2="300.50" y2="699.50" stroke="#1a1a1a" stroke-width="0.9"/>
<line x1="298.30" y1="691.50" x2="302.70" y2="691.50" stroke="#1a1a1a" stroke-width="0.9"/>
<line x1="298.30" y1="699.50" x2="302.70" y2="699.50" stroke="#1a1a1a" stroke-width="0.9"/>
<circle cx="300.00" cy="692.00" r="1.55" fill="#000"/>
<circle cx="296.90" cy="697.70" r="1.55" fill="#000"/>
<circle cx="300.00" cy="698.70" r="1.55" fill="#000"/>
<circle cx="304.40" cy="697.30" r="1.55" fill="#000"/>
<circle cx="300.00" cy="696.60" r="1.55" fill="#000"/>
<line x1="320.50" y1="638.00" x2="320.50" y2="651.70" stroke="#1a1a1a" stroke-width="0.9"/>
<line x1="318.60" y1="638.50" x2="323.00" y2="638.50" stroke="#1a1a1a" stroke-width="0.9"/>
<line x1="318.60" y1="651.50" x2="323.00" y2="651.50" stroke="#1a1a1a" stroke-width="0.9"/>
<circle cx="320.40" cy="638.00" r="1.55" fill="#000"/>
<circle cx="317.30" cy="645.50" r="1.55" fill="#000"/>
<circle cx="324.40" cy="644.90" r="1.55" fill="#000"/>
<circle cx="320.40" cy="650.60" r="1.55" fill="#000"/>
<circle cx="317.30" cy="651.70" r="1.55" fill="#000"/>
<line x1="331.50" y1="689.10" x2="331.50" y2="703.80" stroke="#1a1a1a" stroke-width="0.9"/>
<line x1="329.40" y1="689.50" x2="333.80" y2="689.50" stroke="#1a1a1a" stroke-width="0.9"/>
<line x1="329.40" y1="703.50" x2="333.80" y2="703.50" stroke="#1a1a1a" stroke-width="0.9"/>
<circle cx="329.60" cy="689.10" r="1.55" fill="#000"/>
<circle cx="334.30" cy="689.50" r="1.55" fill="#000"/>
<circle cx="331.60" cy="697.30" r="1.55" fill="#000"/>
<circle cx="329.60" cy="700.70" r="1.55" fill="#000"/>
<circle cx="331.60" cy="703.80" r="1.55" fill="#000"/>
<text x="235.00" y="641.90" font-size="7.0" text-anchor="middle" fill="#2a2a2a"><tspan font-style="italic">P</tspan>&lt;0.0001</text>
<line x1="224.70" y1="644.50" x2="240.70" y2="644.50" stroke="#2a2a2a" stroke-width="0.9"/>
<text x="262.10" y="629.80" font-size="7.0" text-anchor="middle" fill="#2a2a2a"><tspan font-style="italic">P</tspan>&lt;0.0001</text>
<line x1="255.40" y1="632.50" x2="270.90" y2="632.50" stroke="#2a2a2a" stroke-width="0.9"/>
<text x="290.40" y="641.90" font-size="7.0" text-anchor="middle" fill="#2a2a2a"><tspan font-style="italic">P</tspan>&lt;0.0001</text>
<line x1="286.60" y1="644.50" x2="302.00" y2="644.50" stroke="#2a2a2a" stroke-width="0.9"/>
<text x="326.70" y="629.80" font-size="7.0" text-anchor="middle" fill="#2a2a2a"><tspan font-style="italic">P</tspan>&lt;0.0001</text>
<line x1="317.30" y1="632.50" x2="333.60" y2="632.50" stroke="#2a2a2a" stroke-width="0.9"/>
<text x="232.00" y="727.30" font-size="9.75" text-anchor="middle">1</text>
<text x="263.80" y="727.30" font-size="9.75" text-anchor="middle">2</text>
<text x="294.20" y="727.30" font-size="9.75" text-anchor="middle">3</text>
<text x="322.00" y="727.30" font-size="9.75">4</text>
<text x="328.60" y="727.30" font-size="9.75">mon</text>
<text x="356.00" y="594.60" font-size="15" font-weight="bold" fill="#000">J</text>
<rect x="391.60" y="598.10" width="6.60" height="6.40" fill="#2b18ff"/>
<text x="401.10" y="604.90" font-size="9.75">DMSO</text>
<rect x="391.60" y="607.60" width="6.60" height="6.40" fill="#ff2a14"/>
<text x="401.10" y="614.00" font-size="9.75">DhCer(d18:0/24:1)</text>
<line x1="389.50" y1="632.30" x2="389.50" y2="717.60" stroke="#1a1a1a" stroke-width="1.0"/>
<line x1="386.00" y1="717.50" x2="389.20" y2="717.50" stroke="#1a1a1a" stroke-width="1.0"/>
<text x="385.00" y="719.60" font-size="9.75" text-anchor="end">0</text>
<line x1="386.00" y1="696.50" x2="389.20" y2="696.50" stroke="#1a1a1a" stroke-width="1.0"/>
<text x="385.00" y="698.50" font-size="9.75" text-anchor="end">20</text>
<line x1="386.00" y1="674.50" x2="389.20" y2="674.50" stroke="#1a1a1a" stroke-width="1.0"/>
<text x="385.00" y="677.40" font-size="9.75" text-anchor="end">40</text>
<line x1="386.00" y1="653.50" x2="389.20" y2="653.50" stroke="#1a1a1a" stroke-width="1.0"/>
<text x="385.00" y="656.30" font-size="9.75" text-anchor="end">60</text>
<line x1="386.00" y1="632.50" x2="389.20" y2="632.50" stroke="#1a1a1a" stroke-width="1.0"/>
<text x="385.00" y="635.20" font-size="9.75" text-anchor="end">80</text>
<line x1="389.20" y1="717.50" x2="512.80" y2="717.50" stroke="#1a1a1a" stroke-width="1.0"/>
<text x="369.40" y="672.30" font-size="9.75" text-anchor="middle" transform="rotate(-90 369.40 672.30)">Donor chimerism in PB (%)</text>
<rect x="395.30" y="650.85" width="13.60" height="66.25" fill="#2b18ff"/>
<rect x="409.50" y="692.84" width="13.60" height="24.26" fill="#ff2a14"/>
<rect x="436.80" y="646.84" width="13.60" height="70.26" fill="#2b18ff"/>
<rect x="451.00" y="691.78" width="13.60" height="25.32" fill="#ff2a14"/>
<rect x="478.10" y="646.52" width="13.60" height="70.58" fill="#2b18ff"/>
<rect x="492.30" y="693.26" width="13.60" height="23.84" fill="#ff2a14"/>
<line x1="402.50" y1="646.60" x2="402.50" y2="653.70" stroke="#1a1a1a" stroke-width="0.9"/>
<line x1="399.70" y1="646.50" x2="404.70" y2="646.50" stroke="#1a1a1a" stroke-width="0.9"/>
<line x1="399.70" y1="653.50" x2="404.70" y2="653.50" stroke="#1a1a1a" stroke-width="0.9"/>
<circle cx="398.80" cy="647.60" r="1.55" fill="#000"/>
<circle cx="402.50" cy="646.60" r="1.55" fill="#000"/>
<circle cx="406.60" cy="649.20" r="1.55" fill="#000"/>
<circle cx="399.40" cy="654.70" r="1.55" fill="#000"/>
<circle cx="404.10" cy="653.30" r="1.55" fill="#000"/>
<line x1="416.50" y1="688.00" x2="416.50" y2="697.00" stroke="#1a1a1a" stroke-width="0.9"/>
<line x1="414.00" y1="688.50" x2="419.00" y2="688.50" stroke="#1a1a1a" stroke-width="0.9"/>
<line x1="414.00" y1="697.50" x2="419.00" y2="697.50" stroke="#1a1a1a" stroke-width="0.9"/>
<circle cx="413.70" cy="688.50" r="1.55" fill="#000"/>
<circle cx="418.80" cy="689.50" r="1.55" fill="#000"/>
<circle cx="413.70" cy="691.90" r="1.55" fill="#000"/>
<circle cx="418.80" cy="693.60" r="1.55" fill="#000"/>
<circle cx="415.80" cy="697.30" r="1.55" fill="#000"/>
<line x1="443.50" y1="639.50" x2="443.50" y2="652.70" stroke="#1a1a1a" stroke-width="0.9"/>
<line x1="441.10" y1="639.50" x2="446.10" y2="639.50" stroke="#1a1a1a" stroke-width="0.9"/>
<line x1="441.10" y1="652.50" x2="446.10" y2="652.50" stroke="#1a1a1a" stroke-width="0.9"/>
<circle cx="443.80" cy="638.80" r="1.55" fill="#000"/>
<circle cx="439.30" cy="646.60" r="1.55" fill="#000"/>
<circle cx="448.50" cy="647.60" r="1.55" fill="#000"/>
<circle cx="443.40" cy="652.70" r="1.55" fill="#000"/>
<circle cx="444.20" cy="650.60" r="1.55" fill="#000"/>
<line x1="457.50" y1="686.50" x2="457.50" y2="694.00" stroke="#1a1a1a" stroke-width="0.9"/>
<line x1="455.40" y1="686.50" x2="460.40" y2="686.50" stroke="#1a1a1a" stroke-width="0.9"/>
<line x1="455.40" y1="694.50" x2="460.40" y2="694.50" stroke="#1a1a1a" stroke-width="0.9"/>
<circle cx="457.70" cy="687.00" r="1.55" fill="#000"/>
<circle cx="453.20" cy="692.60" r="1.55" fill="#000"/>
<circle cx="456.00" cy="694.00" r="1.55" fill="#000"/>
<circle cx="460.70" cy="692.00" r="1.55" fill="#000"/>
<circle cx="463.40" cy="693.60" r="1.55" fill="#000"/>
<line x1="484.50" y1="641.00" x2="484.50" y2="652.00" stroke="#1a1a1a" stroke-width="0.9"/>
<line x1="482.30" y1="641.50" x2="487.30" y2="641.50" stroke="#1a1a1a" stroke-width="0.9"/>
<line x1="482.30" y1="652.50" x2="487.30" y2="652.50" stroke="#1a1a1a" stroke-width="0.9"/>
<circle cx="482.20" cy="640.80" r="1.55" fill="#000"/>
<circle cx="485.90" cy="643.50" r="1.55" fill="#000"/>
<circle cx="483.20" cy="647.60" r="1.55" fill="#000"/>
<circle cx="487.30" cy="648.60" r="1.55" fill="#000"/>
<circle cx="484.60" cy="653.10" r="1.55" fill="#000"/>
<line x1="498.50" y1="688.00" x2="498.50" y2="697.00" stroke="#1a1a1a" stroke-width="0.9"/>
<line x1="496.40" y1="688.50" x2="501.40" y2="688.50" stroke="#1a1a1a" stroke-width="0.9"/>
<line x1="496.40" y1="697.50" x2="501.40" y2="697.50" stroke="#1a1a1a" stroke-width="0.9"/>
<circle cx="495.50" cy="688.50" r="1.55" fill="#000"/>
<circle cx="501.60" cy="688.50" r="1.55" fill="#000"/>
<circle cx="498.10" cy="691.50" r="1.55" fill="#000"/>
<circle cx="496.10" cy="697.70" r="1.55" fill="#000"/>
<circle cx="502.20" cy="695.60" r="1.55" fill="#000"/>
<text x="410.00" y="630.20" font-size="7.0" text-anchor="middle" fill="#2a2a2a"><tspan font-style="italic">P</tspan>&lt;0.0001</text>
<line x1="400.80" y1="633.50" x2="416.40" y2="633.50" stroke="#2a2a2a" stroke-width="0.9"/>
<text x="451.00" y="630.20" font-size="7.0" text-anchor="middle" fill="#2a2a2a"><tspan font-style="italic">P</tspan>&lt;0.0001</text>
<line x1="442.30" y1="633.50" x2="458.70" y2="633.50" stroke="#2a2a2a" stroke-width="0.9"/>
<text x="491.40" y="630.20" font-size="7.0" text-anchor="middle" fill="#2a2a2a"><tspan font-style="italic">P</tspan>&lt;0.0001</text>
<line x1="483.60" y1="633.50" x2="499.60" y2="633.50" stroke="#2a2a2a" stroke-width="0.9"/>
<text x="409.40" y="727.90" font-size="9.75" text-anchor="middle">Myeloid</text>
<text x="451.10" y="727.90" font-size="9.75" text-anchor="middle">B cells</text>
<text x="492.60" y="727.90" font-size="9.75" text-anchor="middle">T cells</text>
<line x1="391.20" y1="732.50" x2="505.70" y2="732.50" stroke="#1a1a1a" stroke-width="0.9"/>
<text x="450.50" y="740.60" font-size="9.75" text-anchor="middle">4 mon</text>
<text x="515.60" y="595.00" font-size="15" font-weight="bold" fill="#000">K</text>
<rect x="559.60" y="598.00" width="6.80" height="6.70" fill="#2b18ff"/>
<text x="571.20" y="604.90" font-size="9.75">DMSO</text>
<rect x="559.60" y="607.60" width="6.80" height="6.70" fill="#ff2a14"/>
<text x="571.20" y="614.00" font-size="9.75">DhCer(d18:0/24:1)</text>
<line x1="560.50" y1="632.40" x2="560.50" y2="717.70" stroke="#1a1a1a" stroke-width="1.0"/>
<line x1="557.40" y1="717.50" x2="560.60" y2="717.50" stroke="#1a1a1a" stroke-width="1.0"/>
<text x="555.60" y="719.70" font-size="9.75" text-anchor="end">0</text>
<line x1="557.40" y1="696.50" x2="560.60" y2="696.50" stroke="#1a1a1a" stroke-width="1.0"/>
<text x="555.60" y="698.60" font-size="9.75" text-anchor="end">20</text>
<line x1="557.40" y1="675.50" x2="560.60" y2="675.50" stroke="#1a1a1a" stroke-width="1.0"/>
<text x="555.60" y="677.50" font-size="9.75" text-anchor="end">40</text>
<line x1="557.40" y1="653.50" x2="560.60" y2="653.50" stroke="#1a1a1a" stroke-width="1.0"/>
<text x="555.60" y="656.40" font-size="9.75" text-anchor="end">60</text>
<line x1="557.40" y1="632.50" x2="560.60" y2="632.50" stroke="#1a1a1a" stroke-width="1.0"/>
<text x="555.60" y="635.30" font-size="9.75" text-anchor="end">80</text>
<line x1="560.60" y1="717.50" x2="681.10" y2="717.50" stroke="#1a1a1a" stroke-width="1.0"/>
<text x="536.50" y="669.70" font-size="9.75" text-anchor="middle" transform="rotate(-90 536.50 669.70)">Donor chimerism in BM (%)</text>
<rect x="565.40" y="646.30" width="9.90" height="70.90" fill="#2b18ff"/>
<rect x="576.00" y="693.15" width="9.90" height="24.05" fill="#ff2a14"/>
<rect x="596.30" y="657.70" width="9.90" height="59.50" fill="#2b18ff"/>
<rect x="606.90" y="682.81" width="9.90" height="34.39" fill="#ff2a14"/>
<rect x="626.90" y="654.43" width="9.90" height="62.77" fill="#2b18ff"/>
<rect x="637.50" y="686.71" width="9.90" height="30.49" fill="#ff2a14"/>
<rect x="658.00" y="645.67" width="9.90" height="71.53" fill="#2b18ff"/>
<rect x="668.60" y="693.99" width="9.90" height="23.21" fill="#ff2a14"/>
<line x1="570.50" y1="643.00" x2="570.50" y2="652.00" stroke="#1a1a1a" stroke-width="0.9"/>
<line x1="568.10" y1="643.50" x2="572.50" y2="643.50" stroke="#1a1a1a" stroke-width="0.9"/>
<line x1="568.10" y1="652.50" x2="572.50" y2="652.50" stroke="#1a1a1a" stroke-width="0.9"/>
<circle cx="567.30" cy="644.60" r="1.55" fill="#000"/>
<circle cx="571.70" cy="643.30" r="1.55" fill="#000"/>
<circle cx="574.00" cy="645.20" r="1.55" fill="#000"/>
<circle cx="568.10" cy="650.50" r="1.55" fill="#000"/>
<circle cx="572.70" cy="651.50" r="1.55" fill="#000"/>
<line x1="581.50" y1="688.00" x2="581.50" y2="696.00" stroke="#1a1a1a" stroke-width="0.9"/>
<line x1="578.80" y1="688.50" x2="583.20" y2="688.50" stroke="#1a1a1a" stroke-width="0.9"/>
<line x1="578.80" y1="696.50" x2="583.20" y2="696.50" stroke="#1a1a1a" stroke-width="0.9"/>
<circle cx="581.10" cy="688.00" r="1.55" fill="#000"/>
<circle cx="581.10" cy="690.00" r="1.55" fill="#000"/>
<circle cx="577.60" cy="695.90" r="1.55" fill="#000"/>
<circle cx="580.60" cy="696.40" r="1.55" fill="#000"/>
<circle cx="583.90" cy="695.90" r="1.55" fill="#000"/>
<line x1="601.50" y1="651.00" x2="601.50" y2="665.70" stroke="#1a1a1a" stroke-width="0.9"/>
<line x1="599.00" y1="651.50" x2="603.40" y2="651.50" stroke="#1a1a1a" stroke-width="0.9"/>
<line x1="599.00" y1="665.50" x2="603.40" y2="665.50" stroke="#1a1a1a" stroke-width="0.9"/>
<circle cx="597.30" cy="651.10" r="1.55" fill="#000"/>
<circle cx="601.60" cy="654.50" r="1.55" fill="#000"/>
<circle cx="604.80" cy="659.40" r="1.55" fill="#000"/>
<circle cx="598.90" cy="661.40" r="1.55" fill="#000"/>
<circle cx="601.20" cy="665.70" r="1.55" fill="#000"/>
<line x1="612.50" y1="677.50" x2="612.50" y2="688.00" stroke="#1a1a1a" stroke-width="0.9"/>
<line x1="609.90" y1="677.50" x2="614.30" y2="677.50" stroke="#1a1a1a" stroke-width="0.9"/>
<line x1="609.90" y1="688.50" x2="614.30" y2="688.50" stroke="#1a1a1a" stroke-width="0.9"/>
<circle cx="611.50" cy="677.50" r="1.55" fill="#000"/>
<circle cx="611.50" cy="680.10" r="1.55" fill="#000"/>
<circle cx="608.70" cy="686.00" r="1.55" fill="#000"/>
<circle cx="612.10" cy="686.00" r="1.55" fill="#000"/>
<circle cx="615.40" cy="687.00" r="1.55" fill="#000"/>
<line x1="631.50" y1="647.60" x2="631.50" y2="663.00" stroke="#1a1a1a" stroke-width="0.9"/>
<line x1="629.60" y1="647.50" x2="634.00" y2="647.50" stroke="#1a1a1a" stroke-width="0.9"/>
<line x1="629.60" y1="663.50" x2="634.00" y2="663.50" stroke="#1a1a1a" stroke-width="0.9"/>
<circle cx="632.40" cy="647.60" r="1.55" fill="#000"/>
<circle cx="628.80" cy="651.50" r="1.55" fill="#000"/>
<circle cx="636.10" cy="651.10" r="1.55" fill="#000"/>
<circle cx="631.80" cy="657.40" r="1.55" fill="#000"/>
<circle cx="632.40" cy="663.00" r="1.55" fill="#000"/>
<line x1="642.50" y1="678.50" x2="642.50" y2="694.50" stroke="#1a1a1a" stroke-width="0.9"/>
<line x1="640.60" y1="678.50" x2="645.00" y2="678.50" stroke="#1a1a1a" stroke-width="0.9"/>
<line x1="640.60" y1="694.50" x2="645.00" y2="694.50" stroke="#1a1a1a" stroke-width="0.9"/>
<circle cx="642.60" cy="675.20" r="1.55" fill="#000"/>
<circle cx="642.60" cy="678.50" r="1.55" fill="#000"/>
<circle cx="640.70" cy="689.00" r="1.55" fill="#000"/>
<circle cx="642.60" cy="694.50" r="1.55" fill="#000"/>
<circle cx="646.60" cy="694.50" r="1.55" fill="#000"/>
<line x1="663.50" y1="639.70" x2="663.50" y2="651.10" stroke="#1a1a1a" stroke-width="0.9"/>
<line x1="660.90" y1="639.50" x2="665.30" y2="639.50" stroke="#1a1a1a" stroke-width="0.9"/>
<line x1="660.90" y1="651.50" x2="665.30" y2="651.50" stroke="#1a1a1a" stroke-width="0.9"/>
<circle cx="662.70" cy="639.70" r="1.55" fill="#000"/>
<circle cx="662.70" cy="642.70" r="1.55" fill="#000"/>
<circle cx="660.40" cy="646.60" r="1.55" fill="#000"/>
<circle cx="666.30" cy="647.20" r="1.55" fill="#000"/>
<circle cx="662.70" cy="651.10" r="1.55" fill="#000"/>
<line x1="673.50" y1="688.00" x2="673.50" y2="701.20" stroke="#1a1a1a" stroke-width="0.9"/>
<line x1="671.50" y1="688.50" x2="675.90" y2="688.50" stroke="#1a1a1a" stroke-width="0.9"/>
<line x1="671.50" y1="701.50" x2="675.90" y2="701.50" stroke="#1a1a1a" stroke-width="0.9"/>
<circle cx="673.80" cy="688.00" r="1.55" fill="#000"/>
<circle cx="670.20" cy="692.50" r="1.55" fill="#000"/>
<circle cx="677.70" cy="692.50" r="1.55" fill="#000"/>
<circle cx="671.80" cy="696.50" r="1.55" fill="#000"/>
<circle cx="673.80" cy="701.20" r="1.55" fill="#000"/>
<text x="577.60" y="637.30" font-size="7.0" text-anchor="middle" fill="#2a2a2a"><tspan font-style="italic">P</tspan>&lt;0.0001</text>
<line x1="567.70" y1="639.50" x2="583.50" y2="639.50" stroke="#2a2a2a" stroke-width="0.9"/>
<text x="604.20" y="626.30" font-size="7.0" text-anchor="middle" fill="#2a2a2a"><tspan font-style="italic">P</tspan>&lt;0.0001</text>
<line x1="598.30" y1="629.50" x2="614.00" y2="629.50" stroke="#2a2a2a" stroke-width="0.9"/>
<text x="632.80" y="637.30" font-size="7.0" text-anchor="middle" fill="#2a2a2a"><tspan font-style="italic">P</tspan>=0.0001</text>
<line x1="628.80" y1="639.50" x2="645.00" y2="639.50" stroke="#2a2a2a" stroke-width="0.9"/>
<text x="668.90" y="626.30" font-size="7.0" text-anchor="middle" fill="#2a2a2a"><tspan font-style="italic">P</tspan>&lt;0.0001</text>
<line x1="660.40" y1="629.50" x2="675.70" y2="629.50" stroke="#2a2a2a" stroke-width="0.9"/>
<text x="576.60" y="727.40" font-size="9.75" text-anchor="middle">BM</text>
<text x="608.40" y="727.40" font-size="9.75" text-anchor="middle">LK</text>
<text x="638.70" y="727.40" font-size="9.75" text-anchor="middle">LSK</text>
<text x="669.00" y="727.40" font-size="9.75" text-anchor="middle">HSCs</text>
<line x1="566.20" y1="731.50" x2="680.50" y2="731.50" stroke="#1a1a1a" stroke-width="0.9"/>
<text x="625.40" y="739.80" font-size="9.75" text-anchor="middle">4 mon</text>
</svg>
</body></html>
